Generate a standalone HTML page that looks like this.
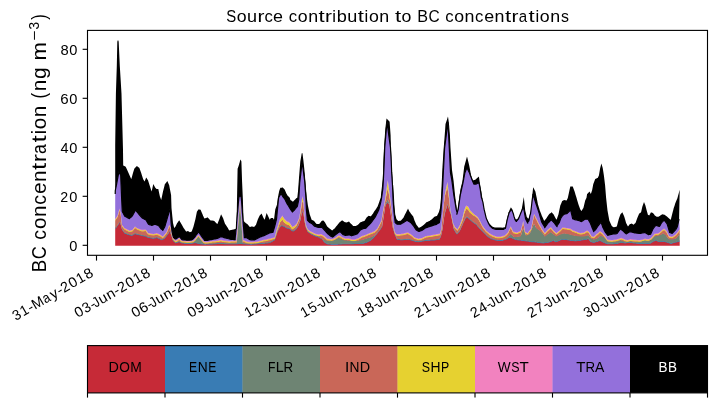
<!DOCTYPE html>
<html><head><meta charset="utf-8"><title>Source contribution to BC concentrations</title>
<style>html,body{margin:0;padding:0;background:#fff;width:717px;height:402px;overflow:hidden}svg{display:block;will-change:transform}</style>
</head><body>
<svg width="717" height="402" viewBox="0 0 717 402" font-family='"Liberation Sans", sans-serif'>
<rect width="717" height="402" fill="#fff"/>
<clipPath id="ax"><rect x="87.5" y="30.4" width="620.0" height="224.9"/></clipPath>
<g clip-path="url(#ax)">
<path d="M115.2,228.6 115.9,227.7 116.8,226.5 117.0,226.3 117.2,226.0 117.3,225.9 117.6,225.5 118.4,224.2 118.7,223.7 119.2,222.9 119.5,222.4 119.8,222.8 120.1,223.1 120.5,223.6 120.7,224.3 121.0,225.5 121.2,226.2 121.5,227.3 121.7,228.1 122.0,229.2 123.0,230.8 123.2,231.1 124.4,233.0 125.2,233.3 125.7,233.5 127.2,234.0 128.2,234.4 129.2,234.7 129.4,234.8 131.2,235.3 131.3,235.3 131.9,235.5 132.5,235.1 133.2,234.7 134.4,234.0 135.0,233.6 135.2,233.7 135.6,233.8 136.9,234.2 137.2,234.3 138.1,234.5 139.2,234.8 139.4,234.8 141.2,235.3 141.9,235.5 143.1,235.7 143.2,235.7 144.6,235.9 145.2,236.0 145.6,236.1 146.2,236.4 147.2,236.9 148.1,237.3 149.2,237.5 150.0,237.7 151.2,237.9 151.6,238.0 151.8,238.0 153.1,238.3 153.2,238.3 153.3,238.3 154.9,238.0 155.2,237.9 155.3,237.9 156.6,237.6 156.8,237.6 157.2,237.8 158.0,238.1 158.3,238.2 159.2,238.6 159.3,238.6 159.9,238.9 160.5,239.2 161.2,239.5 161.8,239.8 163.0,239.2 163.2,239.1 164.3,238.6 164.9,237.9 165.2,237.5 165.5,237.1 166.8,235.5 167.2,235.0 167.4,234.8 168.0,233.9 169.2,232.1 169.9,231.1 170.5,232.9 171.1,234.8 171.2,235.1 171.5,236.0 171.7,236.6 172.4,238.6 173.0,240.4 173.2,240.6 173.6,241.0 174.2,241.6 175.2,242.6 175.5,242.9 176.7,242.5 177.2,242.3 177.3,242.3 179.2,241.7 181.1,242.6 181.2,242.7 181.7,242.9 183.2,243.1 183.6,243.1 184.2,243.2 185.2,243.3 186.1,243.4 186.7,243.5 187.2,243.5 187.9,243.5 189.2,243.4 189.8,243.4 191.2,243.3 191.7,243.3 193.0,243.0 193.2,243.0 193.5,242.9 195.0,242.6 195.2,242.6 195.4,242.7 196.0,242.8 196.9,243.1 197.2,243.1 198.5,243.5 198.7,243.5 199.2,243.6 200.6,243.7 201.2,243.8 202.5,243.9 203.2,244.0 203.7,244.1 204.3,244.1 205.0,244.2 205.2,244.2 206.2,244.1 207.2,244.1 207.4,244.1 209.2,244.0 209.3,244.0 210.6,243.9 211.2,243.9 212.4,243.9 213.2,243.8 213.7,243.8 214.3,243.8 215.2,243.7 216.2,243.7 217.2,243.6 217.4,243.6 219.2,243.5 219.3,243.5 219.9,243.5 221.1,243.5 221.2,243.6 223.0,243.6 223.2,243.6 224.9,243.7 225.2,243.7 227.2,243.8 227.4,243.8 229.2,243.8 229.8,243.8 231.1,243.8 231.2,243.8 233.2,243.8 233.6,243.8 235.1,243.8 235.2,243.8 235.6,243.8 236.1,243.8 236.3,243.8 236.4,243.8 236.5,243.8 236.7,243.8 237.0,243.7 237.2,243.7 237.6,243.7 238.5,243.6 239.2,243.5 239.3,243.5 239.7,243.5 239.8,243.5 240.0,243.5 240.4,243.5 240.5,243.5 240.8,243.6 241.2,243.6 241.4,243.6 242.1,243.6 242.8,243.7 242.9,243.7 243.1,243.7 243.2,243.7 243.5,243.7 243.8,243.7 244.8,243.8 245.2,243.8 246.0,243.9 247.2,244.0 247.3,244.0 249.2,244.1 249.8,244.1 251.0,244.2 251.2,244.2 252.2,244.1 253.2,244.1 254.1,244.0 254.7,244.0 255.2,243.9 256.0,243.9 257.2,243.8 257.9,243.7 259.2,243.6 259.7,243.6 261.2,243.5 261.6,243.5 262.2,243.4 263.2,243.3 263.5,243.3 264.7,243.2 265.2,243.1 266.6,242.9 267.2,242.9 268.4,242.7 269.2,242.7 269.7,242.6 270.9,241.9 271.2,241.8 272.2,241.2 272.8,240.9 273.2,240.6 273.4,240.5 274.0,240.2 274.7,239.8 275.2,238.3 275.3,238.0 276.5,234.4 277.1,232.6 277.2,232.3 277.3,232.0 277.9,230.8 278.2,230.1 278.4,229.7 279.0,228.5 279.2,228.2 279.9,227.3 280.4,226.6 280.5,226.5 281.0,226.1 281.2,225.9 281.7,225.5 282.4,225.8 282.9,225.9 283.2,226.0 284.2,226.4 284.8,226.8 285.2,227.0 286.6,227.9 286.7,228.0 287.2,228.1 287.9,228.3 288.6,228.5 289.2,228.6 289.8,229.1 290.4,229.5 291.2,230.1 291.7,230.5 292.3,230.7 292.9,230.9 293.2,231.0 293.6,231.1 294.8,230.1 295.2,229.8 295.4,229.7 296.0,229.2 296.7,228.2 297.2,227.4 297.3,227.3 297.9,226.4 298.1,226.1 298.5,225.5 299.1,223.7 299.2,223.4 299.3,223.1 300.3,220.2 300.4,219.9 301.0,216.8 301.2,215.8 301.6,213.7 302.0,212.7 302.2,212.2 302.3,212.0 302.5,211.5 302.6,211.2 303.2,212.9 303.4,213.4 303.5,213.7 304.1,217.7 304.7,221.7 304.8,222.4 305.2,224.3 305.3,224.7 305.8,227.1 305.9,227.5 306.0,228.0 306.6,229.2 306.8,229.6 307.2,230.3 307.9,231.7 309.1,232.6 309.2,232.7 309.7,233.1 310.4,233.6 311.2,234.0 311.6,234.2 313.2,235.0 314.1,235.5 315.2,235.9 316.6,236.3 317.2,236.5 317.8,236.7 319.1,237.3 319.2,237.4 320.9,238.2 321.2,238.4 321.6,238.6 322.8,240.0 323.2,240.5 323.4,240.7 324.0,241.5 324.7,242.3 325.2,242.6 325.3,242.7 327.2,243.8 327.8,243.9 329.2,244.0 329.6,244.0 330.3,244.1 331.2,244.2 331.5,244.2 332.1,244.2 332.8,244.2 333.2,244.2 334.6,244.2 335.2,244.2 336.5,244.2 337.1,244.2 337.2,244.2 338.4,244.1 339.0,244.0 339.2,244.0 339.6,244.0 340.0,244.0 341.2,243.9 342.2,243.8 342.7,243.8 343.2,243.8 344.5,243.8 345.2,243.8 345.4,243.8 346.7,243.8 347.2,243.8 349.0,243.8 349.2,243.8 350.2,243.8 351.2,243.8 351.6,243.7 353.2,243.7 353.4,243.7 354.3,243.6 355.2,243.6 355.7,243.6 357.2,243.5 357.7,243.5 357.9,243.5 358.8,243.5 359.2,243.5 360.1,243.5 360.6,243.5 361.2,243.5 361.5,243.5 362.4,243.5 363.2,243.3 363.3,243.2 364.2,243.0 364.6,242.8 365.2,242.7 366.0,242.4 366.8,242.2 367.2,242.0 368.6,241.3 369.2,241.0 369.5,240.8 370.4,240.4 370.9,240.0 371.2,239.7 371.3,239.6 372.2,238.8 372.7,238.4 373.2,237.9 374.0,237.2 374.9,236.1 375.2,235.7 375.8,235.0 375.9,234.9 377.2,233.3 377.6,232.8 377.8,232.5 378.6,231.5 379.2,230.7 379.4,230.4 379.7,230.0 380.7,228.7 381.2,228.0 381.4,227.7 381.5,227.6 382.0,226.9 382.2,225.7 382.8,222.1 383.1,220.2 383.2,219.6 383.4,218.4 383.7,216.6 384.0,214.6 384.9,208.6 385.2,206.5 385.3,205.9 385.4,205.2 386.5,203.6 387.1,202.8 387.2,202.7 387.8,201.8 389.2,204.8 389.4,205.2 389.6,206.5 389.9,208.6 390.0,209.2 390.6,213.2 390.9,215.3 391.1,216.6 391.2,217.2 391.5,219.2 391.7,220.4 391.9,221.7 392.1,223.0 392.5,225.5 392.9,228.1 393.1,228.7 393.2,229.0 393.4,229.6 394.0,231.5 394.4,232.7 394.6,233.4 395.1,234.9 395.2,235.1 396.5,237.9 397.1,239.2 397.2,239.2 398.3,239.4 399.2,239.5 399.6,239.6 400.8,239.8 401.2,239.8 403.2,239.7 403.3,239.7 403.9,239.6 404.6,239.6 405.2,239.5 405.8,239.5 407.0,239.3 407.2,239.3 407.7,239.3 408.0,239.2 408.3,239.2 409.2,239.4 409.5,239.5 410.2,239.7 410.8,239.8 411.2,239.9 411.4,240.0 413.2,240.6 413.3,240.7 414.5,241.1 415.2,241.2 415.8,241.3 416.4,241.4 417.2,241.5 418.2,241.7 418.9,241.6 419.2,241.5 421.2,241.2 421.4,241.2 422.0,241.1 423.2,240.9 423.9,240.7 425.2,240.5 425.7,240.4 426.3,240.4 427.2,240.3 429.2,240.2 429.5,240.2 430.7,240.1 431.2,240.1 431.9,240.0 433.2,239.9 434.4,239.9 435.2,239.8 435.7,239.8 436.9,239.6 437.2,239.6 438.8,239.3 439.2,239.2 439.4,239.2 440.0,238.0 440.9,236.1 441.0,235.7 441.2,234.8 441.3,234.4 441.6,233.1 442.2,230.5 442.5,229.2 442.6,228.5 443.2,224.0 443.5,221.8 443.7,220.3 443.9,218.8 444.5,214.3 444.8,213.3 444.9,213.0 445.2,212.0 445.5,211.0 447.2,205.5 447.4,204.8 447.5,204.5 447.7,205.1 448.0,205.9 448.7,208.0 448.9,208.5 449.2,209.4 449.3,209.7 449.9,211.4 450.5,213.1 450.6,213.4 450.9,214.3 451.2,215.8 452.0,219.8 452.4,221.8 453.2,225.7 453.6,227.7 453.9,229.2 454.9,230.9 455.0,231.1 455.2,231.4 455.7,232.3 456.3,233.3 456.6,233.8 457.2,233.8 457.4,233.8 458.3,232.6 458.7,232.1 459.2,231.4 459.4,231.2 459.9,230.5 460.5,229.2 460.9,228.3 461.2,227.6 462.4,224.9 463.2,223.1 463.6,222.2 464.2,220.9 464.3,220.6 464.9,219.3 465.2,218.9 465.5,218.5 466.1,217.7 466.8,216.8 467.0,217.0 467.2,217.1 468.0,217.8 468.8,218.4 469.2,218.7 469.9,219.4 471.1,220.5 471.2,220.6 472.4,221.8 472.9,222.1 473.0,222.2 473.2,222.3 473.6,222.6 475.2,223.7 475.4,223.8 476.0,224.2 476.1,224.3 477.2,225.6 477.3,225.7 478.0,226.5 478.5,227.1 478.9,227.6 479.2,227.9 479.8,228.6 480.0,228.8 480.8,229.6 481.2,230.0 481.3,230.1 482.3,231.0 482.9,231.6 483.2,231.9 483.6,232.3 484.2,232.9 485.2,233.9 485.4,234.1 486.0,234.8 487.2,236.0 487.3,236.1 487.9,236.5 489.2,237.4 489.8,237.8 491.0,238.6 491.2,238.7 492.3,239.0 493.2,239.3 493.5,239.4 494.8,239.8 495.2,239.9 496.0,240.0 497.2,240.2 498.5,240.4 499.2,240.4 499.7,240.4 501.0,240.4 501.2,240.4 502.2,240.4 503.2,240.1 503.5,240.0 504.7,239.6 505.2,239.5 505.3,239.4 506.0,239.2 507.0,238.6 507.2,238.5 507.8,238.1 508.0,238.0 509.1,237.3 509.2,237.3 509.7,237.3 510.7,237.3 510.9,237.3 511.2,237.5 511.3,237.5 512.2,238.0 512.8,238.3 513.2,238.5 513.4,238.6 514.0,238.8 514.1,238.8 514.4,238.9 515.2,239.2 515.9,239.4 516.2,239.5 517.0,239.7 517.2,239.8 517.8,239.8 519.0,239.9 519.2,240.0 519.7,240.0 520.7,240.1 520.9,240.1 521.2,240.1 521.5,240.2 523.0,240.4 523.2,240.4 523.8,240.5 525.0,240.7 525.1,240.7 525.2,240.7 525.9,240.8 526.7,240.9 527.2,241.0 527.4,241.0 528.0,241.1 528.3,241.1 529.2,241.3 529.5,241.3 529.6,241.4 530.5,241.5 531.1,241.6 531.2,241.6 531.5,241.7 531.7,241.7 532.0,241.7 533.1,241.7 533.2,241.7 534.1,241.7 534.2,241.7 535.2,241.9 535.4,241.9 535.6,241.9 536.0,242.0 536.3,242.0 536.7,242.1 537.2,242.2 537.8,242.3 537.9,242.3 538.6,242.4 539.2,242.5 539.3,242.5 539.5,242.5 539.8,242.5 541.0,242.7 541.2,242.7 541.7,242.8 542.3,242.8 542.9,242.9 543.2,242.9 544.2,242.7 544.9,242.7 545.2,242.6 546.6,242.5 547.2,242.4 547.5,242.3 547.9,242.3 548.0,242.3 549.1,241.9 549.2,241.9 550.8,241.4 551.2,241.2 551.6,241.1 553.2,240.5 553.5,240.4 554.0,240.7 555.2,241.6 555.4,241.7 556.3,241.5 556.6,241.4 556.7,241.4 557.2,241.2 557.8,241.1 558.5,240.7 559.2,240.4 560.0,240.0 560.3,239.8 561.2,239.7 561.6,239.6 562.2,239.5 562.8,239.4 563.2,239.3 564.1,239.2 565.2,239.4 566.6,239.6 567.2,239.7 567.8,239.8 569.2,240.0 570.3,240.2 571.2,240.4 571.5,240.4 572.2,240.5 572.8,240.5 573.2,240.6 574.6,240.7 575.2,240.8 575.3,240.8 576.5,240.7 577.2,240.6 578.4,240.5 579.0,240.4 579.2,240.4 580.2,240.2 581.2,240.0 581.5,240.0 582.7,239.8 583.2,239.7 583.4,239.7 584.0,239.6 585.2,239.4 586.5,239.2 587.1,239.0 587.2,239.0 587.7,238.8 588.3,238.6 589.0,239.5 589.2,239.7 589.6,240.2 590.8,241.7 591.2,241.8 591.5,241.8 592.1,242.0 593.2,242.2 593.3,242.2 593.9,242.3 595.2,242.0 595.8,241.8 596.4,241.6 597.2,241.4 597.7,241.3 598.3,241.1 598.9,240.8 599.2,240.7 600.0,240.4 600.2,240.5 600.8,240.8 601.2,241.0 601.4,241.1 602.5,241.7 602.7,241.8 603.2,242.0 603.7,242.3 603.9,242.4 605.0,242.8 605.1,242.9 605.2,242.9 606.1,243.2 607.2,243.7 607.5,243.8 609.2,243.8 609.3,243.8 611.2,243.8 611.8,243.8 612.4,243.8 613.2,243.7 613.7,243.7 615.2,243.5 616.8,243.4 617.2,243.3 617.4,243.3 618.7,243.0 619.2,242.8 620.5,242.5 621.2,242.3 622.4,242.5 623.0,242.6 623.2,242.6 623.6,242.7 624.3,242.8 624.9,242.9 625.2,242.9 626.1,242.8 627.2,242.6 627.4,242.6 628.0,242.5 629.2,242.4 629.9,242.3 630.5,242.4 631.2,242.5 631.7,242.6 633.2,242.8 633.6,242.9 634.8,243.0 635.2,243.1 635.5,243.1 637.2,243.3 637.3,243.3 639.2,243.4 639.8,243.4 641.1,243.5 641.2,243.5 642.3,243.4 643.2,243.4 644.0,243.3 644.8,243.3 645.0,243.3 645.2,243.3 645.4,243.3 646.7,243.4 647.2,243.4 647.9,243.4 648.3,243.4 648.5,243.4 649.2,243.5 649.8,243.5 651.0,242.7 651.2,242.6 651.6,242.3 652.3,241.9 652.9,241.5 653.2,241.3 653.5,241.1 654.0,241.0 654.8,240.7 655.2,240.6 656.0,240.4 656.6,240.6 657.2,240.8 657.3,240.9 658.5,241.3 659.2,241.5 659.7,241.7 660.4,241.6 660.6,241.6 661.2,241.5 662.2,241.4 663.1,241.3 663.2,241.3 663.5,241.3 664.1,241.4 664.7,241.6 665.2,241.7 665.5,241.7 666.6,242.0 667.2,242.1 668.0,242.4 669.1,242.8 669.2,242.9 669.6,243.0 670.8,243.5 670.9,243.5 671.2,243.4 671.7,243.2 672.2,243.1 672.9,242.9 673.2,242.8 673.6,242.6 674.7,242.3 675.2,242.2 675.4,242.1 675.9,242.0 676.2,241.9 677.2,241.7 677.3,241.7 677.8,241.6 678.4,241.4 678.7,241.3 679.2,241.2 679.7,241.1 679.7,245.8 679.2,245.8 678.7,245.8 678.4,245.8 677.8,245.8 677.3,245.8 677.2,245.8 676.2,245.8 675.9,245.8 675.4,245.8 675.2,245.8 674.7,245.8 673.6,245.8 673.2,245.8 672.9,245.8 672.2,245.8 671.7,245.8 671.2,245.8 670.9,245.8 670.8,245.8 669.6,245.8 669.2,245.8 669.1,245.8 668.0,245.8 667.2,245.8 666.6,245.8 665.5,245.8 665.2,245.8 664.7,245.8 664.1,245.8 663.5,245.8 663.2,245.8 663.1,245.8 662.2,245.8 661.2,245.8 660.6,245.8 660.4,245.8 659.7,245.8 659.2,245.8 658.5,245.8 657.3,245.8 657.2,245.8 656.6,245.8 656.0,245.8 655.2,245.8 654.8,245.8 654.0,245.8 653.5,245.8 653.2,245.8 652.9,245.8 652.3,245.8 651.6,245.8 651.2,245.8 651.0,245.8 649.8,245.8 649.2,245.8 648.5,245.8 648.3,245.8 647.9,245.8 647.2,245.8 646.7,245.8 645.4,245.8 645.2,245.8 645.0,245.8 644.8,245.8 644.0,245.8 643.2,245.8 642.3,245.8 641.2,245.8 641.1,245.8 639.8,245.8 639.2,245.8 637.3,245.8 637.2,245.8 635.5,245.8 635.2,245.8 634.8,245.8 633.6,245.8 633.2,245.8 631.7,245.8 631.2,245.8 630.5,245.8 629.9,245.8 629.2,245.8 628.0,245.8 627.4,245.8 627.2,245.8 626.1,245.8 625.2,245.8 624.9,245.8 624.3,245.8 623.6,245.8 623.2,245.8 623.0,245.8 622.4,245.8 621.2,245.8 620.5,245.8 619.2,245.8 618.7,245.8 617.4,245.8 617.2,245.8 616.8,245.8 615.2,245.8 613.7,245.8 613.2,245.8 612.4,245.8 611.8,245.8 611.2,245.8 609.3,245.8 609.2,245.8 607.5,245.8 607.2,245.8 606.1,245.8 605.2,245.8 605.1,245.8 605.0,245.8 603.9,245.8 603.7,245.8 603.2,245.8 602.7,245.8 602.5,245.8 601.4,245.8 601.2,245.8 600.8,245.8 600.2,245.8 600.0,245.8 599.2,245.8 598.9,245.8 598.3,245.8 597.7,245.8 597.2,245.8 596.4,245.8 595.8,245.8 595.2,245.8 593.9,245.8 593.3,245.8 593.2,245.8 592.1,245.8 591.5,245.8 591.2,245.8 590.8,245.8 589.6,245.8 589.2,245.8 589.0,245.8 588.3,245.8 587.7,245.8 587.2,245.8 587.1,245.8 586.5,245.8 585.2,245.8 584.0,245.8 583.4,245.8 583.2,245.8 582.7,245.8 581.5,245.8 581.2,245.8 580.2,245.8 579.2,245.8 579.0,245.8 578.4,245.8 577.2,245.8 576.5,245.8 575.3,245.8 575.2,245.8 574.6,245.8 573.2,245.8 572.8,245.8 572.2,245.8 571.5,245.8 571.2,245.8 570.3,245.8 569.2,245.8 567.8,245.8 567.2,245.8 566.6,245.8 565.2,245.8 564.1,245.8 563.2,245.8 562.8,245.8 562.2,245.8 561.6,245.8 561.2,245.8 560.3,245.8 560.0,245.8 559.2,245.8 558.5,245.8 557.8,245.8 557.2,245.8 556.7,245.8 556.6,245.8 556.3,245.8 555.4,245.8 555.2,245.8 554.0,245.8 553.5,245.8 553.2,245.8 551.6,245.8 551.2,245.8 550.8,245.8 549.2,245.8 549.1,245.8 548.0,245.8 547.9,245.8 547.5,245.8 547.2,245.8 546.6,245.8 545.2,245.8 544.9,245.8 544.2,245.8 543.2,245.8 542.9,245.8 542.3,245.8 541.7,245.8 541.2,245.8 541.0,245.8 539.8,245.8 539.5,245.8 539.3,245.8 539.2,245.8 538.6,245.8 537.9,245.8 537.8,245.8 537.2,245.8 536.7,245.8 536.3,245.8 536.0,245.8 535.6,245.8 535.4,245.8 535.2,245.8 534.2,245.8 534.1,245.8 533.2,245.8 533.1,245.8 532.0,245.8 531.7,245.8 531.5,245.8 531.2,245.8 531.1,245.8 530.5,245.8 529.6,245.8 529.5,245.8 529.2,245.8 528.3,245.8 528.0,245.8 527.4,245.8 527.2,245.8 526.7,245.8 525.9,245.8 525.2,245.8 525.1,245.8 525.0,245.8 523.8,245.8 523.2,245.8 523.0,245.8 521.5,245.8 521.2,245.8 520.9,245.8 520.7,245.8 519.7,245.8 519.2,245.8 519.0,245.8 517.8,245.8 517.2,245.8 517.0,245.8 516.2,245.8 515.9,245.8 515.2,245.8 514.4,245.8 514.1,245.8 514.0,245.8 513.4,245.8 513.2,245.8 512.8,245.8 512.2,245.8 511.3,245.8 511.2,245.8 510.9,245.8 510.7,245.8 509.7,245.8 509.2,245.8 509.1,245.8 508.0,245.8 507.8,245.8 507.2,245.8 507.0,245.8 506.0,245.8 505.3,245.8 505.2,245.8 504.7,245.8 503.5,245.8 503.2,245.8 502.2,245.8 501.2,245.8 501.0,245.8 499.7,245.8 499.2,245.8 498.5,245.8 497.2,245.8 496.0,245.8 495.2,245.8 494.8,245.8 493.5,245.8 493.2,245.8 492.3,245.8 491.2,245.8 491.0,245.8 489.8,245.8 489.2,245.8 487.9,245.8 487.3,245.8 487.2,245.8 486.0,245.8 485.4,245.8 485.2,245.8 484.2,245.8 483.6,245.8 483.2,245.8 482.9,245.8 482.3,245.8 481.3,245.8 481.2,245.8 480.8,245.8 480.0,245.8 479.8,245.8 479.2,245.8 478.9,245.8 478.5,245.8 478.0,245.8 477.3,245.8 477.2,245.8 476.1,245.8 476.0,245.8 475.4,245.8 475.2,245.8 473.6,245.8 473.2,245.8 473.0,245.8 472.9,245.8 472.4,245.8 471.2,245.8 471.1,245.8 469.9,245.8 469.2,245.8 468.8,245.8 468.0,245.8 467.2,245.8 467.0,245.8 466.8,245.8 466.1,245.8 465.5,245.8 465.2,245.8 464.9,245.8 464.3,245.8 464.2,245.8 463.6,245.8 463.2,245.8 462.4,245.8 461.2,245.8 460.9,245.8 460.5,245.8 459.9,245.8 459.4,245.8 459.2,245.8 458.7,245.8 458.3,245.8 457.4,245.8 457.2,245.8 456.6,245.8 456.3,245.8 455.7,245.8 455.2,245.8 455.0,245.8 454.9,245.8 453.9,245.8 453.6,245.8 453.2,245.8 452.4,245.8 452.0,245.8 451.2,245.8 450.9,245.8 450.6,245.8 450.5,245.8 449.9,245.8 449.3,245.8 449.2,245.8 448.9,245.8 448.7,245.8 448.0,245.8 447.7,245.8 447.5,245.8 447.4,245.8 447.2,245.8 445.5,245.8 445.2,245.8 444.9,245.8 444.8,245.8 444.5,245.8 443.9,245.8 443.7,245.8 443.5,245.8 443.2,245.8 442.6,245.8 442.5,245.8 442.2,245.8 441.6,245.8 441.3,245.8 441.2,245.8 441.0,245.8 440.9,245.8 440.0,245.8 439.4,245.8 439.2,245.8 438.8,245.8 437.2,245.8 436.9,245.8 435.7,245.8 435.2,245.8 434.4,245.8 433.2,245.8 431.9,245.8 431.2,245.8 430.7,245.8 429.5,245.8 429.2,245.8 427.2,245.8 426.3,245.8 425.7,245.8 425.2,245.8 423.9,245.8 423.2,245.8 422.0,245.8 421.4,245.8 421.2,245.8 419.2,245.8 418.9,245.8 418.2,245.8 417.2,245.8 416.4,245.8 415.8,245.8 415.2,245.8 414.5,245.8 413.3,245.8 413.2,245.8 411.4,245.8 411.2,245.8 410.8,245.8 410.2,245.8 409.5,245.8 409.2,245.8 408.3,245.8 408.0,245.8 407.7,245.8 407.2,245.8 407.0,245.8 405.8,245.8 405.2,245.8 404.6,245.8 403.9,245.8 403.3,245.8 403.2,245.8 401.2,245.8 400.8,245.8 399.6,245.8 399.2,245.8 398.3,245.8 397.2,245.8 397.1,245.8 396.5,245.8 395.2,245.8 395.1,245.8 394.6,245.8 394.4,245.8 394.0,245.8 393.4,245.8 393.2,245.8 393.1,245.8 392.9,245.8 392.5,245.8 392.1,245.8 391.9,245.8 391.7,245.8 391.5,245.8 391.2,245.8 391.1,245.8 390.9,245.8 390.6,245.8 390.0,245.8 389.9,245.8 389.6,245.8 389.4,245.8 389.2,245.8 387.8,245.8 387.2,245.8 387.1,245.8 386.5,245.8 385.4,245.8 385.3,245.8 385.2,245.8 384.9,245.8 384.0,245.8 383.7,245.8 383.4,245.8 383.2,245.8 383.1,245.8 382.8,245.8 382.2,245.8 382.0,245.8 381.5,245.8 381.4,245.8 381.2,245.8 380.7,245.8 379.7,245.8 379.4,245.8 379.2,245.8 378.6,245.8 377.8,245.8 377.6,245.8 377.2,245.8 375.9,245.8 375.8,245.8 375.2,245.8 374.9,245.8 374.0,245.8 373.2,245.8 372.7,245.8 372.2,245.8 371.3,245.8 371.2,245.8 370.9,245.8 370.4,245.8 369.5,245.8 369.2,245.8 368.6,245.8 367.2,245.8 366.8,245.8 366.0,245.8 365.2,245.8 364.6,245.8 364.2,245.8 363.3,245.8 363.2,245.8 362.4,245.8 361.5,245.8 361.2,245.8 360.6,245.8 360.1,245.8 359.2,245.8 358.8,245.8 357.9,245.8 357.7,245.8 357.2,245.8 355.7,245.8 355.2,245.8 354.3,245.8 353.4,245.8 353.2,245.8 351.6,245.8 351.2,245.8 350.2,245.8 349.2,245.8 349.0,245.8 347.2,245.8 346.7,245.8 345.4,245.8 345.2,245.8 344.5,245.8 343.2,245.8 342.7,245.8 342.2,245.8 341.2,245.8 340.0,245.8 339.6,245.8 339.2,245.8 339.0,245.8 338.4,245.8 337.2,245.8 337.1,245.8 336.5,245.8 335.2,245.8 334.6,245.8 333.2,245.8 332.8,245.8 332.1,245.8 331.5,245.8 331.2,245.8 330.3,245.8 329.6,245.8 329.2,245.8 327.8,245.8 327.2,245.8 325.3,245.8 325.2,245.8 324.7,245.8 324.0,245.8 323.4,245.8 323.2,245.8 322.8,245.8 321.6,245.8 321.2,245.8 320.9,245.8 319.2,245.8 319.1,245.8 317.8,245.8 317.2,245.8 316.6,245.8 315.2,245.8 314.1,245.8 313.2,245.8 311.6,245.8 311.2,245.8 310.4,245.8 309.7,245.8 309.2,245.8 309.1,245.8 307.9,245.8 307.2,245.8 306.8,245.8 306.6,245.8 306.0,245.8 305.9,245.8 305.8,245.8 305.3,245.8 305.2,245.8 304.8,245.8 304.7,245.8 304.1,245.8 303.5,245.8 303.4,245.8 303.2,245.8 302.6,245.8 302.5,245.8 302.3,245.8 302.2,245.8 302.0,245.8 301.6,245.8 301.2,245.8 301.0,245.8 300.4,245.8 300.3,245.8 299.3,245.8 299.2,245.8 299.1,245.8 298.5,245.8 298.1,245.8 297.9,245.8 297.3,245.8 297.2,245.8 296.7,245.8 296.0,245.8 295.4,245.8 295.2,245.8 294.8,245.8 293.6,245.8 293.2,245.8 292.9,245.8 292.3,245.8 291.7,245.8 291.2,245.8 290.4,245.8 289.8,245.8 289.2,245.8 288.6,245.8 287.9,245.8 287.2,245.8 286.7,245.8 286.6,245.8 285.2,245.8 284.8,245.8 284.2,245.8 283.2,245.8 282.9,245.8 282.4,245.8 281.7,245.8 281.2,245.8 281.0,245.8 280.5,245.8 280.4,245.8 279.9,245.8 279.2,245.8 279.0,245.8 278.4,245.8 278.2,245.8 277.9,245.8 277.3,245.8 277.2,245.8 277.1,245.8 276.5,245.8 275.3,245.8 275.2,245.8 274.7,245.8 274.0,245.8 273.4,245.8 273.2,245.8 272.8,245.8 272.2,245.8 271.2,245.8 270.9,245.8 269.7,245.8 269.2,245.8 268.4,245.8 267.2,245.8 266.6,245.8 265.2,245.8 264.7,245.8 263.5,245.8 263.2,245.8 262.2,245.8 261.6,245.8 261.2,245.8 259.7,245.8 259.2,245.8 257.9,245.8 257.2,245.8 256.0,245.8 255.2,245.8 254.7,245.8 254.1,245.8 253.2,245.8 252.2,245.8 251.2,245.8 251.0,245.8 249.8,245.8 249.2,245.8 247.3,245.8 247.2,245.8 246.0,245.8 245.2,245.8 244.8,245.8 243.8,245.8 243.5,245.8 243.2,245.8 243.1,245.8 242.9,245.8 242.8,245.8 242.1,245.8 241.4,245.8 241.2,245.8 240.8,245.8 240.5,245.8 240.4,245.8 240.0,245.8 239.8,245.8 239.7,245.8 239.3,245.8 239.2,245.8 238.5,245.8 237.6,245.8 237.2,245.8 237.0,245.8 236.7,245.8 236.5,245.8 236.4,245.8 236.3,245.8 236.1,245.8 235.6,245.8 235.2,245.8 235.1,245.8 233.6,245.8 233.2,245.8 231.2,245.8 231.1,245.8 229.8,245.8 229.2,245.8 227.4,245.8 227.2,245.8 225.2,245.8 224.9,245.8 223.2,245.8 223.0,245.8 221.2,245.8 221.1,245.8 219.9,245.8 219.3,245.8 219.2,245.8 217.4,245.8 217.2,245.8 216.2,245.8 215.2,245.8 214.3,245.8 213.7,245.8 213.2,245.8 212.4,245.8 211.2,245.8 210.6,245.8 209.3,245.8 209.2,245.8 207.4,245.8 207.2,245.8 206.2,245.8 205.2,245.8 205.0,245.8 204.3,245.8 203.7,245.8 203.2,245.8 202.5,245.8 201.2,245.8 200.6,245.8 199.2,245.8 198.7,245.8 198.5,245.8 197.2,245.8 196.9,245.8 196.0,245.8 195.4,245.8 195.2,245.8 195.0,245.8 193.5,245.8 193.2,245.8 193.0,245.8 191.7,245.8 191.2,245.8 189.8,245.8 189.2,245.8 187.9,245.8 187.2,245.8 186.7,245.8 186.1,245.8 185.2,245.8 184.2,245.8 183.6,245.8 183.2,245.8 181.7,245.8 181.2,245.8 181.1,245.8 179.2,245.8 177.3,245.8 177.2,245.8 176.7,245.8 175.5,245.8 175.2,245.8 174.2,245.8 173.6,245.8 173.2,245.8 173.0,245.8 172.4,245.8 171.7,245.8 171.5,245.8 171.2,245.8 171.1,245.8 170.5,245.8 169.9,245.8 169.2,245.8 168.0,245.8 167.4,245.8 167.2,245.8 166.8,245.8 165.5,245.8 165.2,245.8 164.9,245.8 164.3,245.8 163.2,245.8 163.0,245.8 161.8,245.8 161.2,245.8 160.5,245.8 159.9,245.8 159.3,245.8 159.2,245.8 158.3,245.8 158.0,245.8 157.2,245.8 156.8,245.8 156.6,245.8 155.3,245.8 155.2,245.8 154.9,245.8 153.3,245.8 153.2,245.8 153.1,245.8 151.8,245.8 151.6,245.8 151.2,245.8 150.0,245.8 149.2,245.8 148.1,245.8 147.2,245.8 146.2,245.8 145.6,245.8 145.2,245.8 144.6,245.8 143.2,245.8 143.1,245.8 141.9,245.8 141.2,245.8 139.4,245.8 139.2,245.8 138.1,245.8 137.2,245.8 136.9,245.8 135.6,245.8 135.2,245.8 135.0,245.8 134.4,245.8 133.2,245.8 132.5,245.8 131.9,245.8 131.3,245.8 131.2,245.8 129.4,245.8 129.2,245.8 128.2,245.8 127.2,245.8 125.7,245.8 125.2,245.8 124.4,245.8 123.2,245.8 123.0,245.8 122.0,245.8 121.7,245.8 121.5,245.8 121.2,245.8 121.0,245.8 120.7,245.8 120.5,245.8 120.1,245.8 119.8,245.8 119.5,245.8 119.2,245.8 118.7,245.8 118.4,245.8 117.6,245.8 117.3,245.8 117.2,245.8 117.0,245.8 116.8,245.8 115.9,245.8 115.2,245.8Z" fill="#c62a37"/>
<path d="M115.2,228.0 115.9,227.1 116.8,225.9 117.0,225.7 117.2,225.4 117.3,225.3 117.6,224.9 118.4,223.6 118.7,223.1 119.2,222.3 119.5,221.8 119.8,222.2 120.1,222.5 120.5,223.0 120.7,223.7 121.0,224.9 121.2,225.6 121.5,226.7 121.7,227.5 122.0,228.6 123.0,230.2 123.2,230.5 124.4,232.4 125.2,232.7 125.7,232.9 127.2,233.4 128.2,233.8 129.2,234.1 129.4,234.2 131.2,234.7 131.3,234.7 131.9,234.9 132.5,234.5 133.2,234.1 134.4,233.4 135.0,233.0 135.2,233.1 135.6,233.2 136.9,233.6 137.2,233.7 138.1,233.9 139.2,234.2 139.4,234.2 141.2,234.7 141.9,234.9 143.1,235.1 143.2,235.1 144.6,235.3 145.2,235.4 145.6,235.5 146.2,235.8 147.2,236.3 148.1,236.7 149.2,236.9 150.0,237.1 151.2,237.3 151.6,237.4 151.8,237.4 153.1,237.7 153.2,237.7 153.3,237.7 154.9,237.4 155.2,237.3 155.3,237.3 156.6,237.0 156.8,237.0 157.2,237.2 158.0,237.5 158.3,237.6 159.2,238.0 159.3,238.0 159.9,238.3 160.5,238.6 161.2,238.9 161.8,239.2 163.0,238.6 163.2,238.5 164.3,238.0 164.9,237.3 165.2,236.9 165.5,236.5 166.8,234.9 167.2,234.4 167.4,234.2 168.0,233.3 169.2,231.5 169.9,230.5 170.5,232.3 171.1,234.2 171.2,234.5 171.5,235.4 171.7,236.0 172.4,238.0 173.0,239.8 173.2,240.0 173.6,240.4 174.2,241.0 175.2,242.0 175.5,242.3 176.7,241.9 177.2,241.7 177.3,241.7 179.2,241.1 181.1,242.0 181.2,242.1 181.7,242.3 183.2,242.5 183.6,242.5 184.2,242.6 185.2,242.7 186.1,242.8 186.7,242.9 187.2,242.9 187.9,242.9 189.2,242.8 189.8,242.8 191.2,242.7 191.7,242.7 193.0,242.4 193.2,242.4 193.5,242.3 195.0,242.0 195.2,242.0 195.4,242.1 196.0,242.2 196.9,242.5 197.2,242.5 198.5,242.9 198.7,242.9 199.2,243.0 200.6,243.1 201.2,243.2 202.5,243.3 203.2,243.4 203.7,243.5 204.3,243.5 205.0,243.6 205.2,243.6 206.2,243.5 207.2,243.5 207.4,243.5 209.2,243.4 209.3,243.4 210.6,243.3 211.2,243.3 212.4,243.3 213.2,243.2 213.7,243.2 214.3,243.2 215.2,243.1 216.2,243.1 217.2,243.0 217.4,243.0 219.2,242.9 219.3,242.9 219.9,242.9 221.1,242.9 221.2,243.0 223.0,243.0 223.2,243.0 224.9,243.1 225.2,243.1 227.2,243.2 227.4,243.2 229.2,243.2 229.8,243.2 231.1,243.2 231.2,243.2 233.2,243.2 233.6,243.2 235.1,243.2 235.2,243.2 235.6,243.2 236.1,243.2 236.3,243.2 236.4,243.2 236.5,243.2 236.7,243.2 237.0,243.1 237.2,243.1 237.6,243.1 238.5,243.0 239.2,242.9 239.3,242.9 239.7,242.9 239.8,242.9 240.0,242.9 240.4,242.9 240.5,242.9 240.8,243.0 241.2,243.0 241.4,243.0 242.1,243.0 242.8,243.1 242.9,243.1 243.1,243.1 243.2,243.1 243.5,243.1 243.8,243.1 244.8,243.2 245.2,243.2 246.0,243.3 247.2,243.4 247.3,243.4 249.2,243.5 249.8,243.5 251.0,243.6 251.2,243.6 252.2,243.5 253.2,243.5 254.1,243.4 254.7,243.4 255.2,243.3 256.0,243.3 257.2,243.2 257.9,243.1 259.2,243.0 259.7,243.0 261.2,242.9 261.6,242.9 262.2,242.8 263.2,242.7 263.5,242.7 264.7,242.6 265.2,242.5 266.6,242.3 267.2,242.3 268.4,242.1 269.2,242.1 269.7,242.0 270.9,241.3 271.2,241.2 272.2,240.6 272.8,240.3 273.2,240.0 273.4,239.9 274.0,239.6 274.7,239.2 275.2,237.7 275.3,237.4 276.5,233.8 277.1,232.0 277.2,231.7 277.3,231.4 277.9,230.2 278.2,229.5 278.4,229.1 279.0,227.9 279.2,227.6 279.9,226.7 280.4,226.0 280.5,225.9 281.0,225.5 281.2,225.3 281.7,224.9 282.4,225.2 282.9,225.3 283.2,225.4 284.2,225.8 284.8,226.2 285.2,226.4 286.6,227.3 286.7,227.4 287.2,227.5 287.9,227.7 288.6,227.9 289.2,228.0 289.8,228.5 290.4,228.9 291.2,229.5 291.7,229.9 292.3,230.1 292.9,230.3 293.2,230.4 293.6,230.5 294.8,229.5 295.2,229.2 295.4,229.1 296.0,228.6 296.7,227.6 297.2,226.8 297.3,226.7 297.9,225.8 298.1,225.5 298.5,224.9 299.1,223.1 299.2,222.8 299.3,222.5 300.3,219.6 300.4,219.3 301.0,216.2 301.2,215.2 301.6,213.1 302.0,212.1 302.2,211.6 302.3,211.4 302.5,210.9 302.6,210.6 303.2,212.3 303.4,212.8 303.5,213.1 304.1,217.1 304.7,221.1 304.8,221.8 305.2,223.7 305.3,224.1 305.8,226.5 305.9,226.9 306.0,227.4 306.6,228.6 306.8,229.0 307.2,229.7 307.9,231.1 309.1,232.0 309.2,232.1 309.7,232.5 310.4,233.0 311.2,233.4 311.6,233.6 313.2,234.4 314.1,234.9 315.2,235.3 316.6,235.7 317.2,235.9 317.8,236.1 319.1,236.8 319.2,236.8 320.9,237.6 321.2,237.8 321.6,238.0 322.8,239.4 323.2,239.9 323.4,240.1 324.0,240.9 324.7,241.7 325.2,242.0 325.3,242.1 327.2,243.2 327.8,243.3 329.2,243.4 329.6,243.4 330.3,243.5 331.2,243.6 331.5,243.6 332.1,243.6 332.8,243.6 333.2,243.6 334.6,243.6 335.2,243.6 336.5,243.6 337.1,243.6 337.2,243.6 338.4,243.5 339.0,243.4 339.2,243.4 339.6,243.4 340.0,243.4 341.2,243.3 342.2,243.2 342.7,243.2 343.2,243.2 344.5,243.2 345.2,243.2 345.4,243.2 346.7,243.2 347.2,243.2 349.0,243.2 349.2,243.2 350.2,243.2 351.2,243.2 351.6,243.1 353.2,243.1 353.4,243.1 354.3,243.0 355.2,243.0 355.7,243.0 357.2,242.9 357.7,242.9 357.9,242.9 358.8,242.9 359.2,242.9 360.1,242.9 360.6,242.9 361.2,242.9 361.5,242.9 362.4,242.9 363.2,242.7 363.3,242.6 364.2,242.4 364.6,242.2 365.2,242.1 366.0,241.8 366.8,241.6 367.2,241.4 368.6,240.7 369.2,240.4 369.5,240.2 370.4,239.8 370.9,239.4 371.2,239.1 371.3,239.0 372.2,238.2 372.7,237.8 373.2,237.3 374.0,236.6 374.9,235.5 375.2,235.1 375.8,234.4 375.9,234.3 377.2,232.7 377.6,232.2 377.8,231.9 378.6,230.9 379.2,230.1 379.4,229.8 379.7,229.4 380.7,228.1 381.2,227.4 381.4,227.1 381.5,227.0 382.0,226.3 382.2,225.1 382.8,221.5 383.1,219.6 383.2,219.0 383.4,217.8 383.7,216.0 384.0,214.0 384.9,208.0 385.2,205.9 385.3,205.3 385.4,204.6 386.5,203.0 387.1,202.2 387.2,202.1 387.8,201.2 389.2,204.2 389.4,204.6 389.6,205.9 389.9,208.0 390.0,208.6 390.6,212.6 390.9,214.7 391.1,216.0 391.2,216.6 391.5,218.6 391.7,219.8 391.9,221.1 392.1,222.4 392.5,224.9 392.9,227.5 393.1,228.1 393.2,228.4 393.4,229.0 394.0,230.9 394.4,232.1 394.6,232.8 395.1,234.3 395.2,234.5 396.5,237.3 397.1,238.6 397.2,238.6 398.3,238.8 399.2,238.9 399.6,239.0 400.8,239.2 401.2,239.2 403.2,239.1 403.3,239.1 403.9,239.0 404.6,239.0 405.2,238.9 405.8,238.9 407.0,238.7 407.2,238.7 407.7,238.7 408.0,238.6 408.3,238.6 409.2,238.8 409.5,238.9 410.2,239.1 410.8,239.2 411.2,239.3 411.4,239.4 413.2,240.0 413.3,240.1 414.5,240.5 415.2,240.6 415.8,240.7 416.4,240.8 417.2,240.9 418.2,241.1 418.9,241.0 419.2,240.9 421.2,240.6 421.4,240.6 422.0,240.5 423.2,240.3 423.9,240.1 425.2,239.9 425.7,239.8 426.3,239.8 427.2,239.7 429.2,239.6 429.5,239.6 430.7,239.5 431.2,239.5 431.9,239.4 433.2,239.3 434.4,239.3 435.2,239.2 435.7,239.2 436.9,239.0 437.2,239.0 438.8,238.7 439.2,238.6 439.4,238.6 440.0,237.4 440.9,235.5 441.0,235.1 441.2,234.2 441.3,233.8 441.6,232.5 442.2,229.9 442.5,228.6 442.6,227.9 443.2,223.4 443.5,221.2 443.7,219.7 443.9,218.2 444.5,213.7 444.8,212.7 444.9,212.4 445.2,211.4 445.5,210.4 447.2,204.9 447.4,204.2 447.5,203.9 447.7,204.5 448.0,205.3 448.7,207.4 448.9,207.9 449.2,208.8 449.3,209.1 449.9,210.8 450.5,212.5 450.6,212.8 450.9,213.7 451.2,215.2 452.0,219.2 452.4,221.2 453.2,225.1 453.6,227.1 453.9,228.6 454.9,230.3 455.0,230.5 455.2,230.8 455.7,231.7 456.3,232.7 456.6,233.2 457.2,233.2 457.4,233.2 458.3,232.0 458.7,231.5 459.2,230.8 459.4,230.6 459.9,229.9 460.5,228.6 460.9,227.7 461.2,227.0 462.4,224.3 463.2,222.5 463.6,221.6 464.2,220.3 464.3,220.0 464.9,218.7 465.2,218.3 465.5,217.9 466.1,217.1 466.8,216.2 467.0,216.4 467.2,216.5 468.0,217.2 468.8,217.8 469.2,218.1 469.9,218.8 471.1,219.9 471.2,220.0 472.4,221.2 472.9,221.5 473.0,221.6 473.2,221.7 473.6,222.0 475.2,223.1 475.4,223.2 476.0,223.6 476.1,223.7 477.2,225.0 477.3,225.1 478.0,225.9 478.5,226.5 478.9,227.0 479.2,227.3 479.8,228.0 480.0,228.2 480.8,229.0 481.2,229.4 481.3,229.5 482.3,230.4 482.9,231.0 483.2,231.3 483.6,231.7 484.2,232.3 485.2,233.3 485.4,233.5 486.0,234.2 487.2,235.4 487.3,235.5 487.9,235.9 489.2,236.8 489.8,237.2 491.0,238.0 491.2,238.1 492.3,238.4 493.2,238.7 493.5,238.8 494.8,239.2 495.2,239.3 496.0,239.4 497.2,239.6 498.5,239.8 499.2,239.8 499.7,239.8 501.0,239.8 501.2,239.8 502.2,239.8 503.2,239.5 503.5,239.4 504.7,239.0 505.2,238.9 505.3,238.8 506.0,238.6 507.0,238.0 507.2,237.9 507.8,237.5 508.0,237.4 509.1,236.7 509.2,236.7 509.7,236.7 510.7,236.7 510.9,236.7 511.2,236.9 511.3,236.9 512.2,237.4 512.8,237.7 513.2,237.9 513.4,238.0 514.0,238.2 514.1,238.2 514.4,238.3 515.2,238.6 515.9,238.8 516.2,238.9 517.0,239.1 517.2,239.2 517.8,239.2 519.0,239.3 519.2,239.4 519.7,239.4 520.7,239.5 520.9,239.5 521.2,239.5 521.5,239.6 523.0,239.8 523.2,239.8 523.8,239.9 525.0,240.1 525.1,240.1 525.2,240.1 525.9,240.2 526.7,240.3 527.2,240.4 527.4,240.4 528.0,240.5 528.3,240.5 529.2,240.7 529.5,240.7 529.6,240.8 530.5,240.9 531.1,241.0 531.2,241.0 531.5,241.1 531.7,241.1 532.0,241.1 533.1,241.1 533.2,241.1 534.1,241.1 534.2,241.1 535.2,241.3 535.4,241.3 535.6,241.3 536.0,241.4 536.3,241.4 536.7,241.5 537.2,241.6 537.8,241.7 537.9,241.7 538.6,241.8 539.2,241.9 539.3,241.9 539.5,241.9 539.8,241.9 541.0,242.1 541.2,242.1 541.7,242.2 542.3,242.2 542.9,242.3 543.2,242.3 544.2,242.1 544.9,242.1 545.2,242.0 546.6,241.9 547.2,241.8 547.5,241.7 547.9,241.7 548.0,241.7 549.1,241.3 549.2,241.3 550.8,240.8 551.2,240.6 551.6,240.5 553.2,239.9 553.5,239.8 554.0,240.1 555.2,241.0 555.4,241.1 556.3,240.9 556.6,240.8 556.7,240.8 557.2,240.6 557.8,240.5 558.5,240.1 559.2,239.8 560.0,239.4 560.3,239.2 561.2,239.1 561.6,239.0 562.2,238.9 562.8,238.8 563.2,238.7 564.1,238.6 565.2,238.8 566.6,239.0 567.2,239.1 567.8,239.2 569.2,239.4 570.3,239.6 571.2,239.8 571.5,239.8 572.2,239.9 572.8,239.9 573.2,240.0 574.6,240.1 575.2,240.2 575.3,240.2 576.5,240.1 577.2,240.0 578.4,239.9 579.0,239.8 579.2,239.8 580.2,239.6 581.2,239.4 581.5,239.4 582.7,239.2 583.2,239.1 583.4,239.1 584.0,239.0 585.2,238.8 586.5,238.6 587.1,238.4 587.2,238.4 587.7,238.2 588.3,238.0 589.0,238.9 589.2,239.1 589.6,239.6 590.8,241.1 591.2,241.2 591.5,241.2 592.1,241.4 593.2,241.6 593.3,241.6 593.9,241.7 595.2,241.4 595.8,241.2 596.4,241.0 597.2,240.8 597.7,240.7 598.3,240.5 598.9,240.2 599.2,240.1 600.0,239.8 600.2,239.9 600.8,240.2 601.2,240.4 601.4,240.5 602.5,241.1 602.7,241.2 603.2,241.4 603.7,241.7 603.9,241.8 605.0,242.2 605.1,242.3 605.2,242.3 606.1,242.6 607.2,243.1 607.5,243.2 609.2,243.2 609.3,243.2 611.2,243.2 611.8,243.2 612.4,243.2 613.2,243.1 613.7,243.1 615.2,242.9 616.8,242.8 617.2,242.7 617.4,242.7 618.7,242.4 619.2,242.2 620.5,241.9 621.2,241.7 622.4,241.9 623.0,242.0 623.2,242.0 623.6,242.1 624.3,242.2 624.9,242.3 625.2,242.3 626.1,242.2 627.2,242.0 627.4,242.0 628.0,241.9 629.2,241.8 629.9,241.7 630.5,241.8 631.2,241.9 631.7,242.0 633.2,242.2 633.6,242.3 634.8,242.4 635.2,242.5 635.5,242.5 637.2,242.7 637.3,242.7 639.2,242.8 639.8,242.8 641.1,242.9 641.2,242.9 642.3,242.8 643.2,242.8 644.0,242.7 644.8,242.7 645.0,242.7 645.2,242.7 645.4,242.7 646.7,242.8 647.2,242.8 647.9,242.8 648.3,242.8 648.5,242.8 649.2,242.9 649.8,242.9 651.0,242.1 651.2,242.0 651.6,241.7 652.3,241.3 652.9,240.9 653.2,240.7 653.5,240.5 654.0,240.4 654.8,240.1 655.2,240.0 656.0,239.8 656.6,240.0 657.2,240.2 657.3,240.3 658.5,240.7 659.2,240.9 659.7,241.1 660.4,241.0 660.6,241.0 661.2,240.9 662.2,240.8 663.1,240.7 663.2,240.7 663.5,240.7 664.1,240.8 664.7,241.0 665.2,241.1 665.5,241.1 666.6,241.4 667.2,241.5 668.0,241.8 669.1,242.2 669.2,242.3 669.6,242.4 670.8,242.9 670.9,242.9 671.2,242.8 671.7,242.6 672.2,242.5 672.9,242.3 673.2,242.2 673.6,242.0 674.7,241.7 675.2,241.6 675.4,241.5 675.9,241.4 676.2,241.3 677.2,241.1 677.3,241.1 677.8,241.0 678.4,240.8 678.7,240.7 679.2,240.6 679.7,240.5 679.7,241.6 679.2,241.7 678.7,241.8 678.4,241.9 677.8,242.1 677.3,242.2 677.2,242.2 676.2,242.4 675.9,242.5 675.4,242.6 675.2,242.7 674.7,242.8 673.6,243.1 673.2,243.3 672.9,243.4 672.2,243.6 671.7,243.7 671.2,243.9 670.9,244.0 670.8,244.0 669.6,243.5 669.2,243.4 669.1,243.3 668.0,242.9 667.2,242.6 666.6,242.5 665.5,242.2 665.2,242.2 664.7,242.1 664.1,241.9 663.5,241.8 663.2,241.8 663.1,241.8 662.2,241.9 661.2,242.0 660.6,242.1 660.4,242.1 659.7,242.2 659.2,242.0 658.5,241.8 657.3,241.4 657.2,241.3 656.6,241.1 656.0,240.9 655.2,241.1 654.8,241.2 654.0,241.5 653.5,241.6 653.2,241.8 652.9,242.0 652.3,242.4 651.6,242.8 651.2,243.1 651.0,243.2 649.8,244.0 649.2,244.0 648.5,243.9 648.3,243.9 647.9,243.9 647.2,243.9 646.7,243.9 645.4,243.8 645.2,243.8 645.0,243.8 644.8,243.8 644.0,243.8 643.2,243.9 642.3,243.9 641.2,244.0 641.1,244.0 639.8,243.9 639.2,243.9 637.3,243.8 637.2,243.8 635.5,243.6 635.2,243.6 634.8,243.5 633.6,243.4 633.2,243.3 631.7,243.1 631.2,243.0 630.5,242.9 629.9,242.8 629.2,242.9 628.0,243.0 627.4,243.1 627.2,243.1 626.1,243.3 625.2,243.4 624.9,243.4 624.3,243.3 623.6,243.2 623.2,243.1 623.0,243.1 622.4,243.0 621.2,242.8 620.5,243.0 619.2,243.3 618.7,243.5 617.4,243.8 617.2,243.8 616.8,243.9 615.2,244.0 613.7,244.2 613.2,244.2 612.4,244.3 611.8,244.3 611.2,244.3 609.3,244.3 609.2,244.3 607.5,244.3 607.2,244.2 606.1,243.7 605.2,243.4 605.1,243.4 605.0,243.3 603.9,242.9 603.7,242.8 603.2,242.5 602.7,242.3 602.5,242.2 601.4,241.6 601.2,241.5 600.8,241.3 600.2,241.0 600.0,240.9 599.2,241.2 598.9,241.3 598.3,241.6 597.7,241.8 597.2,241.9 596.4,242.1 595.8,242.3 595.2,242.5 593.9,242.8 593.3,242.7 593.2,242.7 592.1,242.5 591.5,242.3 591.2,242.3 590.8,242.2 589.6,240.7 589.2,240.2 589.0,240.0 588.3,239.1 587.7,239.3 587.2,239.5 587.1,239.5 586.5,239.7 585.2,239.9 584.0,240.1 583.4,240.2 583.2,240.2 582.7,240.3 581.5,240.5 581.2,240.5 580.2,240.7 579.2,240.9 579.0,240.9 578.4,241.0 577.2,241.1 576.5,241.2 575.3,241.3 575.2,241.3 574.6,241.2 573.2,241.1 572.8,241.0 572.2,241.0 571.5,240.9 571.2,240.9 570.3,240.7 569.2,240.5 567.8,240.3 567.2,240.2 566.6,240.1 565.2,239.9 564.1,239.7 563.2,239.8 562.8,239.9 562.2,240.0 561.6,240.1 561.2,240.2 560.3,240.3 560.0,240.5 559.2,240.9 558.5,241.2 557.8,241.6 557.2,241.7 556.7,241.9 556.6,241.9 556.3,242.0 555.4,242.2 555.2,242.1 554.0,241.2 553.5,240.9 553.2,241.0 551.6,241.6 551.2,241.7 550.8,241.9 549.2,242.4 549.1,242.4 548.0,242.8 547.9,242.8 547.5,242.8 547.2,242.9 546.6,243.0 545.2,243.1 544.9,243.2 544.2,243.2 543.2,243.4 542.9,243.4 542.3,243.3 541.7,243.3 541.2,243.2 541.0,243.2 539.8,243.0 539.5,243.0 539.3,243.0 539.2,243.0 538.6,242.9 537.9,242.8 537.8,242.8 537.2,242.7 536.7,242.6 536.3,242.5 536.0,242.5 535.6,242.4 535.4,242.4 535.2,242.4 534.2,242.2 534.1,242.2 533.2,242.2 533.1,242.2 532.0,242.2 531.7,242.2 531.5,242.2 531.2,242.1 531.1,242.1 530.5,242.0 529.6,241.9 529.5,241.8 529.2,241.8 528.3,241.6 528.0,241.6 527.4,241.5 527.2,241.5 526.7,241.4 525.9,241.3 525.2,241.2 525.1,241.2 525.0,241.2 523.8,241.0 523.2,240.9 523.0,240.9 521.5,240.7 521.2,240.6 520.9,240.6 520.7,240.6 519.7,240.5 519.2,240.5 519.0,240.4 517.8,240.3 517.2,240.3 517.0,240.2 516.2,240.0 515.9,239.9 515.2,239.7 514.4,239.4 514.1,239.3 514.0,239.3 513.4,239.1 513.2,239.0 512.8,238.8 512.2,238.5 511.3,238.0 511.2,238.0 510.9,237.8 510.7,237.8 509.7,237.8 509.2,237.8 509.1,237.8 508.0,238.5 507.8,238.6 507.2,239.0 507.0,239.1 506.0,239.7 505.3,239.9 505.2,240.0 504.7,240.1 503.5,240.5 503.2,240.6 502.2,240.9 501.2,240.9 501.0,240.9 499.7,240.9 499.2,240.9 498.5,240.9 497.2,240.7 496.0,240.5 495.2,240.4 494.8,240.3 493.5,239.9 493.2,239.8 492.3,239.5 491.2,239.2 491.0,239.1 489.8,238.3 489.2,237.9 487.9,237.0 487.3,236.6 487.2,236.5 486.0,235.3 485.4,234.6 485.2,234.4 484.2,233.4 483.6,232.8 483.2,232.4 482.9,232.1 482.3,231.5 481.3,230.6 481.2,230.5 480.8,230.1 480.0,229.3 479.8,229.1 479.2,228.4 478.9,228.1 478.5,227.6 478.0,227.0 477.3,226.2 477.2,226.1 476.1,224.8 476.0,224.7 475.4,224.3 475.2,224.2 473.6,223.1 473.2,222.8 473.0,222.7 472.9,222.6 472.4,222.3 471.2,221.1 471.1,221.0 469.9,219.9 469.2,219.2 468.8,218.9 468.0,218.2 467.2,217.6 467.0,217.5 466.8,217.3 466.1,218.2 465.5,219.0 465.2,219.4 464.9,219.8 464.3,221.1 464.2,221.4 463.6,222.7 463.2,223.6 462.4,225.4 461.2,228.1 460.9,228.8 460.5,229.7 459.9,231.0 459.4,231.7 459.2,231.9 458.7,232.6 458.3,233.1 457.4,234.3 457.2,234.3 456.6,234.3 456.3,233.8 455.7,232.8 455.2,231.9 455.0,231.6 454.9,231.4 453.9,229.7 453.6,228.2 453.2,226.2 452.4,222.2 452.0,220.3 451.2,216.3 450.9,214.8 450.6,213.9 450.5,213.6 449.9,211.9 449.3,210.2 449.2,209.9 448.9,209.0 448.7,208.5 448.0,206.4 447.7,205.6 447.5,205.0 447.4,205.3 447.2,206.0 445.5,211.5 445.2,212.5 444.9,213.5 444.8,213.8 444.5,214.8 443.9,219.3 443.7,220.8 443.5,222.2 443.2,224.5 442.6,229.0 442.5,229.7 442.2,231.0 441.6,233.6 441.3,234.9 441.2,235.3 441.0,236.2 440.9,236.6 440.0,238.5 439.4,239.7 439.2,239.7 438.8,239.8 437.2,240.1 436.9,240.1 435.7,240.3 435.2,240.3 434.4,240.4 433.2,240.4 431.9,240.5 431.2,240.6 430.7,240.6 429.5,240.7 429.2,240.7 427.2,240.8 426.3,240.9 425.7,240.9 425.2,241.0 423.9,241.2 423.2,241.4 422.0,241.6 421.4,241.7 421.2,241.7 419.2,242.0 418.9,242.1 418.2,242.2 417.2,242.0 416.4,241.9 415.8,241.8 415.2,241.7 414.5,241.6 413.3,241.2 413.2,241.1 411.4,240.5 411.2,240.4 410.8,240.3 410.2,240.2 409.5,240.0 409.2,239.9 408.3,239.7 408.0,239.7 407.7,239.8 407.2,239.8 407.0,239.8 405.8,240.0 405.2,240.0 404.6,240.1 403.9,240.1 403.3,240.2 403.2,240.2 401.2,240.3 400.8,240.3 399.6,240.1 399.2,240.0 398.3,239.9 397.2,239.7 397.1,239.7 396.5,238.4 395.2,235.6 395.1,235.4 394.6,233.9 394.4,233.2 394.0,232.0 393.4,230.1 393.2,229.5 393.1,229.2 392.9,228.6 392.5,226.0 392.1,223.5 391.9,222.2 391.7,220.9 391.5,219.7 391.2,217.7 391.1,217.1 390.9,215.8 390.6,213.7 390.0,209.7 389.9,209.1 389.6,207.0 389.4,205.7 389.2,205.3 387.8,202.3 387.2,203.2 387.1,203.3 386.5,204.1 385.4,205.7 385.3,206.4 385.2,207.0 384.9,209.1 384.0,215.1 383.7,217.1 383.4,218.9 383.2,220.1 383.1,220.7 382.8,222.6 382.2,226.2 382.0,227.4 381.5,228.1 381.4,228.2 381.2,228.5 380.7,229.2 379.7,230.5 379.4,230.9 379.2,231.2 378.6,232.0 377.8,233.0 377.6,233.3 377.2,233.8 375.9,235.4 375.8,235.5 375.2,236.2 374.9,236.6 374.0,237.7 373.2,238.4 372.7,238.9 372.2,239.3 371.3,240.1 371.2,240.2 370.9,240.5 370.4,240.9 369.5,241.3 369.2,241.5 368.6,241.8 367.2,242.5 366.8,242.7 366.0,242.9 365.2,243.2 364.6,243.3 364.2,243.5 363.3,243.7 363.2,243.8 362.4,244.0 361.5,244.0 361.2,244.0 360.6,244.0 360.1,244.0 359.2,244.0 358.8,244.0 357.9,244.0 357.7,244.0 357.2,244.0 355.7,244.1 355.2,244.1 354.3,244.1 353.4,244.2 353.2,244.2 351.6,244.2 351.2,244.3 350.2,244.3 349.2,244.3 349.0,244.3 347.2,244.3 346.7,244.3 345.4,244.3 345.2,244.3 344.5,244.3 343.2,244.3 342.7,244.3 342.2,244.3 341.2,244.4 340.0,244.5 339.6,244.5 339.2,244.5 339.0,244.5 338.4,244.6 337.2,244.7 337.1,244.7 336.5,244.7 335.2,244.7 334.6,244.7 333.2,244.7 332.8,244.7 332.1,244.7 331.5,244.7 331.2,244.7 330.3,244.6 329.6,244.5 329.2,244.5 327.8,244.4 327.2,244.3 325.3,243.2 325.2,243.1 324.7,242.8 324.0,242.0 323.4,241.2 323.2,241.0 322.8,240.5 321.6,239.1 321.2,238.9 320.9,238.7 319.2,237.9 319.1,237.8 317.8,237.2 317.2,237.0 316.6,236.8 315.2,236.4 314.1,236.0 313.2,235.5 311.6,234.7 311.2,234.5 310.4,234.1 309.7,233.6 309.2,233.2 309.1,233.1 307.9,232.2 307.2,230.8 306.8,230.1 306.6,229.7 306.0,228.5 305.9,228.0 305.8,227.6 305.3,225.2 305.2,224.8 304.8,222.9 304.7,222.2 304.1,218.2 303.5,214.2 303.4,213.9 303.2,213.4 302.6,211.7 302.5,212.0 302.3,212.5 302.2,212.7 302.0,213.2 301.6,214.2 301.2,216.3 301.0,217.3 300.4,220.4 300.3,220.7 299.3,223.6 299.2,223.9 299.1,224.2 298.5,226.0 298.1,226.6 297.9,226.9 297.3,227.8 297.2,227.9 296.7,228.7 296.0,229.7 295.4,230.2 295.2,230.3 294.8,230.6 293.6,231.6 293.2,231.5 292.9,231.4 292.3,231.2 291.7,231.0 291.2,230.6 290.4,230.0 289.8,229.6 289.2,229.1 288.6,229.0 287.9,228.8 287.2,228.6 286.7,228.5 286.6,228.4 285.2,227.5 284.8,227.3 284.2,226.9 283.2,226.5 282.9,226.4 282.4,226.3 281.7,226.0 281.2,226.4 281.0,226.6 280.5,227.0 280.4,227.1 279.9,227.8 279.2,228.7 279.0,229.0 278.4,230.2 278.2,230.6 277.9,231.3 277.3,232.5 277.2,232.8 277.1,233.1 276.5,234.9 275.3,238.5 275.2,238.8 274.7,240.3 274.0,240.7 273.4,241.0 273.2,241.1 272.8,241.4 272.2,241.7 271.2,242.3 270.9,242.4 269.7,243.1 269.2,243.2 268.4,243.2 267.2,243.4 266.6,243.4 265.2,243.6 264.7,243.7 263.5,243.8 263.2,243.8 262.2,243.9 261.6,244.0 261.2,244.0 259.7,244.1 259.2,244.1 257.9,244.2 257.2,244.3 256.0,244.4 255.2,244.4 254.7,244.5 254.1,244.5 253.2,244.6 252.2,244.6 251.2,244.7 251.0,244.7 249.8,244.6 249.2,244.6 247.3,244.5 247.2,244.5 246.0,244.4 245.2,244.3 244.8,244.3 243.8,244.2 243.5,244.2 243.2,244.2 243.1,244.2 242.9,244.2 242.8,244.2 242.1,244.1 241.4,244.1 241.2,244.1 240.8,244.1 240.5,244.0 240.4,244.0 240.0,244.0 239.8,244.0 239.7,244.0 239.3,244.0 239.2,244.0 238.5,244.1 237.6,244.2 237.2,244.2 237.0,244.2 236.7,244.3 236.5,244.3 236.4,244.3 236.3,244.3 236.1,244.3 235.6,244.3 235.2,244.3 235.1,244.3 233.6,244.3 233.2,244.3 231.2,244.3 231.1,244.3 229.8,244.3 229.2,244.3 227.4,244.3 227.2,244.3 225.2,244.2 224.9,244.2 223.2,244.1 223.0,244.1 221.2,244.1 221.1,244.0 219.9,244.0 219.3,244.0 219.2,244.0 217.4,244.1 217.2,244.1 216.2,244.2 215.2,244.2 214.3,244.3 213.7,244.3 213.2,244.3 212.4,244.4 211.2,244.4 210.6,244.4 209.3,244.5 209.2,244.5 207.4,244.6 207.2,244.6 206.2,244.6 205.2,244.7 205.0,244.7 204.3,244.6 203.7,244.6 203.2,244.5 202.5,244.4 201.2,244.3 200.6,244.2 199.2,244.1 198.7,244.0 198.5,244.0 197.2,243.6 196.9,243.6 196.0,243.3 195.4,243.2 195.2,243.1 195.0,243.1 193.5,243.4 193.2,243.5 193.0,243.5 191.7,243.8 191.2,243.8 189.8,243.9 189.2,243.9 187.9,244.0 187.2,244.0 186.7,244.0 186.1,243.9 185.2,243.8 184.2,243.7 183.6,243.6 183.2,243.6 181.7,243.4 181.2,243.2 181.1,243.1 179.2,242.2 177.3,242.8 177.2,242.8 176.7,243.0 175.5,243.4 175.2,243.1 174.2,242.1 173.6,241.5 173.2,241.1 173.0,240.9 172.4,239.1 171.7,237.1 171.5,236.5 171.2,235.6 171.1,235.3 170.5,233.4 169.9,231.6 169.2,232.6 168.0,234.4 167.4,235.3 167.2,235.5 166.8,236.0 165.5,237.6 165.2,238.0 164.9,238.4 164.3,239.1 163.2,239.6 163.0,239.7 161.8,240.3 161.2,240.0 160.5,239.7 159.9,239.4 159.3,239.1 159.2,239.1 158.3,238.7 158.0,238.6 157.2,238.3 156.8,238.1 156.6,238.1 155.3,238.4 155.2,238.4 154.9,238.5 153.3,238.8 153.2,238.8 153.1,238.8 151.8,238.5 151.6,238.5 151.2,238.4 150.0,238.2 149.2,238.0 148.1,237.8 147.2,237.4 146.2,236.9 145.6,236.6 145.2,236.5 144.6,236.4 143.2,236.2 143.1,236.2 141.9,236.0 141.2,235.8 139.4,235.3 139.2,235.3 138.1,235.0 137.2,234.8 136.9,234.7 135.6,234.3 135.2,234.2 135.0,234.1 134.4,234.5 133.2,235.2 132.5,235.6 131.9,236.0 131.3,235.8 131.2,235.8 129.4,235.3 129.2,235.2 128.2,234.9 127.2,234.5 125.7,234.0 125.2,233.8 124.4,233.5 123.2,231.6 123.0,231.3 122.0,229.7 121.7,228.6 121.5,227.8 121.2,226.7 121.0,226.0 120.7,224.8 120.5,224.1 120.1,223.6 119.8,223.3 119.5,222.9 119.2,223.4 118.7,224.2 118.4,224.7 117.6,226.0 117.3,226.4 117.2,226.5 117.0,226.8 116.8,227.0 115.9,228.2 115.2,229.1Z" fill="#397cb4"/>
<path d="M115.2,227.6 115.9,226.7 116.8,225.5 117.0,225.3 117.2,225.0 117.3,224.9 117.6,224.5 118.4,223.2 118.7,222.7 119.2,221.9 119.5,221.4 119.8,221.8 120.1,222.1 120.5,222.6 120.7,223.3 121.0,224.5 121.2,225.2 121.5,226.3 121.7,227.1 122.0,228.2 123.0,229.8 123.2,230.1 124.4,232.0 125.2,232.3 125.7,232.5 127.2,233.0 128.2,233.4 129.2,233.7 129.4,233.8 131.2,234.3 131.3,234.3 131.9,234.5 132.5,234.1 133.2,233.7 134.4,233.0 135.0,232.6 135.2,232.7 135.6,232.8 136.9,233.2 137.2,233.3 138.1,233.5 139.2,233.8 139.4,233.8 141.2,234.3 141.9,234.5 143.1,234.7 143.2,234.7 144.6,234.9 145.2,235.0 145.6,235.1 146.2,235.4 147.2,235.9 148.1,236.3 149.2,236.5 150.0,236.7 151.2,236.9 151.6,237.0 151.8,237.0 153.1,237.3 153.2,237.3 153.3,237.3 154.9,237.0 155.2,236.9 155.3,236.9 156.6,236.6 156.8,236.6 157.2,236.8 158.0,237.1 158.3,237.2 159.2,237.6 159.3,237.6 159.9,237.9 160.5,238.2 161.2,238.5 161.8,238.8 163.0,238.2 163.2,238.1 164.3,237.6 164.9,236.9 165.2,236.5 165.5,236.1 166.8,234.5 167.2,234.0 167.4,233.8 168.0,232.9 169.2,231.1 169.9,230.1 170.5,231.9 171.1,233.8 171.2,234.1 171.5,235.0 171.7,235.6 172.4,237.6 173.0,239.4 173.2,239.6 173.6,240.0 174.2,240.6 175.2,241.6 175.5,241.9 176.7,241.5 177.2,241.3 177.3,241.3 179.2,240.7 181.1,241.6 181.2,241.7 181.7,241.9 183.2,242.1 183.6,242.1 184.2,242.2 185.2,242.3 186.1,242.4 186.7,242.5 187.2,242.5 187.9,242.5 189.2,242.4 189.8,242.4 191.2,242.3 191.7,242.3 193.0,242.0 193.2,242.0 193.5,241.8 195.0,240.4 195.2,240.2 195.4,239.9 196.0,239.2 196.9,238.1 197.2,237.7 198.5,236.1 198.7,236.4 199.2,237.1 200.6,239.0 201.2,239.8 202.5,241.4 203.2,242.3 203.7,242.9 204.3,243.0 205.0,243.2 205.2,243.2 206.2,243.1 207.2,243.1 207.4,243.1 209.2,243.0 209.3,243.0 210.6,242.9 211.2,242.9 212.4,242.9 213.2,242.8 213.7,242.8 214.3,242.8 215.2,242.7 216.2,242.7 217.2,242.6 217.4,242.6 219.2,242.5 219.3,242.5 219.9,242.5 221.1,242.5 221.2,242.6 223.0,242.6 223.2,242.6 224.9,242.7 225.2,242.7 227.2,242.8 227.4,242.8 229.2,242.8 229.8,242.8 231.1,242.8 231.2,242.8 233.2,242.8 233.6,242.8 235.1,242.8 235.2,242.8 235.6,242.8 236.1,242.8 236.3,242.8 236.4,242.8 236.5,242.8 236.7,242.8 237.0,239.2 237.2,236.7 237.6,231.9 238.5,221.0 239.2,212.5 239.3,211.3 239.7,206.4 239.8,205.2 240.0,202.8 240.4,208.5 240.5,209.9 240.8,214.2 241.2,219.9 241.4,222.7 242.1,232.6 242.8,242.6 242.9,242.6 243.1,242.7 243.2,242.7 243.5,242.8 243.8,242.7 244.8,242.8 245.2,242.8 246.0,242.9 247.2,243.0 247.3,243.0 249.2,243.1 249.8,243.1 251.0,243.2 251.2,243.2 252.2,243.1 253.2,243.1 254.1,243.0 254.7,243.0 255.2,242.9 256.0,242.9 257.2,242.8 257.9,242.7 259.2,242.6 259.7,242.6 261.2,242.5 261.6,242.5 262.2,242.4 263.2,242.3 263.5,242.3 264.7,242.2 265.2,242.1 266.6,241.9 267.2,241.9 268.4,241.7 269.2,241.7 269.7,241.6 270.9,240.9 271.2,240.8 272.2,240.2 272.8,239.9 273.2,239.6 273.4,239.5 274.0,239.2 274.7,238.8 275.2,237.3 275.3,237.0 276.5,233.4 277.1,231.6 277.2,231.3 277.3,231.0 277.9,229.8 278.2,229.1 278.4,228.7 279.0,227.5 279.2,227.2 279.9,226.3 280.4,225.6 280.5,225.5 281.0,225.1 281.2,224.9 281.7,224.5 282.4,224.8 282.9,224.9 283.2,225.0 284.2,225.4 284.8,225.8 285.2,226.0 286.6,226.9 286.7,227.0 287.2,227.1 287.9,227.3 288.6,227.5 289.2,227.6 289.8,228.1 290.4,228.5 291.2,229.1 291.7,229.5 292.3,229.7 292.9,229.9 293.2,230.0 293.6,230.1 294.8,229.1 295.2,228.8 295.4,228.7 296.0,228.2 296.7,227.2 297.2,226.4 297.3,226.3 297.9,225.4 298.1,225.1 298.5,224.5 299.1,222.7 299.2,222.4 299.3,222.1 300.3,219.2 300.4,218.9 301.0,215.8 301.2,214.8 301.6,212.7 302.0,211.7 302.2,211.2 302.3,211.0 302.5,210.5 302.6,210.2 303.2,211.9 303.4,212.4 303.5,212.7 304.1,216.7 304.7,220.7 304.8,221.4 305.2,223.3 305.3,223.7 305.8,226.1 305.9,226.5 306.0,227.0 306.6,228.2 306.8,228.6 307.2,229.3 307.9,230.7 309.1,231.6 309.2,231.7 309.7,232.1 310.4,232.6 311.2,233.0 311.6,233.2 313.2,234.0 314.1,234.5 315.2,234.9 316.6,235.3 317.2,235.5 317.8,235.7 319.1,236.6 319.2,236.6 320.9,237.4 321.2,237.6 321.6,237.8 322.8,239.2 323.2,239.3 323.4,239.3 324.0,239.5 324.7,239.7 325.2,239.8 325.3,239.8 327.2,240.3 327.8,240.4 329.2,240.4 329.6,240.4 330.3,240.4 331.2,240.4 331.5,240.4 332.1,240.4 332.8,240.4 333.2,240.2 334.6,239.5 335.2,239.2 336.5,238.6 337.1,238.3 337.2,238.2 338.4,237.6 339.0,237.3 339.2,237.5 339.6,237.8 340.0,238.1 341.2,238.6 342.2,239.0 342.7,239.2 343.2,239.4 344.5,239.9 345.2,240.0 345.4,240.0 346.7,240.1 347.2,240.2 349.0,240.4 349.2,240.4 350.2,240.5 351.2,240.6 351.6,240.6 353.2,240.8 353.4,240.8 354.3,240.7 355.2,240.6 355.7,240.6 357.2,240.5 357.7,240.4 357.9,240.4 358.8,240.2 359.2,240.1 360.1,240.0 360.6,239.9 361.2,239.7 361.5,239.7 362.4,239.5 363.2,239.2 363.3,239.2 364.2,238.9 364.6,238.8 365.2,238.6 366.0,238.4 366.8,238.1 367.2,238.0 368.6,237.6 369.2,237.4 369.5,237.3 370.4,237.1 370.9,236.9 371.2,236.8 371.3,236.8 372.2,236.3 372.7,236.1 373.2,235.8 374.0,235.4 374.9,235.0 375.2,234.8 375.8,234.2 375.9,234.1 377.2,232.5 377.6,232.0 377.8,231.7 378.6,230.7 379.2,229.9 379.4,229.6 379.7,229.0 380.7,227.7 381.2,227.0 381.4,226.7 381.5,226.6 382.0,225.9 382.2,224.7 382.8,221.1 383.1,219.2 383.2,218.6 383.4,217.4 383.7,215.6 384.0,213.6 384.9,207.5 385.2,205.3 385.3,204.5 385.4,203.8 386.5,201.5 387.1,200.3 387.2,200.1 387.8,198.8 389.2,202.7 389.4,203.3 389.6,204.7 389.9,207.0 390.0,207.7 390.6,212.1 390.9,214.3 391.1,215.6 391.2,216.2 391.5,218.2 391.7,219.4 391.9,220.7 392.1,222.0 392.5,224.5 392.9,227.1 393.1,227.7 393.2,228.0 393.4,228.6 394.0,230.5 394.4,231.7 394.6,232.4 395.1,233.9 395.2,234.1 396.5,236.9 397.1,238.2 397.2,238.2 398.3,238.4 399.2,238.5 399.6,238.6 400.8,238.8 401.2,238.8 403.2,238.7 403.3,238.7 403.9,238.6 404.6,238.6 405.2,238.5 405.8,238.5 407.0,238.3 407.2,238.3 407.7,238.3 408.0,238.2 408.3,238.2 409.2,238.4 409.5,238.5 410.2,238.7 410.8,238.8 411.2,238.9 411.4,239.0 413.2,239.6 413.3,239.7 414.5,240.1 415.2,240.2 415.8,240.3 416.4,240.4 417.2,240.5 418.2,240.7 418.9,240.6 419.2,240.5 421.2,240.2 421.4,240.2 422.0,240.1 423.2,239.9 423.9,239.7 425.2,239.5 425.7,239.4 426.3,239.4 427.2,239.3 429.2,239.2 429.5,239.2 430.7,239.1 431.2,239.1 431.9,239.0 433.2,238.9 434.4,238.9 435.2,238.8 435.7,238.8 436.9,238.6 437.2,238.6 438.8,238.3 439.2,238.2 439.4,238.2 440.0,237.0 440.9,235.1 441.0,234.7 441.2,233.8 441.3,233.4 441.6,232.1 442.2,229.5 442.5,228.2 442.6,227.5 443.2,223.0 443.5,220.8 443.7,219.3 443.9,217.8 444.5,213.3 444.8,212.3 444.9,212.0 445.2,211.0 445.5,210.0 447.2,204.5 447.4,203.8 447.5,203.5 447.7,204.1 448.0,204.9 448.7,207.0 448.9,207.5 449.2,208.4 449.3,208.7 449.9,210.4 450.5,212.1 450.6,212.4 450.9,213.3 451.2,214.8 452.0,218.8 452.4,220.8 453.2,224.7 453.6,226.7 453.9,228.2 454.9,229.9 455.0,230.1 455.2,230.4 455.7,231.3 456.3,232.3 456.6,232.8 457.2,232.8 457.4,232.8 458.3,231.6 458.7,231.1 459.2,230.4 459.4,230.2 459.9,229.5 460.5,228.2 460.9,227.3 461.2,226.6 462.4,223.9 463.2,222.1 463.6,221.2 464.2,219.9 464.3,219.6 464.9,218.3 465.2,217.9 465.5,217.5 466.1,216.7 466.8,215.8 467.0,216.0 467.2,216.1 468.0,216.8 468.8,217.4 469.2,217.7 469.9,218.4 471.1,219.5 471.2,219.6 472.4,220.8 472.9,221.1 473.0,221.2 473.2,221.3 473.6,221.6 475.2,222.7 475.4,222.8 476.0,223.2 476.1,223.3 477.2,224.6 477.3,224.7 478.0,225.5 478.5,226.1 478.9,226.6 479.2,226.9 479.8,227.6 480.0,227.8 480.8,228.6 481.2,229.0 481.3,229.1 482.3,230.0 482.9,230.6 483.2,230.9 483.6,231.3 484.2,231.9 485.2,232.9 485.4,233.1 486.0,233.8 487.2,235.0 487.3,235.1 487.9,235.5 489.2,236.4 489.8,236.8 491.0,237.6 491.2,237.7 492.3,238.0 493.2,238.3 493.5,238.4 494.8,238.8 495.2,238.9 496.0,239.0 497.2,239.2 498.5,239.4 499.2,239.4 499.7,239.4 501.0,239.4 501.2,239.4 502.2,239.4 503.2,239.1 503.5,239.0 504.7,238.6 505.2,238.4 505.3,238.3 506.0,238.0 507.0,237.5 507.2,237.3 507.8,236.7 508.0,236.5 509.1,235.4 509.2,235.3 509.7,234.8 510.7,233.8 510.9,234.0 511.2,234.2 511.3,234.3 512.2,235.1 512.8,235.6 513.2,236.0 513.4,236.2 514.0,236.7 514.1,236.7 514.4,236.7 515.2,236.6 515.9,236.5 516.2,236.5 517.0,236.4 517.2,236.4 517.8,236.3 519.0,236.2 519.2,236.2 519.7,236.1 520.7,236.0 520.9,235.3 521.2,234.4 521.5,233.4 523.0,228.5 523.2,227.8 523.8,229.4 525.0,232.7 525.1,233.0 525.2,233.3 525.9,235.2 526.7,234.9 527.2,234.7 527.4,234.6 528.0,234.4 528.3,234.3 529.2,234.0 529.5,233.8 529.6,233.8 530.5,231.7 531.1,230.3 531.2,230.1 531.5,229.4 531.7,228.9 532.0,228.2 533.1,225.6 533.2,225.4 534.1,223.3 534.2,223.5 535.2,225.7 535.4,226.2 535.6,226.6 536.0,227.5 536.3,227.7 536.7,228.1 537.2,228.5 537.8,229.0 537.9,229.1 538.6,229.5 539.2,229.8 539.3,229.9 539.5,230.0 539.8,230.3 541.0,231.3 541.2,231.5 541.7,232.0 542.3,232.5 542.9,233.4 543.2,233.8 544.2,235.3 544.9,236.3 545.2,236.0 546.6,234.8 547.2,234.3 547.5,234.0 547.9,233.7 548.0,233.7 549.1,232.9 549.2,232.9 550.8,231.8 551.2,232.1 551.6,232.5 553.2,233.8 553.5,234.0 554.0,234.4 555.2,235.2 555.4,235.4 556.3,236.0 556.6,235.9 556.7,235.8 557.2,235.6 557.8,235.3 558.5,235.0 559.2,234.6 560.0,234.2 560.3,234.0 561.2,233.8 561.6,233.7 562.2,233.5 562.8,233.3 563.2,233.2 564.1,233.0 565.2,233.2 566.6,233.4 567.2,233.5 567.8,233.6 569.2,234.0 570.3,234.3 571.2,234.5 571.5,234.6 572.2,234.8 572.8,234.9 573.2,235.0 574.6,235.3 575.2,235.5 575.3,235.5 576.5,235.6 577.2,235.7 578.4,235.8 579.0,235.8 579.2,235.8 580.2,235.9 581.2,236.0 581.5,236.0 582.7,236.1 583.2,236.0 583.4,236.0 584.0,235.9 585.2,235.7 586.5,235.5 587.1,235.3 587.2,235.2 587.7,235.0 588.3,234.8 589.0,235.7 589.2,235.9 589.6,236.4 590.8,237.9 591.2,238.1 591.5,238.2 592.1,238.4 593.2,238.9 593.3,238.9 593.9,239.2 595.2,238.8 595.8,238.6 596.4,238.3 597.2,238.1 597.7,237.9 598.3,237.3 598.9,236.6 599.2,236.3 600.0,235.5 600.2,235.5 600.8,235.7 601.2,235.8 601.4,235.8 602.5,236.1 602.7,236.2 603.2,236.6 603.7,237.0 603.9,237.1 605.0,237.9 605.1,238.0 605.2,238.1 606.1,239.3 607.2,240.6 607.5,241.0 609.2,241.2 609.3,241.2 611.2,241.5 611.8,241.5 612.4,241.6 613.2,241.5 613.7,241.4 615.2,241.3 616.8,241.1 617.2,241.0 617.4,241.0 618.7,240.5 619.2,240.3 620.5,239.8 621.2,240.1 622.4,240.5 623.0,240.8 623.2,240.8 623.6,241.0 624.3,241.1 624.9,241.2 625.2,241.3 626.1,241.4 627.2,241.6 627.4,241.6 628.0,241.4 629.2,241.1 629.9,241.0 630.5,240.8 631.2,240.9 631.7,241.0 633.2,241.3 633.6,241.4 634.8,241.6 635.2,241.6 635.5,241.6 637.2,241.6 637.3,241.6 639.2,241.6 639.8,241.6 641.1,241.2 641.2,241.2 642.3,240.8 643.2,240.6 644.0,240.3 644.8,240.1 645.0,240.0 645.2,240.0 645.4,240.1 646.7,240.4 647.2,240.5 647.9,240.7 648.3,240.8 648.5,240.7 649.2,240.3 649.8,240.0 651.0,239.4 651.2,239.3 651.6,239.1 652.3,238.3 652.9,237.6 653.2,237.2 653.5,236.9 654.0,236.3 654.8,236.1 655.2,236.0 656.0,235.8 656.6,235.6 657.2,235.4 657.3,235.4 658.5,235.1 659.2,234.9 659.7,234.8 660.4,234.6 660.6,234.6 661.2,234.2 662.2,233.6 663.1,233.0 663.2,233.1 663.5,233.3 664.1,233.7 664.7,234.1 665.2,234.4 665.5,234.6 666.6,236.1 667.2,236.8 668.0,237.9 669.1,238.7 669.2,238.8 669.6,239.1 670.8,239.1 670.9,239.1 671.2,239.1 671.7,239.1 672.2,239.1 672.9,239.1 673.2,239.0 673.6,238.8 674.7,238.4 675.2,238.3 675.4,238.2 675.9,238.0 676.2,237.9 677.2,236.7 677.3,236.6 677.8,236.0 678.4,235.3 678.7,235.0 679.2,234.3 679.7,233.7 679.7,241.0 679.2,241.1 678.7,241.2 678.4,241.3 677.8,241.5 677.3,241.6 677.2,241.6 676.2,241.8 675.9,241.9 675.4,242.0 675.2,242.1 674.7,242.2 673.6,242.5 673.2,242.7 672.9,242.8 672.2,243.0 671.7,243.1 671.2,243.3 670.9,243.4 670.8,243.4 669.6,242.9 669.2,242.8 669.1,242.7 668.0,242.3 667.2,242.0 666.6,241.9 665.5,241.6 665.2,241.6 664.7,241.5 664.1,241.3 663.5,241.2 663.2,241.2 663.1,241.2 662.2,241.3 661.2,241.4 660.6,241.5 660.4,241.5 659.7,241.6 659.2,241.4 658.5,241.2 657.3,240.8 657.2,240.7 656.6,240.5 656.0,240.3 655.2,240.5 654.8,240.6 654.0,240.9 653.5,241.0 653.2,241.2 652.9,241.4 652.3,241.8 651.6,242.2 651.2,242.5 651.0,242.6 649.8,243.4 649.2,243.4 648.5,243.3 648.3,243.3 647.9,243.3 647.2,243.3 646.7,243.3 645.4,243.2 645.2,243.2 645.0,243.2 644.8,243.2 644.0,243.2 643.2,243.3 642.3,243.3 641.2,243.4 641.1,243.4 639.8,243.3 639.2,243.3 637.3,243.2 637.2,243.2 635.5,243.0 635.2,243.0 634.8,242.9 633.6,242.8 633.2,242.7 631.7,242.5 631.2,242.4 630.5,242.3 629.9,242.2 629.2,242.3 628.0,242.4 627.4,242.5 627.2,242.5 626.1,242.7 625.2,242.8 624.9,242.8 624.3,242.7 623.6,242.6 623.2,242.5 623.0,242.5 622.4,242.4 621.2,242.2 620.5,242.4 619.2,242.7 618.7,242.9 617.4,243.2 617.2,243.2 616.8,243.3 615.2,243.4 613.7,243.6 613.2,243.6 612.4,243.7 611.8,243.7 611.2,243.7 609.3,243.7 609.2,243.7 607.5,243.7 607.2,243.6 606.1,243.1 605.2,242.8 605.1,242.8 605.0,242.7 603.9,242.3 603.7,242.2 603.2,241.9 602.7,241.7 602.5,241.6 601.4,241.0 601.2,240.9 600.8,240.7 600.2,240.4 600.0,240.3 599.2,240.6 598.9,240.7 598.3,241.0 597.7,241.2 597.2,241.3 596.4,241.5 595.8,241.7 595.2,241.9 593.9,242.2 593.3,242.1 593.2,242.1 592.1,241.9 591.5,241.7 591.2,241.7 590.8,241.6 589.6,240.1 589.2,239.6 589.0,239.4 588.3,238.5 587.7,238.7 587.2,238.9 587.1,238.9 586.5,239.1 585.2,239.3 584.0,239.5 583.4,239.6 583.2,239.6 582.7,239.7 581.5,239.9 581.2,239.9 580.2,240.1 579.2,240.3 579.0,240.3 578.4,240.4 577.2,240.5 576.5,240.6 575.3,240.7 575.2,240.7 574.6,240.6 573.2,240.5 572.8,240.4 572.2,240.4 571.5,240.3 571.2,240.3 570.3,240.1 569.2,239.9 567.8,239.7 567.2,239.6 566.6,239.5 565.2,239.3 564.1,239.1 563.2,239.2 562.8,239.3 562.2,239.4 561.6,239.5 561.2,239.6 560.3,239.7 560.0,239.9 559.2,240.3 558.5,240.6 557.8,241.0 557.2,241.1 556.7,241.3 556.6,241.3 556.3,241.4 555.4,241.6 555.2,241.5 554.0,240.6 553.5,240.3 553.2,240.4 551.6,241.0 551.2,241.1 550.8,241.3 549.2,241.8 549.1,241.8 548.0,242.2 547.9,242.2 547.5,242.2 547.2,242.3 546.6,242.4 545.2,242.5 544.9,242.6 544.2,242.6 543.2,242.8 542.9,242.8 542.3,242.7 541.7,242.7 541.2,242.6 541.0,242.6 539.8,242.4 539.5,242.4 539.3,242.4 539.2,242.4 538.6,242.3 537.9,242.2 537.8,242.2 537.2,242.1 536.7,242.0 536.3,241.9 536.0,241.9 535.6,241.8 535.4,241.8 535.2,241.8 534.2,241.6 534.1,241.6 533.2,241.6 533.1,241.6 532.0,241.6 531.7,241.6 531.5,241.6 531.2,241.5 531.1,241.5 530.5,241.4 529.6,241.3 529.5,241.2 529.2,241.2 528.3,241.0 528.0,241.0 527.4,240.9 527.2,240.9 526.7,240.8 525.9,240.7 525.2,240.6 525.1,240.6 525.0,240.6 523.8,240.4 523.2,240.3 523.0,240.3 521.5,240.1 521.2,240.0 520.9,240.0 520.7,240.0 519.7,239.9 519.2,239.9 519.0,239.8 517.8,239.7 517.2,239.7 517.0,239.6 516.2,239.4 515.9,239.3 515.2,239.1 514.4,238.8 514.1,238.7 514.0,238.7 513.4,238.5 513.2,238.4 512.8,238.2 512.2,237.9 511.3,237.4 511.2,237.4 510.9,237.2 510.7,237.2 509.7,237.2 509.2,237.2 509.1,237.2 508.0,237.9 507.8,238.0 507.2,238.4 507.0,238.5 506.0,239.1 505.3,239.3 505.2,239.4 504.7,239.5 503.5,239.9 503.2,240.0 502.2,240.3 501.2,240.3 501.0,240.3 499.7,240.3 499.2,240.3 498.5,240.3 497.2,240.1 496.0,239.9 495.2,239.8 494.8,239.7 493.5,239.3 493.2,239.2 492.3,238.9 491.2,238.6 491.0,238.5 489.8,237.7 489.2,237.3 487.9,236.4 487.3,236.0 487.2,235.9 486.0,234.7 485.4,234.0 485.2,233.8 484.2,232.8 483.6,232.2 483.2,231.8 482.9,231.5 482.3,230.9 481.3,230.0 481.2,229.9 480.8,229.5 480.0,228.7 479.8,228.5 479.2,227.8 478.9,227.5 478.5,227.0 478.0,226.4 477.3,225.6 477.2,225.5 476.1,224.2 476.0,224.1 475.4,223.7 475.2,223.6 473.6,222.5 473.2,222.2 473.0,222.1 472.9,222.0 472.4,221.7 471.2,220.5 471.1,220.4 469.9,219.3 469.2,218.6 468.8,218.3 468.0,217.7 467.2,217.0 467.0,216.9 466.8,216.7 466.1,217.6 465.5,218.4 465.2,218.8 464.9,219.2 464.3,220.5 464.2,220.8 463.6,222.1 463.2,223.0 462.4,224.8 461.2,227.5 460.9,228.2 460.5,229.1 459.9,230.4 459.4,231.1 459.2,231.3 458.7,232.0 458.3,232.5 457.4,233.7 457.2,233.7 456.6,233.7 456.3,233.2 455.7,232.2 455.2,231.3 455.0,231.0 454.9,230.8 453.9,229.1 453.6,227.6 453.2,225.6 452.4,221.7 452.0,219.7 451.2,215.7 450.9,214.2 450.6,213.3 450.5,213.0 449.9,211.3 449.3,209.6 449.2,209.3 448.9,208.4 448.7,207.9 448.0,205.8 447.7,205.0 447.5,204.4 447.4,204.7 447.2,205.4 445.5,210.9 445.2,211.9 444.9,212.9 444.8,213.2 444.5,214.2 443.9,218.7 443.7,220.2 443.5,221.7 443.2,223.9 442.6,228.4 442.5,229.1 442.2,230.4 441.6,233.0 441.3,234.3 441.2,234.7 441.0,235.6 440.9,236.0 440.0,237.9 439.4,239.1 439.2,239.1 438.8,239.2 437.2,239.5 436.9,239.5 435.7,239.7 435.2,239.7 434.4,239.8 433.2,239.8 431.9,239.9 431.2,240.0 430.7,240.0 429.5,240.1 429.2,240.1 427.2,240.2 426.3,240.3 425.7,240.3 425.2,240.4 423.9,240.6 423.2,240.8 422.0,241.0 421.4,241.1 421.2,241.1 419.2,241.4 418.9,241.5 418.2,241.6 417.2,241.4 416.4,241.3 415.8,241.2 415.2,241.1 414.5,241.0 413.3,240.6 413.2,240.5 411.4,239.9 411.2,239.8 410.8,239.7 410.2,239.6 409.5,239.4 409.2,239.3 408.3,239.1 408.0,239.1 407.7,239.2 407.2,239.2 407.0,239.2 405.8,239.4 405.2,239.4 404.6,239.5 403.9,239.5 403.3,239.6 403.2,239.6 401.2,239.7 400.8,239.7 399.6,239.5 399.2,239.4 398.3,239.3 397.2,239.1 397.1,239.1 396.5,237.8 395.2,235.0 395.1,234.8 394.6,233.3 394.4,232.6 394.0,231.4 393.4,229.5 393.2,228.9 393.1,228.6 392.9,228.0 392.5,225.4 392.1,222.9 391.9,221.6 391.7,220.3 391.5,219.1 391.2,217.1 391.1,216.5 390.9,215.2 390.6,213.1 390.0,209.1 389.9,208.5 389.6,206.4 389.4,205.1 389.2,204.7 387.8,201.7 387.2,202.6 387.1,202.7 386.5,203.5 385.4,205.1 385.3,205.8 385.2,206.4 384.9,208.5 384.0,214.5 383.7,216.5 383.4,218.3 383.2,219.5 383.1,220.1 382.8,222.0 382.2,225.6 382.0,226.8 381.5,227.5 381.4,227.6 381.2,227.9 380.7,228.6 379.7,229.9 379.4,230.3 379.2,230.6 378.6,231.4 377.8,232.4 377.6,232.7 377.2,233.2 375.9,234.8 375.8,234.9 375.2,235.6 374.9,236.0 374.0,237.1 373.2,237.8 372.7,238.3 372.2,238.7 371.3,239.5 371.2,239.6 370.9,239.9 370.4,240.3 369.5,240.8 369.2,240.9 368.6,241.2 367.2,241.9 366.8,242.1 366.0,242.3 365.2,242.6 364.6,242.8 364.2,242.9 363.3,243.1 363.2,243.2 362.4,243.4 361.5,243.4 361.2,243.4 360.6,243.4 360.1,243.4 359.2,243.4 358.8,243.4 357.9,243.4 357.7,243.4 357.2,243.4 355.7,243.5 355.2,243.5 354.3,243.5 353.4,243.6 353.2,243.6 351.6,243.6 351.2,243.7 350.2,243.7 349.2,243.7 349.0,243.7 347.2,243.7 346.7,243.7 345.4,243.7 345.2,243.7 344.5,243.7 343.2,243.7 342.7,243.7 342.2,243.7 341.2,243.8 340.0,243.9 339.6,243.9 339.2,243.9 339.0,243.9 338.4,244.0 337.2,244.1 337.1,244.1 336.5,244.1 335.2,244.1 334.6,244.1 333.2,244.1 332.8,244.1 332.1,244.1 331.5,244.1 331.2,244.1 330.3,244.0 329.6,243.9 329.2,243.9 327.8,243.8 327.2,243.7 325.3,242.6 325.2,242.5 324.7,242.2 324.0,241.4 323.4,240.6 323.2,240.4 322.8,239.9 321.6,238.5 321.2,238.3 320.9,238.1 319.2,237.3 319.1,237.2 317.8,236.6 317.2,236.4 316.6,236.2 315.2,235.8 314.1,235.4 313.2,234.9 311.6,234.1 311.2,233.9 310.4,233.5 309.7,233.0 309.2,232.6 309.1,232.5 307.9,231.6 307.2,230.2 306.8,229.5 306.6,229.1 306.0,227.9 305.9,227.4 305.8,227.0 305.3,224.6 305.2,224.2 304.8,222.3 304.7,221.6 304.1,217.6 303.5,213.6 303.4,213.3 303.2,212.8 302.6,211.1 302.5,211.4 302.3,211.9 302.2,212.1 302.0,212.6 301.6,213.6 301.2,215.7 301.0,216.7 300.4,219.8 300.3,220.1 299.3,223.0 299.2,223.3 299.1,223.6 298.5,225.4 298.1,226.0 297.9,226.3 297.3,227.2 297.2,227.3 296.7,228.1 296.0,229.1 295.4,229.6 295.2,229.7 294.8,230.0 293.6,231.0 293.2,230.9 292.9,230.8 292.3,230.6 291.7,230.4 291.2,230.0 290.4,229.4 289.8,229.0 289.2,228.5 288.6,228.4 287.9,228.2 287.2,228.0 286.7,227.9 286.6,227.8 285.2,226.9 284.8,226.7 284.2,226.3 283.2,225.9 282.9,225.8 282.4,225.7 281.7,225.4 281.2,225.8 281.0,226.0 280.5,226.4 280.4,226.5 279.9,227.2 279.2,228.1 279.0,228.4 278.4,229.6 278.2,230.0 277.9,230.7 277.3,231.9 277.2,232.2 277.1,232.5 276.5,234.3 275.3,237.9 275.2,238.2 274.7,239.7 274.0,240.1 273.4,240.4 273.2,240.5 272.8,240.8 272.2,241.1 271.2,241.7 270.9,241.8 269.7,242.5 269.2,242.6 268.4,242.6 267.2,242.8 266.6,242.8 265.2,243.0 264.7,243.1 263.5,243.2 263.2,243.2 262.2,243.3 261.6,243.4 261.2,243.4 259.7,243.5 259.2,243.5 257.9,243.6 257.2,243.7 256.0,243.8 255.2,243.8 254.7,243.9 254.1,243.9 253.2,244.0 252.2,244.0 251.2,244.1 251.0,244.1 249.8,244.0 249.2,244.0 247.3,243.9 247.2,243.9 246.0,243.8 245.2,243.7 244.8,243.7 243.8,243.6 243.5,243.6 243.2,243.6 243.1,243.6 242.9,243.6 242.8,243.6 242.1,243.5 241.4,243.5 241.2,243.5 240.8,243.5 240.5,243.4 240.4,243.4 240.0,243.4 239.8,243.4 239.7,243.4 239.3,243.4 239.2,243.4 238.5,243.5 237.6,243.6 237.2,243.6 237.0,243.6 236.7,243.7 236.5,243.7 236.4,243.7 236.3,243.7 236.1,243.7 235.6,243.7 235.2,243.7 235.1,243.7 233.6,243.7 233.2,243.7 231.2,243.7 231.1,243.7 229.8,243.7 229.2,243.7 227.4,243.7 227.2,243.7 225.2,243.6 224.9,243.6 223.2,243.5 223.0,243.5 221.2,243.5 221.1,243.4 219.9,243.4 219.3,243.4 219.2,243.4 217.4,243.5 217.2,243.5 216.2,243.6 215.2,243.6 214.3,243.7 213.7,243.7 213.2,243.7 212.4,243.8 211.2,243.8 210.6,243.8 209.3,243.9 209.2,243.9 207.4,244.0 207.2,244.0 206.2,244.0 205.2,244.1 205.0,244.1 204.3,244.0 203.7,244.0 203.2,243.9 202.5,243.8 201.2,243.7 200.6,243.6 199.2,243.5 198.7,243.4 198.5,243.4 197.2,243.0 196.9,243.0 196.0,242.7 195.4,242.6 195.2,242.5 195.0,242.5 193.5,242.8 193.2,242.9 193.0,242.9 191.7,243.2 191.2,243.2 189.8,243.3 189.2,243.3 187.9,243.4 187.2,243.4 186.7,243.4 186.1,243.3 185.2,243.2 184.2,243.1 183.6,243.0 183.2,243.0 181.7,242.8 181.2,242.6 181.1,242.5 179.2,241.6 177.3,242.2 177.2,242.2 176.7,242.4 175.5,242.8 175.2,242.5 174.2,241.5 173.6,240.9 173.2,240.5 173.0,240.3 172.4,238.5 171.7,236.5 171.5,235.9 171.2,235.0 171.1,234.7 170.5,232.8 169.9,231.0 169.2,232.0 168.0,233.8 167.4,234.7 167.2,234.9 166.8,235.4 165.5,237.0 165.2,237.4 164.9,237.8 164.3,238.5 163.2,239.0 163.0,239.1 161.8,239.7 161.2,239.4 160.5,239.1 159.9,238.8 159.3,238.5 159.2,238.5 158.3,238.1 158.0,238.0 157.2,237.7 156.8,237.5 156.6,237.5 155.3,237.8 155.2,237.8 154.9,237.9 153.3,238.2 153.2,238.2 153.1,238.2 151.8,237.9 151.6,237.9 151.2,237.8 150.0,237.6 149.2,237.4 148.1,237.2 147.2,236.8 146.2,236.3 145.6,236.0 145.2,235.9 144.6,235.8 143.2,235.6 143.1,235.6 141.9,235.4 141.2,235.2 139.4,234.8 139.2,234.7 138.1,234.4 137.2,234.2 136.9,234.1 135.6,233.7 135.2,233.6 135.0,233.5 134.4,233.9 133.2,234.6 132.5,235.0 131.9,235.4 131.3,235.2 131.2,235.2 129.4,234.7 129.2,234.6 128.2,234.3 127.2,233.9 125.7,233.4 125.2,233.2 124.4,232.9 123.2,231.0 123.0,230.7 122.0,229.1 121.7,228.0 121.5,227.2 121.2,226.1 121.0,225.4 120.7,224.2 120.5,223.5 120.1,223.0 119.8,222.7 119.5,222.3 119.2,222.8 118.7,223.6 118.4,224.1 117.6,225.4 117.3,225.8 117.2,225.9 117.0,226.2 116.8,226.4 115.9,227.6 115.2,228.5Z" fill="#6e8473"/>
<path d="M115.2,220.4 115.9,219.3 116.8,217.9 117.0,217.6 117.2,217.3 117.3,217.2 117.6,216.7 118.4,213.8 118.7,212.7 119.2,210.9 119.5,209.8 119.8,210.9 120.1,212.0 120.5,213.5 120.7,214.2 121.0,216.9 121.2,218.7 121.5,221.5 121.7,223.3 122.0,226.0 123.0,227.3 123.2,227.6 124.4,229.1 125.2,229.5 125.7,229.8 127.2,230.5 128.2,231.0 129.2,231.5 129.4,231.6 131.2,231.3 131.3,231.2 131.9,231.1 132.5,231.0 133.2,230.0 134.4,228.4 135.0,227.6 135.2,227.8 135.6,228.1 136.9,229.1 137.2,229.2 138.1,229.6 139.2,230.0 139.4,230.1 141.2,230.7 141.9,231.0 143.1,230.9 143.2,230.9 144.6,230.7 145.2,230.6 145.6,230.6 146.2,231.4 147.2,232.8 148.1,234.1 149.2,234.3 150.0,234.5 151.2,234.7 151.6,234.8 151.8,234.8 153.1,235.1 153.2,235.1 153.3,235.1 154.9,234.7 155.2,234.6 155.3,234.6 156.6,234.3 156.8,234.3 157.2,234.5 158.0,234.8 158.3,234.9 159.2,235.3 159.3,235.3 159.9,235.7 160.5,236.0 161.2,236.5 161.8,236.9 163.0,237.6 163.2,237.3 164.3,236.0 164.9,235.2 165.2,234.8 165.5,234.4 166.8,232.8 167.2,231.7 167.4,231.1 168.0,229.4 169.2,226.0 169.9,227.3 170.5,228.5 171.1,231.4 171.2,231.9 171.5,233.4 171.7,234.4 172.4,237.4 173.0,239.2 173.2,239.4 173.6,239.8 174.2,240.4 175.2,241.4 175.5,241.7 176.7,241.3 177.2,241.1 177.3,241.0 179.2,239.3 181.1,241.4 181.2,241.5 181.7,241.7 183.2,241.9 183.6,241.9 184.2,242.0 185.2,242.1 186.1,242.2 186.7,242.3 187.2,242.3 187.9,242.3 189.2,242.2 189.8,242.2 191.2,242.1 191.7,242.1 193.0,241.8 193.2,241.8 193.5,241.6 195.0,240.2 195.2,240.0 195.4,239.7 196.0,239.0 196.9,237.9 197.2,237.5 198.5,235.9 198.7,236.2 199.2,236.9 200.6,238.8 201.2,239.6 202.5,241.1 203.2,241.9 203.7,242.4 204.3,242.8 205.0,243.0 205.2,243.0 206.2,242.9 207.2,242.9 207.4,242.9 209.2,242.7 209.3,242.6 210.6,242.3 211.2,242.2 212.4,242.1 213.2,242.0 213.7,242.0 214.3,242.0 215.2,241.9 216.2,241.8 217.2,241.6 217.4,241.6 219.2,241.2 219.3,241.2 219.9,241.1 221.1,240.9 221.2,240.9 223.0,241.4 223.2,241.4 224.9,241.8 225.2,241.8 227.2,242.0 227.4,242.0 229.2,242.2 229.8,242.2 231.1,242.1 231.2,242.1 233.2,242.0 233.6,242.0 235.1,241.9 235.2,241.9 235.6,241.8 236.1,241.8 236.3,241.8 236.4,241.8 236.5,240.7 236.7,238.4 237.0,235.1 237.2,232.8 237.6,228.3 238.5,218.2 239.2,210.3 239.3,209.2 239.7,204.7 239.8,203.5 240.0,201.3 240.4,206.4 240.5,207.7 240.8,211.5 241.2,216.7 241.4,219.2 242.1,228.2 242.8,237.2 242.9,238.4 243.1,241.0 243.2,241.0 243.5,241.2 243.8,241.3 244.8,241.7 245.2,241.9 246.0,242.2 247.2,242.8 247.3,242.8 249.2,242.9 249.8,242.9 251.0,243.0 251.2,243.0 252.2,242.9 253.2,242.9 254.1,242.8 254.7,242.8 255.2,242.7 256.0,242.7 257.2,242.6 257.9,242.4 259.2,242.1 259.7,241.9 261.2,241.6 261.6,241.5 262.2,241.3 263.2,241.1 263.5,241.0 264.7,240.8 265.2,240.7 266.6,240.4 267.2,240.3 268.4,240.0 269.2,239.8 269.7,239.7 270.9,239.4 271.2,239.3 272.2,239.1 272.8,238.9 273.2,238.8 273.4,238.8 274.0,238.6 274.7,238.6 275.2,236.9 275.3,236.5 276.5,232.4 277.1,230.6 277.2,230.3 277.3,230.0 277.9,228.2 278.2,227.4 278.4,226.8 279.0,225.0 279.2,224.4 279.9,222.2 280.4,221.7 280.5,221.5 281.0,220.9 281.2,220.7 281.7,220.1 282.4,219.3 282.9,220.3 283.2,220.8 284.2,222.2 284.8,222.6 285.2,222.9 286.6,224.0 286.7,224.1 287.2,224.2 287.9,224.3 288.6,224.5 289.2,225.0 289.8,225.5 290.4,226.4 291.2,227.5 291.7,228.2 292.3,229.0 292.9,228.6 293.2,228.4 293.6,228.1 294.8,227.2 295.2,226.8 295.4,226.6 296.0,225.9 296.7,225.1 297.2,223.8 297.3,223.6 297.9,222.1 298.1,221.7 298.5,220.8 299.1,219.4 299.2,219.2 299.3,218.6 300.3,213.1 300.4,212.5 301.0,209.2 301.2,207.9 301.6,205.2 302.0,202.5 302.2,201.2 302.3,200.5 302.5,201.1 302.6,201.4 303.2,203.3 303.4,203.9 303.5,204.2 304.1,211.7 304.7,219.2 304.8,220.4 305.2,222.3 305.3,222.8 305.8,225.2 305.9,225.7 306.0,226.2 306.6,228.0 306.8,228.4 307.2,229.1 307.9,230.5 309.1,231.4 309.2,231.5 309.7,231.9 310.4,232.4 311.2,232.8 311.6,233.0 313.2,233.8 314.1,234.3 315.2,234.7 316.6,235.1 317.2,235.3 317.8,235.5 319.1,235.4 319.2,235.4 320.9,235.1 321.2,235.3 321.6,235.5 322.8,236.1 323.2,236.4 323.4,236.5 324.0,236.8 324.7,237.4 325.2,237.9 325.3,238.0 327.2,239.7 327.8,239.8 329.2,240.0 329.6,240.0 330.3,240.1 331.2,240.2 331.5,240.2 332.1,240.1 332.8,239.9 333.2,239.7 334.6,239.3 335.2,239.0 336.5,238.1 337.1,237.6 337.2,237.5 338.4,236.6 339.0,236.7 339.2,236.7 339.6,236.8 340.0,236.8 341.2,237.6 342.2,238.3 342.7,238.6 343.2,238.8 344.5,239.2 345.2,239.4 345.4,239.5 346.7,239.5 347.2,239.5 349.0,239.5 349.2,239.6 350.2,239.9 351.2,240.3 351.6,240.4 353.2,240.4 353.4,240.4 354.3,240.4 355.2,240.4 355.7,240.2 357.2,239.7 357.7,239.5 357.9,239.4 358.8,239.1 359.2,238.8 360.1,238.2 360.6,237.9 361.2,237.5 361.5,237.3 362.4,237.0 363.2,236.7 363.3,236.7 364.2,236.4 364.6,236.3 365.2,236.1 366.0,235.8 366.8,235.5 367.2,235.3 368.6,234.6 369.2,234.3 369.5,234.2 370.4,233.9 370.9,233.7 371.2,233.6 371.3,233.6 372.2,233.3 372.7,233.0 373.2,232.8 374.0,232.4 374.9,231.9 375.2,231.6 375.8,231.0 375.9,230.9 377.2,229.6 377.6,229.2 377.8,228.8 378.6,227.3 379.2,226.1 379.4,225.7 379.7,225.1 380.7,223.1 381.2,222.1 381.4,221.7 381.5,221.1 382.0,218.1 382.2,216.9 382.8,213.2 383.1,211.4 383.2,210.9 383.4,209.9 383.7,208.4 384.0,206.9 384.9,202.5 385.2,201.0 385.3,200.5 385.4,200.0 386.5,194.3 387.1,191.1 387.2,190.6 387.8,187.5 389.2,195.5 389.4,196.6 389.6,197.7 389.9,199.4 390.0,200.0 390.6,204.0 390.9,206.0 391.1,207.4 391.2,208.0 391.5,210.1 391.7,211.4 391.9,213.3 392.1,215.2 392.5,219.1 392.9,222.9 393.1,224.1 393.2,224.7 393.4,225.9 394.0,229.5 394.4,231.5 394.6,232.2 395.1,233.7 395.2,233.8 396.5,235.3 397.1,235.3 397.2,235.3 398.3,235.3 399.2,235.3 399.6,235.3 400.8,235.1 401.2,235.0 403.2,234.7 403.3,234.7 403.9,234.5 404.6,234.3 405.2,234.2 405.8,234.0 407.0,233.7 407.2,233.6 407.7,233.5 408.0,233.7 408.3,233.8 409.2,234.4 409.5,234.5 410.2,235.0 410.8,235.3 411.2,235.6 411.4,235.8 413.2,237.3 413.3,237.4 414.5,238.4 415.2,238.6 415.8,238.9 416.4,239.1 417.2,239.3 418.2,239.7 418.9,239.6 419.2,239.5 421.2,239.2 421.4,239.2 422.0,239.1 423.2,238.5 423.9,238.1 425.2,237.5 425.7,237.2 426.3,237.1 427.2,237.0 429.2,236.6 429.5,236.6 430.7,236.4 431.2,236.3 431.9,236.2 433.2,236.0 434.4,235.8 435.2,235.6 435.7,235.5 436.9,235.3 437.2,235.2 438.8,234.9 439.2,234.9 439.4,234.8 440.0,234.7 440.9,231.4 441.0,231.1 441.2,230.4 441.3,230.0 441.6,226.7 442.2,220.0 442.5,217.0 442.6,216.0 443.2,210.0 443.5,207.0 443.7,205.3 443.9,203.6 444.5,198.5 444.8,196.0 444.9,195.6 445.2,194.5 445.5,193.4 447.2,187.2 447.4,186.5 447.5,187.2 447.7,188.7 448.0,190.9 448.7,196.1 448.9,197.6 449.2,199.8 449.3,200.5 449.9,206.8 450.5,211.9 450.6,212.2 450.9,213.1 451.2,214.6 452.0,218.6 452.4,220.6 453.2,224.5 453.6,225.3 453.9,225.9 454.9,227.9 455.0,228.0 455.2,228.2 455.7,228.7 456.3,229.3 456.6,229.6 457.2,230.2 457.4,230.4 458.3,229.0 458.7,228.4 459.2,227.7 459.4,227.4 459.9,226.6 460.5,225.1 460.9,224.1 461.2,223.4 462.4,220.4 463.2,217.2 463.6,215.7 464.2,213.3 464.3,212.9 464.9,211.5 465.2,210.8 465.5,210.0 466.1,208.6 466.8,208.8 467.0,208.9 467.2,208.9 468.0,209.2 468.8,210.5 469.2,211.2 469.9,212.3 471.1,213.3 471.2,213.3 472.4,214.3 472.9,214.7 473.0,214.8 473.2,214.9 473.6,215.2 475.2,216.1 475.4,216.3 476.0,216.6 476.1,216.7 477.2,217.7 477.3,217.8 478.0,218.5 478.5,219.4 478.9,220.0 479.2,220.6 479.8,221.6 480.0,222.0 480.8,223.6 481.2,224.4 481.3,224.6 482.3,226.6 482.9,227.4 483.2,227.8 483.6,228.4 484.2,229.2 485.2,230.5 485.4,230.8 486.0,231.6 487.2,232.6 487.3,232.7 487.9,233.1 489.2,234.2 489.8,234.7 491.0,235.3 491.2,235.4 492.3,236.0 493.2,236.4 493.5,236.6 494.8,237.0 495.2,237.2 496.0,237.4 497.2,237.8 498.5,237.7 499.2,237.7 499.7,237.7 501.0,237.6 501.2,237.5 502.2,237.3 503.2,237.0 503.5,236.9 504.7,236.6 505.2,236.1 505.3,236.0 506.0,235.4 507.0,234.4 507.2,234.3 507.8,233.7 508.0,233.5 509.1,231.1 509.2,230.8 509.7,229.7 510.7,227.5 510.9,227.9 511.2,228.6 511.3,228.8 512.2,230.7 512.8,232.0 513.2,232.8 513.4,232.8 514.0,232.9 514.1,233.0 514.4,233.0 515.2,233.2 515.9,233.3 516.2,233.4 517.0,233.5 517.2,233.4 517.8,233.2 519.0,232.7 519.2,232.6 519.7,232.4 520.7,232.0 520.9,231.2 521.2,230.1 521.5,228.9 523.0,223.1 523.2,222.3 523.8,225.6 525.0,232.2 525.1,232.8 525.2,232.9 525.9,233.3 526.7,233.8 527.2,234.2 527.4,234.3 528.0,233.6 528.3,233.2 529.2,232.1 529.5,231.7 529.6,231.6 530.5,230.5 531.1,229.8 531.2,229.3 531.5,227.8 531.7,226.8 532.0,225.3 533.1,219.9 533.2,219.4 534.1,214.9 534.2,215.1 535.2,217.1 535.4,217.5 535.6,217.9 536.0,218.7 536.3,219.3 536.7,220.1 537.2,221.2 537.8,222.4 537.9,222.6 538.6,224.1 539.2,225.3 539.3,225.5 539.5,225.8 539.8,226.3 541.0,228.3 541.2,228.7 541.7,229.5 542.3,230.5 542.9,231.4 543.2,231.8 544.2,233.2 544.9,234.2 545.2,233.8 546.6,232.1 547.2,231.4 547.5,231.0 547.9,230.7 548.0,230.6 549.1,229.7 549.2,229.6 550.8,228.3 551.2,228.8 551.6,229.2 553.2,231.1 553.5,231.5 554.0,232.0 555.2,233.1 555.4,233.3 556.3,234.2 556.6,234.0 556.7,233.9 557.2,233.5 557.8,233.0 558.5,232.5 559.2,231.9 560.0,231.2 560.3,231.0 561.2,230.1 561.6,229.7 562.2,229.1 562.8,228.5 563.2,228.6 564.1,228.7 565.2,228.9 566.6,229.1 567.2,229.2 567.8,229.3 569.2,229.5 570.3,229.7 571.2,230.3 571.5,230.5 572.2,231.0 572.8,231.4 573.2,231.5 574.6,232.0 575.2,232.2 575.3,232.2 576.5,232.6 577.2,232.9 578.4,233.4 579.0,233.6 579.2,233.7 580.2,234.1 581.2,233.9 581.5,233.9 582.7,233.7 583.2,233.6 583.4,233.6 584.0,233.5 585.2,232.8 586.5,232.0 587.1,231.6 587.2,231.7 587.7,232.0 588.3,232.4 589.0,232.8 589.2,233.2 589.6,233.9 590.8,236.0 591.2,236.7 591.5,237.2 592.1,237.3 593.2,237.6 593.3,237.7 593.9,237.8 595.2,236.5 595.8,235.9 596.4,235.3 597.2,234.7 597.7,234.4 598.3,233.9 598.9,233.5 599.2,233.1 600.0,232.2 600.2,232.4 600.8,232.8 601.2,233.1 601.4,233.3 602.5,234.1 602.7,234.3 603.2,235.0 603.7,235.6 603.9,235.8 605.0,237.2 605.1,237.3 605.2,237.5 606.1,238.8 607.2,240.4 607.5,240.8 609.2,241.0 609.3,241.0 611.2,241.2 611.8,241.3 612.4,241.3 613.2,241.1 613.7,241.0 615.2,240.7 616.8,240.4 617.2,240.3 617.4,240.3 618.7,239.9 619.2,239.7 620.5,239.2 621.2,239.0 622.4,239.5 623.0,239.8 623.2,239.8 623.6,240.0 624.3,240.3 624.9,240.5 625.2,240.6 626.1,240.9 627.2,241.2 627.4,241.3 628.0,241.1 629.2,240.7 629.9,240.5 630.5,240.3 631.2,240.4 631.7,240.5 633.2,240.7 633.6,240.7 634.8,240.9 635.2,240.9 635.5,241.0 637.2,241.1 637.3,241.1 639.2,241.3 639.8,241.3 641.1,241.0 641.2,241.0 642.3,240.6 643.2,240.4 644.0,240.1 644.8,239.9 645.0,239.8 645.2,239.8 645.4,239.9 646.7,240.2 647.2,240.3 647.9,240.3 648.3,240.3 648.5,240.3 649.2,240.1 649.8,239.8 651.0,239.1 651.2,238.9 651.6,238.5 652.3,237.8 652.9,237.1 653.2,236.7 653.5,236.3 654.0,235.7 654.8,234.7 655.2,234.7 656.0,234.6 656.6,234.5 657.2,234.4 657.3,234.4 658.5,234.3 659.2,233.7 659.7,233.2 660.4,232.6 660.6,232.4 661.2,231.9 662.2,231.0 663.1,230.4 663.2,230.3 663.5,230.1 664.1,229.7 664.7,230.3 665.2,230.8 665.5,231.1 666.6,232.2 667.2,233.4 668.0,235.0 669.1,237.2 669.2,237.2 669.6,237.3 670.8,237.5 670.9,237.5 671.2,237.6 671.7,237.7 672.2,237.8 672.9,237.3 673.2,237.1 673.6,236.9 674.7,236.1 675.2,235.8 675.4,235.6 675.9,235.3 676.2,234.9 677.2,233.7 677.3,233.6 677.8,232.9 678.4,232.2 678.7,231.7 679.2,230.9 679.7,230.1 679.7,234.2 679.2,234.8 678.7,235.5 678.4,235.8 677.8,236.5 677.3,237.1 677.2,237.2 676.2,238.4 675.9,238.5 675.4,238.7 675.2,238.8 674.7,238.9 673.6,239.3 673.2,239.5 672.9,239.6 672.2,239.6 671.7,239.6 671.2,239.6 670.9,239.6 670.8,239.6 669.6,239.6 669.2,239.3 669.1,239.2 668.0,238.4 667.2,237.3 666.6,236.6 665.5,235.1 665.2,234.9 664.7,234.6 664.1,234.2 663.5,233.8 663.2,233.6 663.1,233.5 662.2,234.1 661.2,234.7 660.6,235.1 660.4,235.1 659.7,235.3 659.2,235.4 658.5,235.6 657.3,235.9 657.2,235.9 656.6,236.1 656.0,236.3 655.2,236.5 654.8,236.6 654.0,236.8 653.5,237.4 653.2,237.7 652.9,238.1 652.3,238.8 651.6,239.6 651.2,239.8 651.0,239.9 649.8,240.5 649.2,240.8 648.5,241.2 648.3,241.3 647.9,241.2 647.2,241.0 646.7,240.9 645.4,240.6 645.2,240.5 645.0,240.5 644.8,240.6 644.0,240.8 643.2,241.1 642.3,241.3 641.2,241.7 641.1,241.7 639.8,242.1 639.2,242.1 637.3,242.1 637.2,242.1 635.5,242.1 635.2,242.1 634.8,242.1 633.6,241.9 633.2,241.8 631.7,241.5 631.2,241.4 630.5,241.3 629.9,241.5 629.2,241.6 628.0,241.9 627.4,242.1 627.2,242.1 626.1,241.9 625.2,241.8 624.9,241.7 624.3,241.6 623.6,241.5 623.2,241.3 623.0,241.3 622.4,241.0 621.2,240.6 620.5,240.3 619.2,240.8 618.7,241.0 617.4,241.5 617.2,241.5 616.8,241.6 615.2,241.8 613.7,241.9 613.2,242.0 612.4,242.1 611.8,242.0 611.2,242.0 609.3,241.7 609.2,241.7 607.5,241.5 607.2,241.1 606.1,239.8 605.2,238.6 605.1,238.5 605.0,238.4 603.9,237.6 603.7,237.5 603.2,237.1 602.7,236.7 602.5,236.6 601.4,236.3 601.2,236.3 600.8,236.2 600.2,236.0 600.0,236.0 599.2,236.8 598.9,237.1 598.3,237.8 597.7,238.4 597.2,238.6 596.4,238.8 595.8,239.1 595.2,239.3 593.9,239.7 593.3,239.4 593.2,239.4 592.1,238.9 591.5,238.7 591.2,238.6 590.8,238.4 589.6,236.9 589.2,236.4 589.0,236.2 588.3,235.3 587.7,235.5 587.2,235.7 587.1,235.8 586.5,236.0 585.2,236.2 584.0,236.4 583.4,236.5 583.2,236.5 582.7,236.6 581.5,236.5 581.2,236.5 580.2,236.4 579.2,236.3 579.0,236.3 578.4,236.3 577.2,236.2 576.5,236.1 575.3,236.0 575.2,236.0 574.6,235.8 573.2,235.5 572.8,235.4 572.2,235.3 571.5,235.1 571.2,235.0 570.3,234.8 569.2,234.5 567.8,234.1 567.2,234.0 566.6,233.9 565.2,233.7 564.1,233.5 563.2,233.7 562.8,233.8 562.2,234.0 561.6,234.2 561.2,234.3 560.3,234.5 560.0,234.7 559.2,235.1 558.5,235.5 557.8,235.8 557.2,236.1 556.7,236.3 556.6,236.4 556.3,236.5 555.4,235.9 555.2,235.7 554.0,234.9 553.5,234.5 553.2,234.3 551.6,233.0 551.2,232.6 550.8,232.3 549.2,233.4 549.1,233.4 548.0,234.2 547.9,234.2 547.5,234.5 547.2,234.8 546.6,235.3 545.2,236.5 544.9,236.8 544.2,235.8 543.2,234.3 542.9,233.9 542.3,233.0 541.7,232.5 541.2,232.0 541.0,231.8 539.8,230.8 539.5,230.5 539.3,230.4 539.2,230.3 538.6,230.0 537.9,229.6 537.8,229.5 537.2,229.0 536.7,228.6 536.3,228.2 536.0,228.0 535.6,227.1 535.4,226.7 535.2,226.2 534.2,224.0 534.1,223.8 533.2,225.9 533.1,226.1 532.0,228.7 531.7,229.4 531.5,229.9 531.2,230.6 531.1,230.8 530.5,232.2 529.6,234.3 529.5,234.3 529.2,234.5 528.3,234.8 528.0,234.9 527.4,235.1 527.2,235.2 526.7,235.4 525.9,235.7 525.2,233.8 525.1,233.5 525.0,233.2 523.8,229.9 523.2,228.3 523.0,229.0 521.5,233.9 521.2,234.9 520.9,235.8 520.7,236.5 519.7,236.6 519.2,236.7 519.0,236.7 517.8,236.8 517.2,236.9 517.0,236.9 516.2,237.0 515.9,237.0 515.2,237.1 514.4,237.2 514.1,237.2 514.0,237.2 513.4,236.7 513.2,236.5 512.8,236.1 512.2,235.6 511.3,234.8 511.2,234.7 510.9,234.5 510.7,234.3 509.7,235.3 509.2,235.8 509.1,235.9 508.0,237.0 507.8,237.2 507.2,237.8 507.0,238.0 506.0,238.5 505.3,238.8 505.2,238.9 504.7,239.1 503.5,239.5 503.2,239.6 502.2,239.9 501.2,239.9 501.0,239.9 499.7,239.9 499.2,239.9 498.5,239.9 497.2,239.7 496.0,239.5 495.2,239.4 494.8,239.3 493.5,238.9 493.2,238.8 492.3,238.5 491.2,238.2 491.0,238.1 489.8,237.3 489.2,236.9 487.9,236.0 487.3,235.6 487.2,235.5 486.0,234.3 485.4,233.6 485.2,233.4 484.2,232.4 483.6,231.8 483.2,231.4 482.9,231.1 482.3,230.5 481.3,229.6 481.2,229.5 480.8,229.1 480.0,228.3 479.8,228.1 479.2,227.4 478.9,227.1 478.5,226.6 478.0,226.0 477.3,225.2 477.2,225.1 476.1,223.8 476.0,223.7 475.4,223.3 475.2,223.2 473.6,222.1 473.2,221.8 473.0,221.7 472.9,221.6 472.4,221.3 471.2,220.1 471.1,220.0 469.9,218.9 469.2,218.2 468.8,217.9 468.0,217.2 467.2,216.6 467.0,216.5 466.8,216.3 466.1,217.2 465.5,218.0 465.2,218.4 464.9,218.8 464.3,220.1 464.2,220.4 463.6,221.7 463.2,222.6 462.4,224.4 461.2,227.1 460.9,227.8 460.5,228.7 459.9,230.0 459.4,230.7 459.2,230.9 458.7,231.6 458.3,232.1 457.4,233.3 457.2,233.3 456.6,233.3 456.3,232.8 455.7,231.8 455.2,230.9 455.0,230.6 454.9,230.4 453.9,228.7 453.6,227.2 453.2,225.2 452.4,221.2 452.0,219.3 451.2,215.3 450.9,213.8 450.6,212.9 450.5,212.6 449.9,210.9 449.3,209.2 449.2,208.9 448.9,208.0 448.7,207.5 448.0,205.4 447.7,204.6 447.5,204.0 447.4,204.3 447.2,205.0 445.5,210.5 445.2,211.5 444.9,212.5 444.8,212.8 444.5,213.8 443.9,218.3 443.7,219.8 443.5,221.2 443.2,223.5 442.6,228.0 442.5,228.7 442.2,230.0 441.6,232.6 441.3,233.9 441.2,234.3 441.0,235.2 440.9,235.6 440.0,237.5 439.4,238.7 439.2,238.7 438.8,238.8 437.2,239.1 436.9,239.1 435.7,239.3 435.2,239.3 434.4,239.4 433.2,239.4 431.9,239.5 431.2,239.6 430.7,239.6 429.5,239.7 429.2,239.7 427.2,239.8 426.3,239.9 425.7,239.9 425.2,240.0 423.9,240.2 423.2,240.4 422.0,240.6 421.4,240.7 421.2,240.7 419.2,241.0 418.9,241.1 418.2,241.2 417.2,241.0 416.4,240.9 415.8,240.8 415.2,240.7 414.5,240.6 413.3,240.2 413.2,240.1 411.4,239.5 411.2,239.4 410.8,239.3 410.2,239.2 409.5,239.0 409.2,238.9 408.3,238.7 408.0,238.7 407.7,238.8 407.2,238.8 407.0,238.8 405.8,239.0 405.2,239.0 404.6,239.1 403.9,239.1 403.3,239.2 403.2,239.2 401.2,239.3 400.8,239.3 399.6,239.1 399.2,239.0 398.3,238.9 397.2,238.7 397.1,238.7 396.5,237.4 395.2,234.6 395.1,234.4 394.6,232.9 394.4,232.2 394.0,231.0 393.4,229.1 393.2,228.5 393.1,228.2 392.9,227.6 392.5,225.0 392.1,222.5 391.9,221.2 391.7,219.9 391.5,218.7 391.2,216.7 391.1,216.1 390.9,214.8 390.6,212.6 390.0,208.2 389.9,207.5 389.6,205.2 389.4,203.8 389.2,203.2 387.8,199.3 387.2,200.6 387.1,200.8 386.5,202.0 385.4,204.3 385.3,205.0 385.2,205.8 384.9,208.0 384.0,214.1 383.7,216.1 383.4,217.9 383.2,219.1 383.1,219.7 382.8,221.6 382.2,225.2 382.0,226.4 381.5,227.1 381.4,227.2 381.2,227.5 380.7,228.2 379.7,229.5 379.4,230.1 379.2,230.4 378.6,231.2 377.8,232.2 377.6,232.5 377.2,233.0 375.9,234.6 375.8,234.7 375.2,235.3 374.9,235.5 374.0,235.9 373.2,236.3 372.7,236.6 372.2,236.8 371.3,237.3 371.2,237.3 370.9,237.4 370.4,237.6 369.5,237.8 369.2,237.9 368.6,238.1 367.2,238.5 366.8,238.6 366.0,238.9 365.2,239.1 364.6,239.3 364.2,239.4 363.3,239.7 363.2,239.7 362.4,240.0 361.5,240.2 361.2,240.2 360.6,240.4 360.1,240.5 359.2,240.6 358.8,240.7 357.9,240.9 357.7,240.9 357.2,241.0 355.7,241.1 355.2,241.1 354.3,241.2 353.4,241.3 353.2,241.3 351.6,241.1 351.2,241.1 350.2,241.0 349.2,240.9 349.0,240.9 347.2,240.7 346.7,240.6 345.4,240.5 345.2,240.5 344.5,240.4 343.2,239.9 342.7,239.7 342.2,239.5 341.2,239.1 340.0,238.6 339.6,238.3 339.2,238.0 339.0,237.8 338.4,238.1 337.2,238.7 337.1,238.8 336.5,239.1 335.2,239.7 334.6,240.0 333.2,240.7 332.8,240.9 332.1,240.9 331.5,240.9 331.2,240.9 330.3,240.9 329.6,240.9 329.2,240.9 327.8,240.9 327.2,240.8 325.3,240.3 325.2,240.3 324.7,240.2 324.0,240.0 323.4,239.8 323.2,239.8 322.8,239.7 321.6,238.3 321.2,238.1 320.9,237.9 319.2,237.1 319.1,237.1 317.8,236.2 317.2,236.0 316.6,235.8 315.2,235.4 314.1,235.0 313.2,234.5 311.6,233.7 311.2,233.5 310.4,233.1 309.7,232.6 309.2,232.2 309.1,232.1 307.9,231.2 307.2,229.8 306.8,229.1 306.6,228.7 306.0,227.5 305.9,227.0 305.8,226.6 305.3,224.2 305.2,223.8 304.8,221.9 304.7,221.2 304.1,217.2 303.5,213.2 303.4,212.9 303.2,212.4 302.6,210.7 302.5,211.0 302.3,211.5 302.2,211.7 302.0,212.2 301.6,213.2 301.2,215.3 301.0,216.3 300.4,219.4 300.3,219.7 299.3,222.6 299.2,222.9 299.1,223.2 298.5,225.0 298.1,225.6 297.9,225.9 297.3,226.8 297.2,226.9 296.7,227.7 296.0,228.7 295.4,229.2 295.2,229.3 294.8,229.6 293.6,230.6 293.2,230.5 292.9,230.4 292.3,230.2 291.7,230.0 291.2,229.6 290.4,229.0 289.8,228.6 289.2,228.1 288.6,228.0 287.9,227.8 287.2,227.6 286.7,227.5 286.6,227.4 285.2,226.5 284.8,226.3 284.2,225.9 283.2,225.5 282.9,225.4 282.4,225.3 281.7,225.0 281.2,225.4 281.0,225.6 280.5,226.0 280.4,226.1 279.9,226.8 279.2,227.7 279.0,228.0 278.4,229.2 278.2,229.6 277.9,230.3 277.3,231.5 277.2,231.8 277.1,232.1 276.5,233.9 275.3,237.5 275.2,237.8 274.7,239.3 274.0,239.7 273.4,240.0 273.2,240.1 272.8,240.4 272.2,240.7 271.2,241.3 270.9,241.4 269.7,242.1 269.2,242.2 268.4,242.2 267.2,242.4 266.6,242.4 265.2,242.6 264.7,242.7 263.5,242.8 263.2,242.8 262.2,242.9 261.6,243.0 261.2,243.0 259.7,243.1 259.2,243.1 257.9,243.2 257.2,243.3 256.0,243.4 255.2,243.4 254.7,243.5 254.1,243.5 253.2,243.6 252.2,243.6 251.2,243.7 251.0,243.7 249.8,243.6 249.2,243.6 247.3,243.5 247.2,243.5 246.0,243.4 245.2,243.3 244.8,243.3 243.8,243.2 243.5,243.3 243.2,243.2 243.1,243.2 242.9,243.1 242.8,243.1 242.1,233.1 241.4,223.2 241.2,220.4 240.8,214.7 240.5,210.4 240.4,209.0 240.0,203.3 239.8,205.7 239.7,206.9 239.3,211.8 239.2,213.0 238.5,221.5 237.6,232.4 237.2,237.2 237.0,239.7 236.7,243.3 236.5,243.3 236.4,243.3 236.3,243.3 236.1,243.3 235.6,243.3 235.2,243.3 235.1,243.3 233.6,243.3 233.2,243.3 231.2,243.3 231.1,243.3 229.8,243.3 229.2,243.3 227.4,243.3 227.2,243.3 225.2,243.2 224.9,243.2 223.2,243.1 223.0,243.1 221.2,243.1 221.1,243.0 219.9,243.0 219.3,243.0 219.2,243.0 217.4,243.1 217.2,243.1 216.2,243.2 215.2,243.2 214.3,243.3 213.7,243.3 213.2,243.3 212.4,243.4 211.2,243.4 210.6,243.4 209.3,243.5 209.2,243.5 207.4,243.6 207.2,243.6 206.2,243.6 205.2,243.7 205.0,243.7 204.3,243.5 203.7,243.4 203.2,242.8 202.5,241.9 201.2,240.3 200.6,239.5 199.2,237.6 198.7,236.9 198.5,236.6 197.2,238.2 196.9,238.6 196.0,239.7 195.4,240.4 195.2,240.7 195.0,240.9 193.5,242.3 193.2,242.5 193.0,242.5 191.7,242.8 191.2,242.8 189.8,242.9 189.2,242.9 187.9,243.0 187.2,243.0 186.7,243.0 186.1,242.9 185.2,242.8 184.2,242.7 183.6,242.6 183.2,242.6 181.7,242.4 181.2,242.2 181.1,242.1 179.2,241.2 177.3,241.8 177.2,241.8 176.7,242.0 175.5,242.4 175.2,242.1 174.2,241.1 173.6,240.5 173.2,240.1 173.0,239.9 172.4,238.1 171.7,236.1 171.5,235.5 171.2,234.6 171.1,234.3 170.5,232.4 169.9,230.6 169.2,231.6 168.0,233.4 167.4,234.3 167.2,234.5 166.8,235.0 165.5,236.6 165.2,237.0 164.9,237.4 164.3,238.1 163.2,238.6 163.0,238.7 161.8,239.3 161.2,239.0 160.5,238.7 159.9,238.4 159.3,238.1 159.2,238.1 158.3,237.7 158.0,237.6 157.2,237.3 156.8,237.1 156.6,237.1 155.3,237.4 155.2,237.4 154.9,237.5 153.3,237.8 153.2,237.8 153.1,237.8 151.8,237.5 151.6,237.5 151.2,237.4 150.0,237.2 149.2,237.0 148.1,236.8 147.2,236.4 146.2,235.9 145.6,235.6 145.2,235.5 144.6,235.4 143.2,235.2 143.1,235.2 141.9,235.0 141.2,234.8 139.4,234.3 139.2,234.3 138.1,234.0 137.2,233.8 136.9,233.7 135.6,233.3 135.2,233.2 135.0,233.1 134.4,233.5 133.2,234.2 132.5,234.6 131.9,235.0 131.3,234.8 131.2,234.8 129.4,234.3 129.2,234.2 128.2,233.9 127.2,233.5 125.7,233.0 125.2,232.8 124.4,232.5 123.2,230.6 123.0,230.3 122.0,228.7 121.7,227.6 121.5,226.8 121.2,225.7 121.0,225.0 120.7,223.8 120.5,223.1 120.1,222.6 119.8,222.3 119.5,221.9 119.2,222.4 118.7,223.2 118.4,223.7 117.6,225.0 117.3,225.4 117.2,225.5 117.0,225.8 116.8,226.0 115.9,227.2 115.2,228.1Z" fill="#c96758"/>
<path d="M115.2,219.4 115.9,218.3 116.8,216.9 117.0,216.6 117.2,216.3 117.3,216.2 117.6,215.7 118.4,212.8 118.7,211.7 119.2,209.9 119.5,208.8 119.8,209.9 120.1,211.0 120.5,212.5 120.7,213.2 121.0,215.9 121.2,217.7 121.5,220.5 121.7,222.3 122.0,225.0 123.0,226.3 123.2,226.6 124.4,228.1 125.2,228.5 125.7,228.8 127.2,229.5 128.2,230.0 129.2,230.5 129.4,230.6 131.2,230.3 131.3,230.2 131.9,230.1 132.5,230.0 133.2,229.0 134.4,227.4 135.0,226.6 135.2,226.8 135.6,227.1 136.9,228.1 137.2,228.2 138.1,228.6 139.2,229.0 139.4,229.1 141.2,229.7 141.9,230.0 143.1,229.9 143.2,229.9 144.6,229.7 145.2,229.6 145.6,229.6 146.2,230.4 147.2,231.8 148.1,233.1 149.2,233.3 150.0,233.5 151.2,233.7 151.6,233.8 151.8,233.8 153.1,234.1 153.2,234.1 153.3,234.1 154.9,233.7 155.2,233.6 155.3,233.6 156.6,233.3 156.8,233.3 157.2,233.5 158.0,233.8 158.3,233.9 159.2,234.3 159.3,234.3 159.9,234.7 160.5,235.0 161.2,235.5 161.8,235.9 163.0,236.6 163.2,236.3 164.3,235.0 164.9,234.2 165.2,233.8 165.5,233.4 166.8,231.8 167.2,230.7 167.4,230.1 168.0,228.4 169.2,225.0 169.9,226.3 170.5,227.5 171.1,230.4 171.2,230.9 171.5,232.4 171.7,233.4 172.4,236.4 173.0,238.2 173.2,238.4 173.6,238.8 174.2,239.4 175.2,240.4 175.5,240.7 176.7,240.3 177.2,240.1 177.3,240.0 179.2,238.3 181.1,240.4 181.2,240.5 181.7,240.7 183.2,240.9 183.6,240.9 184.2,241.0 185.2,241.1 186.1,241.2 186.7,241.3 187.2,241.3 187.9,241.3 189.2,241.2 189.8,241.2 191.2,241.1 191.7,241.1 193.0,240.8 193.2,240.8 193.5,240.6 195.0,239.2 195.2,239.0 195.4,238.7 196.0,238.0 196.9,236.9 197.2,236.5 198.5,234.9 198.7,235.2 199.2,235.9 200.6,237.8 201.2,238.6 202.5,240.1 203.2,240.9 203.7,241.4 204.3,241.8 205.0,242.0 205.2,242.0 206.2,241.9 207.2,241.9 207.4,241.9 209.2,241.7 209.3,241.6 210.6,241.3 211.2,241.2 212.4,241.1 213.2,241.0 213.7,241.0 214.3,241.0 215.2,240.9 216.2,240.8 217.2,240.6 217.4,240.6 219.2,240.2 219.3,240.2 219.9,240.1 221.1,239.9 221.2,239.9 223.0,240.4 223.2,240.4 224.9,240.8 225.2,240.8 227.2,241.0 227.4,241.0 229.2,241.2 229.8,241.2 231.1,241.1 231.2,241.1 233.2,241.0 233.6,241.0 235.1,240.9 235.2,240.9 235.6,240.8 236.1,240.8 236.3,240.8 236.4,240.8 236.5,239.7 236.7,237.4 237.0,234.1 237.2,231.8 237.6,227.3 238.5,217.2 239.2,209.3 239.3,208.2 239.7,203.7 239.8,202.5 240.0,200.3 240.4,205.4 240.5,206.7 240.8,210.5 241.2,215.7 241.4,218.2 242.1,227.2 242.8,236.2 242.9,237.4 243.1,240.0 243.2,240.0 243.5,240.2 243.8,240.3 244.8,240.7 245.2,240.9 246.0,241.2 247.2,241.8 247.3,241.8 249.2,241.9 249.8,241.9 251.0,242.0 251.2,242.0 252.2,241.9 253.2,241.9 254.1,241.8 254.7,241.8 255.2,241.7 256.0,241.7 257.2,241.6 257.9,241.4 259.2,241.1 259.7,240.9 261.2,240.6 261.6,240.5 262.2,240.3 263.2,240.1 263.5,240.0 264.7,239.8 265.2,239.7 266.6,239.4 267.2,239.3 268.4,239.0 269.2,238.8 269.7,238.7 270.9,238.4 271.2,238.3 272.2,238.1 272.8,237.9 273.2,237.8 273.4,237.8 274.0,237.6 274.7,237.4 275.2,235.5 275.3,235.1 276.5,230.6 277.1,228.6 277.2,228.3 277.3,228.0 277.9,226.0 278.2,225.1 278.4,224.4 279.0,222.4 279.2,221.7 279.9,219.4 280.4,218.7 280.5,218.5 281.0,217.8 281.2,217.5 281.7,216.7 282.4,215.7 282.9,216.6 283.2,217.1 284.2,218.8 284.8,219.4 285.2,219.8 286.6,221.2 286.7,221.3 287.2,221.5 287.9,221.7 288.6,221.9 289.2,222.5 289.8,223.1 290.4,224.0 291.2,225.2 291.7,226.0 292.3,226.9 292.9,226.6 293.2,226.4 293.6,226.2 294.8,225.6 295.2,225.2 295.4,225.0 296.0,224.5 296.7,223.8 297.2,222.7 297.3,222.5 297.9,221.1 298.1,220.7 298.5,219.8 299.1,218.4 299.2,218.2 299.3,217.6 300.3,211.5 300.4,210.8 301.0,206.8 301.2,205.2 301.6,202.0 302.0,198.9 302.2,197.3 302.3,196.5 302.5,197.4 302.6,197.8 303.2,200.4 303.4,201.2 303.5,201.6 304.1,209.8 304.7,218.0 304.8,219.4 305.2,221.3 305.3,221.8 305.8,224.2 305.9,224.7 306.0,225.2 306.6,227.0 306.8,227.4 307.2,228.1 307.9,229.5 309.1,230.4 309.2,230.5 309.7,230.9 310.4,231.4 311.2,231.8 311.6,232.0 313.2,232.8 314.1,233.3 315.2,233.7 316.6,234.1 317.2,234.3 317.8,234.5 319.1,234.4 319.2,234.4 320.9,234.1 321.2,234.3 321.6,234.5 322.8,235.1 323.2,235.4 323.4,235.5 324.0,235.8 324.7,236.4 325.2,236.9 325.3,237.0 327.2,238.7 327.8,238.8 329.2,239.0 329.6,239.0 330.3,239.1 331.2,239.2 331.5,239.2 332.1,239.1 332.8,238.9 333.2,238.7 334.6,238.3 335.2,238.0 336.5,237.1 337.1,236.6 337.2,236.5 338.4,235.6 339.0,235.7 339.2,235.7 339.6,235.8 340.0,235.8 341.2,236.6 342.2,237.3 342.7,237.6 343.2,237.8 344.5,238.2 345.2,238.4 345.4,238.5 346.7,238.5 347.2,238.5 349.0,238.5 349.2,238.6 350.2,238.9 351.2,239.3 351.6,239.4 353.2,239.4 353.4,239.4 354.3,239.4 355.2,239.4 355.7,239.2 357.2,238.7 357.7,238.5 357.9,238.4 358.8,238.1 359.2,237.8 360.1,237.2 360.6,236.9 361.2,236.5 361.5,236.3 362.4,236.0 363.2,235.7 363.3,235.7 364.2,235.4 364.6,235.3 365.2,235.1 366.0,234.8 366.8,234.5 367.2,234.3 368.6,233.6 369.2,233.3 369.5,233.2 370.4,232.9 370.9,232.7 371.2,232.6 371.3,232.6 372.2,232.3 372.7,232.0 373.2,231.8 374.0,231.4 374.9,230.9 375.2,230.6 375.8,230.0 375.9,229.9 377.2,228.6 377.6,228.2 377.8,227.8 378.6,226.3 379.2,225.1 379.4,224.7 379.7,224.1 380.7,222.1 381.2,221.1 381.4,220.7 381.5,220.1 382.0,217.1 382.2,215.9 382.8,212.2 383.1,210.4 383.2,209.9 383.4,208.9 383.7,207.4 384.0,205.9 384.9,200.4 385.2,198.4 385.3,197.8 385.4,197.1 386.5,189.5 387.1,185.3 387.2,184.7 387.8,180.5 389.2,190.9 389.4,192.3 389.6,193.8 389.9,196.0 390.0,196.8 390.6,201.8 390.9,204.3 391.1,206.0 391.2,206.9 391.5,209.1 391.7,210.4 391.9,212.3 392.1,214.2 392.5,218.1 392.9,221.9 393.1,223.1 393.2,223.7 393.4,224.9 394.0,228.5 394.4,230.5 394.6,231.2 395.1,232.7 395.2,232.8 396.5,234.3 397.1,234.3 397.2,234.3 398.3,234.3 399.2,234.3 399.6,234.3 400.8,234.1 401.2,234.0 403.2,233.7 403.3,233.7 403.9,233.5 404.6,233.3 405.2,233.2 405.8,233.0 407.0,232.7 407.2,232.6 407.7,232.5 408.0,232.7 408.3,232.8 409.2,233.4 409.5,233.5 410.2,234.0 410.8,234.3 411.2,234.6 411.4,234.8 413.2,236.3 413.3,236.4 414.5,237.4 415.2,237.6 415.8,237.9 416.4,238.1 417.2,238.3 418.2,238.7 418.9,238.6 419.2,238.5 421.2,238.2 421.4,238.2 422.0,238.1 423.2,237.5 423.9,237.1 425.2,236.5 425.7,236.2 426.3,236.1 427.2,236.0 429.2,235.6 429.5,235.6 430.7,235.4 431.2,235.3 431.9,235.2 433.2,235.0 434.4,234.8 435.2,234.6 435.7,234.5 436.9,234.3 437.2,234.2 438.8,233.9 439.2,233.9 439.4,233.8 440.0,233.7 440.9,230.4 441.0,230.1 441.2,229.4 441.3,229.0 441.6,225.7 442.2,219.0 442.5,216.0 442.6,215.0 443.2,209.0 443.5,206.0 443.7,204.3 443.9,202.6 444.5,197.5 444.8,194.6 444.9,194.2 445.2,192.7 445.5,191.3 447.2,183.1 447.4,182.1 447.5,182.7 447.7,184.4 448.0,187.0 448.7,193.0 448.9,194.7 449.2,197.2 449.3,198.1 449.9,205.1 450.5,210.9 450.6,211.2 450.9,212.1 451.2,213.6 452.0,217.6 452.4,219.6 453.2,223.5 453.6,224.3 453.9,224.9 454.9,226.9 455.0,227.0 455.2,227.2 455.7,227.7 456.3,228.3 456.6,228.6 457.2,229.2 457.4,229.4 458.3,227.9 458.7,227.2 459.2,226.3 459.4,225.9 459.9,225.1 460.5,223.4 460.9,222.4 461.2,221.6 462.4,218.3 463.2,215.0 463.6,213.3 464.2,210.8 464.3,210.4 464.9,208.8 465.2,208.0 465.5,207.3 466.1,205.7 466.8,205.9 467.0,206.0 467.2,206.1 468.0,206.5 468.8,208.0 469.2,208.8 469.9,210.1 471.1,211.3 471.2,211.4 472.4,212.6 472.9,213.1 473.0,213.2 473.2,213.4 473.6,213.7 475.2,215.1 475.4,215.2 476.0,215.6 476.1,215.7 477.2,216.7 477.3,216.8 478.0,217.5 478.5,218.4 478.9,219.0 479.2,219.6 479.8,220.6 480.0,221.0 480.8,222.6 481.2,223.4 481.3,223.6 482.3,225.6 482.9,226.4 483.2,226.8 483.6,227.4 484.2,228.2 485.2,229.5 485.4,229.8 486.0,230.6 487.2,231.6 487.3,231.7 487.9,232.1 489.2,233.2 489.8,233.7 491.0,234.3 491.2,234.4 492.3,235.0 493.2,235.4 493.5,235.6 494.8,236.0 495.2,236.2 496.0,236.4 497.2,236.8 498.5,236.7 499.2,236.7 499.7,236.7 501.0,236.6 501.2,236.5 502.2,236.3 503.2,236.0 503.5,235.9 504.7,235.6 505.2,235.1 505.3,235.0 506.0,234.4 507.0,233.4 507.2,233.3 507.8,232.7 508.0,232.5 509.1,230.1 509.2,229.8 509.7,228.7 510.7,226.5 510.9,226.9 511.2,227.6 511.3,227.8 512.2,229.7 512.8,231.0 513.2,231.8 513.4,231.8 514.0,231.9 514.1,232.0 514.4,232.0 515.2,232.2 515.9,232.3 516.2,232.4 517.0,232.5 517.2,232.4 517.8,232.2 519.0,231.7 519.2,231.6 519.7,231.4 520.7,231.0 520.9,230.2 521.2,229.1 521.5,227.9 523.0,222.1 523.2,221.3 523.8,224.6 525.0,231.2 525.1,231.8 525.2,231.9 525.9,232.3 526.7,232.8 527.2,233.2 527.4,233.3 528.0,232.6 528.3,232.2 529.2,231.1 529.5,230.7 529.6,230.6 530.5,229.5 531.1,228.8 531.2,228.3 531.5,226.8 531.7,225.8 532.0,224.3 533.1,218.9 533.2,218.4 534.1,213.9 534.2,214.1 535.2,216.1 535.4,216.5 535.6,216.9 536.0,217.7 536.3,218.3 536.7,219.1 537.2,220.2 537.8,221.4 537.9,221.6 538.6,223.1 539.2,224.3 539.3,224.5 539.5,224.8 539.8,225.3 541.0,227.3 541.2,227.7 541.7,228.5 542.3,229.5 542.9,230.4 543.2,230.8 544.2,232.2 544.9,233.2 545.2,232.8 546.6,231.1 547.2,230.4 547.5,230.0 547.9,229.7 548.0,229.6 549.1,228.7 549.2,228.6 550.8,227.3 551.2,227.8 551.6,228.2 553.2,230.1 553.5,230.5 554.0,231.0 555.2,232.1 555.4,232.3 556.3,233.2 556.6,233.0 556.7,232.9 557.2,232.5 557.8,232.0 558.5,231.5 559.2,230.9 560.0,230.2 560.3,230.0 561.2,229.1 561.6,228.7 562.2,228.1 562.8,227.5 563.2,227.6 564.1,227.7 565.2,227.9 566.6,228.1 567.2,228.2 567.8,228.3 569.2,228.5 570.3,228.7 571.2,229.3 571.5,229.5 572.2,230.0 572.8,230.4 573.2,230.5 574.6,231.0 575.2,231.2 575.3,231.2 576.5,231.6 577.2,231.9 578.4,232.4 579.0,232.6 579.2,232.7 580.2,233.1 581.2,232.9 581.5,232.9 582.7,232.7 583.2,232.6 583.4,232.6 584.0,232.5 585.2,231.8 586.5,231.0 587.1,230.6 587.2,230.7 587.7,231.0 588.3,231.4 589.0,231.8 589.2,232.2 589.6,232.9 590.8,235.0 591.2,235.7 591.5,236.2 592.1,236.3 593.2,236.6 593.3,236.7 593.9,236.8 595.2,235.5 595.8,234.9 596.4,234.3 597.2,233.7 597.7,233.4 598.3,232.9 598.9,232.5 599.2,232.1 600.0,231.2 600.2,231.4 600.8,231.8 601.2,232.1 601.4,232.3 602.5,233.1 602.7,233.3 603.2,234.0 603.7,234.6 603.9,234.8 605.0,236.2 605.1,236.3 605.2,236.5 606.1,237.8 607.2,239.4 607.5,239.8 609.2,240.0 609.3,240.0 611.2,240.2 611.8,240.3 612.4,240.3 613.2,240.1 613.7,240.0 615.2,239.7 616.8,239.4 617.2,239.3 617.4,239.3 618.7,238.9 619.2,238.7 620.5,238.2 621.2,238.0 622.4,238.5 623.0,238.8 623.2,238.8 623.6,239.0 624.3,239.3 624.9,239.5 625.2,239.6 626.1,239.9 627.2,240.2 627.4,240.3 628.0,240.1 629.2,239.7 629.9,239.5 630.5,239.3 631.2,239.4 631.7,239.5 633.2,239.7 633.6,239.7 634.8,239.9 635.2,239.9 635.5,240.0 637.2,240.1 637.3,240.1 639.2,240.3 639.8,240.3 641.1,240.0 641.2,240.0 642.3,239.6 643.2,239.4 644.0,239.1 644.8,238.9 645.0,238.8 645.2,238.8 645.4,238.9 646.7,239.2 647.2,239.3 647.9,239.3 648.3,239.3 648.5,239.3 649.2,239.1 649.8,238.8 651.0,238.1 651.2,237.9 651.6,237.5 652.3,236.8 652.9,236.1 653.2,235.7 653.5,235.3 654.0,234.7 654.8,233.7 655.2,233.7 656.0,233.6 656.6,233.5 657.2,233.4 657.3,233.4 658.5,233.3 659.2,232.7 659.7,232.2 660.4,231.6 660.6,231.4 661.2,230.9 662.2,230.0 663.1,229.4 663.2,229.3 663.5,229.1 664.1,228.7 664.7,229.3 665.2,229.8 665.5,230.1 666.6,231.2 667.2,232.4 668.0,234.0 669.1,236.2 669.2,236.2 669.6,236.3 670.8,236.5 670.9,236.5 671.2,236.6 671.7,236.7 672.2,236.8 672.9,236.3 673.2,236.1 673.6,235.9 674.7,235.1 675.2,234.8 675.4,234.6 675.9,234.3 676.2,233.9 677.2,232.7 677.3,232.6 677.8,231.9 678.4,231.2 678.7,230.7 679.2,229.9 679.7,229.1 679.7,230.6 679.2,231.4 678.7,232.2 678.4,232.7 677.8,233.4 677.3,234.1 677.2,234.2 676.2,235.4 675.9,235.8 675.4,236.1 675.2,236.3 674.7,236.6 673.6,237.4 673.2,237.6 672.9,237.8 672.2,238.3 671.7,238.2 671.2,238.1 670.9,238.0 670.8,238.0 669.6,237.8 669.2,237.7 669.1,237.7 668.0,235.5 667.2,233.9 666.6,232.7 665.5,231.6 665.2,231.3 664.7,230.8 664.1,230.2 663.5,230.6 663.2,230.8 663.1,230.9 662.2,231.5 661.2,232.4 660.6,232.9 660.4,233.1 659.7,233.7 659.2,234.2 658.5,234.8 657.3,234.9 657.2,234.9 656.6,235.0 656.0,235.1 655.2,235.2 654.8,235.2 654.0,236.2 653.5,236.8 653.2,237.2 652.9,237.6 652.3,238.3 651.6,239.0 651.2,239.4 651.0,239.6 649.8,240.3 649.2,240.6 648.5,240.8 648.3,240.8 647.9,240.8 647.2,240.8 646.7,240.7 645.4,240.4 645.2,240.3 645.0,240.3 644.8,240.4 644.0,240.6 643.2,240.9 642.3,241.1 641.2,241.5 641.1,241.5 639.8,241.8 639.2,241.8 637.3,241.6 637.2,241.6 635.5,241.5 635.2,241.4 634.8,241.4 633.6,241.2 633.2,241.2 631.7,241.0 631.2,240.9 630.5,240.8 629.9,241.0 629.2,241.2 628.0,241.6 627.4,241.8 627.2,241.7 626.1,241.4 625.2,241.1 624.9,241.0 624.3,240.8 623.6,240.5 623.2,240.3 623.0,240.3 622.4,240.0 621.2,239.5 620.5,239.7 619.2,240.2 618.7,240.4 617.4,240.8 617.2,240.8 616.8,240.9 615.2,241.2 613.7,241.5 613.2,241.6 612.4,241.8 611.8,241.8 611.2,241.7 609.3,241.5 609.2,241.5 607.5,241.3 607.2,240.9 606.1,239.3 605.2,238.0 605.1,237.8 605.0,237.7 603.9,236.3 603.7,236.1 603.2,235.5 602.7,234.8 602.5,234.6 601.4,233.8 601.2,233.6 600.8,233.3 600.2,232.9 600.0,232.7 599.2,233.6 598.9,234.0 598.3,234.4 597.7,234.9 597.2,235.2 596.4,235.8 595.8,236.4 595.2,237.0 593.9,238.3 593.3,238.2 593.2,238.1 592.1,237.8 591.5,237.7 591.2,237.2 590.8,236.5 589.6,234.4 589.2,233.7 589.0,233.3 588.3,232.9 587.7,232.5 587.2,232.2 587.1,232.1 586.5,232.5 585.2,233.3 584.0,234.0 583.4,234.1 583.2,234.1 582.7,234.2 581.5,234.4 581.2,234.4 580.2,234.6 579.2,234.2 579.0,234.1 578.4,233.9 577.2,233.4 576.5,233.1 575.3,232.7 575.2,232.7 574.6,232.5 573.2,232.0 572.8,231.9 572.2,231.5 571.5,231.0 571.2,230.8 570.3,230.2 569.2,230.0 567.8,229.8 567.2,229.7 566.6,229.6 565.2,229.4 564.1,229.2 563.2,229.1 562.8,229.0 562.2,229.6 561.6,230.2 561.2,230.6 560.3,231.5 560.0,231.7 559.2,232.4 558.5,233.0 557.8,233.5 557.2,234.0 556.7,234.4 556.6,234.5 556.3,234.7 555.4,233.8 555.2,233.6 554.0,232.5 553.5,232.0 553.2,231.6 551.6,229.7 551.2,229.3 550.8,228.8 549.2,230.1 549.1,230.2 548.0,231.1 547.9,231.2 547.5,231.5 547.2,231.9 546.6,232.6 545.2,234.3 544.9,234.7 544.2,233.7 543.2,232.3 542.9,231.9 542.3,231.0 541.7,230.0 541.2,229.2 541.0,228.8 539.8,226.8 539.5,226.3 539.3,226.0 539.2,225.8 538.6,224.6 537.9,223.1 537.8,222.9 537.2,221.7 536.7,220.6 536.3,219.8 536.0,219.2 535.6,218.4 535.4,218.0 535.2,217.6 534.2,215.6 534.1,215.4 533.2,219.9 533.1,220.4 532.0,225.8 531.7,227.3 531.5,228.3 531.2,229.8 531.1,230.3 530.5,231.0 529.6,232.1 529.5,232.2 529.2,232.6 528.3,233.7 528.0,234.1 527.4,234.8 527.2,234.7 526.7,234.3 525.9,233.8 525.2,233.4 525.1,233.3 525.0,232.7 523.8,226.1 523.2,222.8 523.0,223.6 521.5,229.4 521.2,230.6 520.9,231.7 520.7,232.5 519.7,232.9 519.2,233.1 519.0,233.2 517.8,233.7 517.2,233.9 517.0,234.0 516.2,233.9 515.9,233.8 515.2,233.7 514.4,233.5 514.1,233.5 514.0,233.4 513.4,233.3 513.2,233.3 512.8,232.5 512.2,231.2 511.3,229.3 511.2,229.1 510.9,228.4 510.7,228.0 509.7,230.2 509.2,231.3 509.1,231.6 508.0,234.0 507.8,234.2 507.2,234.8 507.0,234.9 506.0,235.9 505.3,236.5 505.2,236.6 504.7,237.1 503.5,237.4 503.2,237.5 502.2,237.8 501.2,238.0 501.0,238.1 499.7,238.2 499.2,238.2 498.5,238.2 497.2,238.3 496.0,237.9 495.2,237.7 494.8,237.5 493.5,237.1 493.2,236.9 492.3,236.5 491.2,235.9 491.0,235.8 489.8,235.2 489.2,234.7 487.9,233.6 487.3,233.2 487.2,233.1 486.0,232.1 485.4,231.3 485.2,231.0 484.2,229.7 483.6,228.9 483.2,228.3 482.9,227.9 482.3,227.1 481.3,225.1 481.2,224.9 480.8,224.1 480.0,222.5 479.8,222.1 479.2,221.1 478.9,220.5 478.5,219.9 478.0,219.0 477.3,218.3 477.2,218.2 476.1,217.2 476.0,217.1 475.4,216.8 475.2,216.6 473.6,215.7 473.2,215.4 473.0,215.3 472.9,215.2 472.4,214.8 471.2,213.8 471.1,213.8 469.9,212.8 469.2,211.7 468.8,211.0 468.0,209.7 467.2,209.4 467.0,209.4 466.8,209.3 466.1,209.1 465.5,210.5 465.2,211.3 464.9,212.0 464.3,213.4 464.2,213.8 463.6,216.2 463.2,217.7 462.4,220.9 461.2,223.9 460.9,224.6 460.5,225.6 459.9,227.1 459.4,227.9 459.2,228.2 458.7,228.9 458.3,229.5 457.4,230.9 457.2,230.7 456.6,230.1 456.3,229.8 455.7,229.2 455.2,228.7 455.0,228.5 454.9,228.4 453.9,226.4 453.6,225.8 453.2,225.0 452.4,221.1 452.0,219.1 451.2,215.1 450.9,213.6 450.6,212.7 450.5,212.4 449.9,207.3 449.3,201.0 449.2,200.3 448.9,198.1 448.7,196.6 448.0,191.4 447.7,189.2 447.5,187.7 447.4,187.0 447.2,187.7 445.5,193.9 445.2,195.0 444.9,196.1 444.8,196.5 444.5,199.0 443.9,204.1 443.7,205.8 443.5,207.5 443.2,210.5 442.6,216.5 442.5,217.5 442.2,220.5 441.6,227.2 441.3,230.5 441.2,230.9 441.0,231.6 440.9,231.9 440.0,235.2 439.4,235.3 439.2,235.4 438.8,235.4 437.2,235.7 436.9,235.8 435.7,236.0 435.2,236.1 434.4,236.3 433.2,236.5 431.9,236.7 431.2,236.8 430.7,236.9 429.5,237.1 429.2,237.1 427.2,237.5 426.3,237.6 425.7,237.7 425.2,238.0 423.9,238.6 423.2,239.0 422.0,239.6 421.4,239.7 421.2,239.7 419.2,240.0 418.9,240.1 418.2,240.2 417.2,239.8 416.4,239.6 415.8,239.4 415.2,239.1 414.5,238.9 413.3,237.9 413.2,237.8 411.4,236.3 411.2,236.1 410.8,235.8 410.2,235.5 409.5,235.0 409.2,234.9 408.3,234.3 408.0,234.2 407.7,234.0 407.2,234.1 407.0,234.2 405.8,234.5 405.2,234.7 404.6,234.8 403.9,235.0 403.3,235.2 403.2,235.2 401.2,235.5 400.8,235.6 399.6,235.8 399.2,235.8 398.3,235.8 397.2,235.8 397.1,235.8 396.5,235.8 395.2,234.3 395.1,234.2 394.6,232.7 394.4,232.0 394.0,230.0 393.4,226.4 393.2,225.2 393.1,224.6 392.9,223.4 392.5,219.6 392.1,215.7 391.9,213.8 391.7,211.9 391.5,210.6 391.2,208.5 391.1,207.9 390.9,206.5 390.6,204.5 390.0,200.5 389.9,199.9 389.6,198.2 389.4,197.1 389.2,196.0 387.8,188.0 387.2,191.1 387.1,191.6 386.5,194.8 385.4,200.5 385.3,201.0 385.2,201.5 384.9,203.0 384.0,207.4 383.7,208.9 383.4,210.4 383.2,211.4 383.1,211.9 382.8,213.7 382.2,217.4 382.0,218.6 381.5,221.6 381.4,222.2 381.2,222.6 380.7,223.6 379.7,225.6 379.4,226.2 379.2,226.6 378.6,227.8 377.8,229.3 377.6,229.7 377.2,230.1 375.9,231.4 375.8,231.5 375.2,232.1 374.9,232.4 374.0,232.9 373.2,233.3 372.7,233.5 372.2,233.8 371.3,234.1 371.2,234.1 370.9,234.2 370.4,234.4 369.5,234.7 369.2,234.8 368.6,235.1 367.2,235.8 366.8,236.0 366.0,236.3 365.2,236.6 364.6,236.8 364.2,236.9 363.3,237.2 363.2,237.2 362.4,237.5 361.5,237.8 361.2,238.0 360.6,238.4 360.1,238.7 359.2,239.3 358.8,239.6 357.9,239.9 357.7,240.0 357.2,240.2 355.7,240.7 355.2,240.9 354.3,240.9 353.4,240.9 353.2,240.9 351.6,240.9 351.2,240.8 350.2,240.4 349.2,240.1 349.0,240.0 347.2,240.0 346.7,240.0 345.4,240.0 345.2,239.9 344.5,239.7 343.2,239.3 342.7,239.1 342.2,238.8 341.2,238.1 340.0,237.3 339.6,237.2 339.2,237.2 339.0,237.2 338.4,237.1 337.2,238.0 337.1,238.1 336.5,238.6 335.2,239.5 334.6,239.8 333.2,240.2 332.8,240.4 332.1,240.6 331.5,240.7 331.2,240.7 330.3,240.6 329.6,240.5 329.2,240.5 327.8,240.3 327.2,240.2 325.3,238.5 325.2,238.4 324.7,237.9 324.0,237.3 323.4,237.0 323.2,236.9 322.8,236.6 321.6,236.0 321.2,235.8 320.9,235.6 319.2,235.9 319.1,235.9 317.8,236.0 317.2,235.8 316.6,235.6 315.2,235.2 314.1,234.8 313.2,234.3 311.6,233.5 311.2,233.3 310.4,232.9 309.7,232.4 309.2,232.0 309.1,231.9 307.9,231.0 307.2,229.6 306.8,228.9 306.6,228.5 306.0,226.7 305.9,226.2 305.8,225.7 305.3,223.3 305.2,222.8 304.8,220.9 304.7,219.7 304.1,212.2 303.5,204.7 303.4,204.4 303.2,203.8 302.6,201.9 302.5,201.6 302.3,201.0 302.2,201.7 302.0,203.0 301.6,205.7 301.2,208.4 301.0,209.7 300.4,213.0 300.3,213.6 299.3,219.1 299.2,219.7 299.1,219.9 298.5,221.3 298.1,222.2 297.9,222.6 297.3,224.1 297.2,224.3 296.7,225.6 296.0,226.4 295.4,227.1 295.2,227.3 294.8,227.7 293.6,228.6 293.2,228.9 292.9,229.1 292.3,229.5 291.7,228.7 291.2,228.0 290.4,226.9 289.8,226.0 289.2,225.5 288.6,225.0 287.9,224.8 287.2,224.7 286.7,224.6 286.6,224.5 285.2,223.4 284.8,223.1 284.2,222.7 283.2,221.3 282.9,220.8 282.4,219.8 281.7,220.6 281.2,221.2 281.0,221.4 280.5,222.0 280.4,222.2 279.9,222.7 279.2,224.9 279.0,225.5 278.4,227.3 278.2,227.9 277.9,228.7 277.3,230.5 277.2,230.8 277.1,231.1 276.5,232.9 275.3,237.0 275.2,237.4 274.7,239.1 274.0,239.1 273.4,239.3 273.2,239.3 272.8,239.4 272.2,239.6 271.2,239.8 270.9,239.9 269.7,240.2 269.2,240.3 268.4,240.5 267.2,240.8 266.6,240.9 265.2,241.2 264.7,241.3 263.5,241.5 263.2,241.6 262.2,241.8 261.6,242.0 261.2,242.1 259.7,242.4 259.2,242.6 257.9,242.9 257.2,243.1 256.0,243.2 255.2,243.2 254.7,243.3 254.1,243.3 253.2,243.4 252.2,243.4 251.2,243.5 251.0,243.5 249.8,243.4 249.2,243.4 247.3,243.3 247.2,243.3 246.0,242.7 245.2,242.4 244.8,242.2 243.8,241.8 243.5,241.7 243.2,241.5 243.1,241.5 242.9,238.9 242.8,237.7 242.1,228.7 241.4,219.7 241.2,217.2 240.8,212.0 240.5,208.2 240.4,206.9 240.0,201.8 239.8,204.0 239.7,205.2 239.3,209.7 239.2,210.8 238.5,218.7 237.6,228.8 237.2,233.3 237.0,235.6 236.7,238.9 236.5,241.2 236.4,242.3 236.3,242.3 236.1,242.3 235.6,242.3 235.2,242.4 235.1,242.4 233.6,242.5 233.2,242.5 231.2,242.6 231.1,242.6 229.8,242.7 229.2,242.7 227.4,242.5 227.2,242.5 225.2,242.3 224.9,242.3 223.2,241.9 223.0,241.9 221.2,241.4 221.1,241.4 219.9,241.6 219.3,241.7 219.2,241.7 217.4,242.1 217.2,242.1 216.2,242.3 215.2,242.4 214.3,242.5 213.7,242.5 213.2,242.5 212.4,242.6 211.2,242.7 210.6,242.8 209.3,243.1 209.2,243.2 207.4,243.4 207.2,243.4 206.2,243.4 205.2,243.5 205.0,243.5 204.3,243.3 203.7,242.9 203.2,242.4 202.5,241.6 201.2,240.1 200.6,239.3 199.2,237.4 198.7,236.7 198.5,236.4 197.2,238.0 196.9,238.4 196.0,239.5 195.4,240.2 195.2,240.5 195.0,240.7 193.5,242.1 193.2,242.3 193.0,242.3 191.7,242.6 191.2,242.6 189.8,242.7 189.2,242.7 187.9,242.8 187.2,242.8 186.7,242.8 186.1,242.7 185.2,242.6 184.2,242.5 183.6,242.4 183.2,242.4 181.7,242.2 181.2,242.0 181.1,241.9 179.2,239.8 177.3,241.5 177.2,241.6 176.7,241.8 175.5,242.2 175.2,241.9 174.2,240.9 173.6,240.3 173.2,239.9 173.0,239.7 172.4,237.9 171.7,234.9 171.5,233.9 171.2,232.4 171.1,231.9 170.5,229.0 169.9,227.8 169.2,226.5 168.0,229.9 167.4,231.6 167.2,232.2 166.8,233.3 165.5,234.9 165.2,235.3 164.9,235.7 164.3,236.5 163.2,237.8 163.0,238.1 161.8,237.4 161.2,237.0 160.5,236.5 159.9,236.2 159.3,235.8 159.2,235.8 158.3,235.4 158.0,235.3 157.2,235.0 156.8,234.8 156.6,234.8 155.3,235.1 155.2,235.1 154.9,235.2 153.3,235.6 153.2,235.6 153.1,235.6 151.8,235.3 151.6,235.3 151.2,235.2 150.0,235.0 149.2,234.8 148.1,234.6 147.2,233.3 146.2,231.9 145.6,231.1 145.2,231.1 144.6,231.2 143.2,231.4 143.1,231.4 141.9,231.5 141.2,231.2 139.4,230.6 139.2,230.5 138.1,230.1 137.2,229.7 136.9,229.6 135.6,228.6 135.2,228.3 135.0,228.1 134.4,228.9 133.2,230.5 132.5,231.5 131.9,231.6 131.3,231.7 131.2,231.8 129.4,232.1 129.2,232.0 128.2,231.5 127.2,231.0 125.7,230.2 125.2,230.0 124.4,229.6 123.2,228.1 123.0,227.8 122.0,226.5 121.7,223.8 121.5,222.0 121.2,219.2 121.0,217.4 120.7,214.7 120.5,214.0 120.1,212.5 119.8,211.4 119.5,210.3 119.2,211.4 118.7,213.2 118.4,214.3 117.6,217.2 117.3,217.7 117.2,217.8 117.0,218.1 116.8,218.4 115.9,219.8 115.2,220.9Z" fill="#e6d130"/>
<path d="M115.2,218.7 115.9,217.6 116.8,216.2 117.0,215.9 117.2,215.6 117.3,215.5 117.6,215.0 118.4,212.1 118.7,211.0 119.2,209.2 119.5,208.1 119.8,209.2 120.1,210.3 120.5,211.8 120.7,212.5 121.0,215.2 121.2,217.0 121.5,219.8 121.7,221.6 122.0,224.3 123.0,225.6 123.2,225.9 124.4,227.4 125.2,227.8 125.7,228.1 127.2,228.8 128.2,229.3 129.2,229.8 129.4,229.9 131.2,229.6 131.3,229.5 131.9,229.4 132.5,229.3 133.2,228.3 134.4,226.7 135.0,225.9 135.2,226.1 135.6,226.4 136.9,227.4 137.2,227.5 138.1,227.9 139.2,228.3 139.4,228.4 141.2,229.0 141.9,229.3 143.1,229.2 143.2,229.2 144.6,229.0 145.2,228.9 145.6,228.9 146.2,229.7 147.2,231.1 148.1,232.4 149.2,232.6 150.0,232.8 151.2,233.0 151.6,233.1 151.8,233.1 153.1,233.4 153.2,233.4 153.3,233.4 154.9,233.0 155.2,232.9 155.3,232.9 156.6,232.6 156.8,232.6 157.2,232.8 158.0,233.1 158.3,233.2 159.2,233.6 159.3,233.6 159.9,234.0 160.5,234.3 161.2,234.8 161.8,235.2 163.0,235.9 163.2,235.6 164.3,234.3 164.9,233.5 165.2,233.1 165.5,232.7 166.8,231.1 167.2,230.0 167.4,229.4 168.0,227.7 169.2,224.3 169.9,225.6 170.5,226.8 171.1,229.7 171.2,230.2 171.5,231.7 171.7,232.7 172.4,235.7 173.0,237.5 173.2,237.7 173.6,238.1 174.2,238.7 175.2,239.7 175.5,240.0 176.7,239.6 177.2,239.4 177.3,239.3 179.2,237.6 181.1,239.7 181.2,239.8 181.7,240.0 183.2,240.2 183.6,240.2 184.2,240.3 185.2,240.4 186.1,240.5 186.7,240.6 187.2,240.6 187.9,240.6 189.2,240.5 189.8,240.5 191.2,240.4 191.7,240.4 193.0,240.1 193.2,240.1 193.5,239.9 195.0,238.5 195.2,238.3 195.4,238.0 196.0,237.3 196.9,236.2 197.2,235.8 198.5,234.2 198.7,234.5 199.2,235.2 200.6,237.1 201.2,237.9 202.5,239.4 203.2,240.2 203.7,240.7 204.3,241.1 205.0,241.3 205.2,241.3 206.2,241.2 207.2,241.2 207.4,241.2 209.2,241.0 209.3,240.9 210.6,240.6 211.2,240.5 212.4,240.4 213.2,240.3 213.7,240.3 214.3,240.3 215.2,240.2 216.2,240.1 217.2,239.9 217.4,239.9 219.2,239.5 219.3,239.5 219.9,239.4 221.1,239.2 221.2,239.2 223.0,239.7 223.2,239.7 224.9,240.1 225.2,240.1 227.2,240.3 227.4,240.3 229.2,240.5 229.8,240.5 231.1,240.4 231.2,240.4 233.2,240.3 233.6,240.3 235.1,240.2 235.2,240.2 235.6,240.1 236.1,240.1 236.3,240.1 236.4,240.1 236.5,239.0 236.7,236.7 237.0,233.4 237.2,231.1 237.6,226.6 238.5,216.5 239.2,208.6 239.3,207.5 239.7,203.0 239.8,201.8 240.0,199.6 240.4,204.7 240.5,206.0 240.8,209.8 241.2,215.0 241.4,217.5 242.1,226.5 242.8,235.5 242.9,236.7 243.1,239.3 243.2,239.3 243.5,239.5 243.8,239.6 244.8,240.0 245.2,240.2 246.0,240.5 247.2,241.1 247.3,241.1 249.2,241.2 249.8,241.2 251.0,241.3 251.2,241.3 252.2,241.2 253.2,241.2 254.1,241.1 254.7,241.1 255.2,241.0 256.0,241.0 257.2,240.9 257.9,240.7 259.2,240.4 259.7,240.2 261.2,239.9 261.6,239.8 262.2,239.6 263.2,239.4 263.5,239.3 264.7,239.1 265.2,239.0 266.6,238.7 267.2,238.6 268.4,238.3 269.2,238.1 269.7,238.0 270.9,237.7 271.2,237.6 272.2,237.4 272.8,237.2 273.2,237.1 273.4,237.1 274.0,236.9 274.7,236.7 275.2,234.8 275.3,234.4 276.5,229.9 277.1,227.9 277.2,227.6 277.3,227.3 277.9,225.3 278.2,224.4 278.4,223.7 279.0,221.7 279.2,221.0 279.9,218.7 280.4,218.0 280.5,217.8 281.0,217.1 281.2,216.8 281.7,216.0 282.4,215.0 282.9,215.9 283.2,216.4 284.2,218.1 284.8,218.7 285.2,219.1 286.6,220.5 286.7,220.6 287.2,220.8 287.9,221.0 288.6,221.2 289.2,221.8 289.8,222.4 290.4,223.3 291.2,224.5 291.7,225.3 292.3,226.2 292.9,225.9 293.2,225.7 293.6,225.5 294.8,224.9 295.2,224.5 295.4,224.3 296.0,223.8 296.7,223.1 297.2,222.0 297.3,221.8 297.9,220.4 298.1,220.0 298.5,219.1 299.1,217.7 299.2,217.5 299.3,216.9 300.3,210.8 300.4,210.1 301.0,206.1 301.2,204.5 301.6,201.3 302.0,198.2 302.2,196.6 302.3,195.8 302.5,196.7 302.6,197.1 303.2,199.7 303.4,200.5 303.5,200.9 304.1,209.1 304.7,217.3 304.8,218.7 305.2,220.6 305.3,221.1 305.8,223.5 305.9,224.0 306.0,224.5 306.6,226.3 306.8,226.7 307.2,227.4 307.9,228.8 309.1,229.7 309.2,229.8 309.7,230.2 310.4,230.7 311.2,231.1 311.6,231.3 313.2,232.1 314.1,232.6 315.2,233.0 316.6,233.4 317.2,233.6 317.8,233.8 319.1,233.7 319.2,233.7 320.9,233.4 321.2,233.6 321.6,233.8 322.8,234.4 323.2,234.7 323.4,234.8 324.0,235.1 324.7,235.7 325.2,236.2 325.3,236.3 327.2,238.0 327.8,238.1 329.2,238.3 329.6,238.3 330.3,238.4 331.2,238.5 331.5,238.5 332.1,238.4 332.8,238.2 333.2,238.0 334.6,237.6 335.2,237.3 336.5,236.4 337.1,235.9 337.2,235.8 338.4,234.9 339.0,235.0 339.2,235.0 339.6,235.1 340.0,235.1 341.2,235.9 342.2,236.6 342.7,236.9 343.2,237.1 344.5,237.5 345.2,237.7 345.4,237.8 346.7,237.8 347.2,237.8 349.0,237.8 349.2,237.9 350.2,238.2 351.2,238.6 351.6,238.7 353.2,238.7 353.4,238.7 354.3,238.7 355.2,238.7 355.7,238.5 357.2,238.0 357.7,237.8 357.9,237.7 358.8,237.4 359.2,237.1 360.1,236.5 360.6,236.2 361.2,235.8 361.5,235.6 362.4,235.3 363.2,235.0 363.3,235.0 364.2,234.7 364.6,234.6 365.2,234.4 366.0,234.1 366.8,233.8 367.2,233.6 368.6,232.9 369.2,232.6 369.5,232.5 370.4,232.2 370.9,232.0 371.2,231.9 371.3,231.9 372.2,231.6 372.7,231.3 373.2,231.1 374.0,230.7 374.9,230.2 375.2,229.9 375.8,229.3 375.9,229.2 377.2,227.9 377.6,227.5 377.8,227.1 378.6,225.6 379.2,224.4 379.4,224.0 379.7,223.4 380.7,221.4 381.2,220.4 381.4,220.0 381.5,219.4 382.0,216.4 382.2,215.2 382.8,211.5 383.1,209.7 383.2,209.2 383.4,208.2 383.7,206.7 384.0,205.2 384.9,199.7 385.2,197.7 385.3,197.1 385.4,196.4 386.5,188.8 387.1,184.6 387.2,184.0 387.8,179.8 389.2,190.2 389.4,191.6 389.6,193.1 389.9,195.3 390.0,196.1 390.6,201.1 390.9,203.6 391.1,205.3 391.2,206.2 391.5,208.4 391.7,209.7 391.9,211.6 392.1,213.5 392.5,217.4 392.9,221.2 393.1,222.4 393.2,223.0 393.4,224.2 394.0,227.8 394.4,229.8 394.6,230.5 395.1,232.0 395.2,232.1 396.5,233.6 397.1,233.6 397.2,233.6 398.3,233.6 399.2,233.6 399.6,233.6 400.8,233.4 401.2,233.3 403.2,233.0 403.3,233.0 403.9,232.8 404.6,232.6 405.2,232.5 405.8,232.3 407.0,232.0 407.2,231.9 407.7,231.8 408.0,232.0 408.3,232.1 409.2,232.7 409.5,232.8 410.2,233.3 410.8,233.6 411.2,233.9 411.4,234.1 413.2,235.6 413.3,235.7 414.5,236.7 415.2,236.9 415.8,237.2 416.4,237.4 417.2,237.6 418.2,238.0 418.9,237.9 419.2,237.8 421.2,237.5 421.4,237.5 422.0,237.4 423.2,236.8 423.9,236.4 425.2,235.8 425.7,235.5 426.3,235.4 427.2,235.3 429.2,234.9 429.5,234.9 430.7,234.7 431.2,234.6 431.9,234.5 433.2,234.3 434.4,234.1 435.2,233.9 435.7,233.8 436.9,233.6 437.2,233.5 438.8,233.2 439.2,233.2 439.4,233.1 440.0,233.0 440.9,229.7 441.0,229.4 441.2,228.7 441.3,228.3 441.6,225.0 442.2,218.3 442.5,215.3 442.6,214.3 443.2,208.3 443.5,205.3 443.7,203.6 443.9,201.9 444.5,196.8 444.8,193.9 444.9,193.5 445.2,192.0 445.5,190.6 447.2,182.4 447.4,181.4 447.5,182.0 447.7,183.7 448.0,186.3 448.7,192.3 448.9,194.0 449.2,196.5 449.3,197.4 449.9,204.4 450.5,210.2 450.6,210.5 450.9,211.4 451.2,212.9 452.0,216.9 452.4,218.9 453.2,222.8 453.6,223.6 453.9,224.2 454.9,226.2 455.0,226.3 455.2,226.5 455.7,227.0 456.3,227.6 456.6,227.9 457.2,228.5 457.4,228.7 458.3,227.2 458.7,226.5 459.2,225.6 459.4,225.2 459.9,224.4 460.5,222.7 460.9,221.7 461.2,220.9 462.4,217.6 463.2,214.3 463.6,212.6 464.2,210.1 464.3,209.7 464.9,208.1 465.2,207.3 465.5,206.6 466.1,205.0 466.8,205.2 467.0,205.3 467.2,205.4 468.0,205.8 468.8,207.3 469.2,208.1 469.9,209.4 471.1,210.6 471.2,210.7 472.4,211.9 472.9,212.4 473.0,212.5 473.2,212.7 473.6,213.0 475.2,214.4 475.4,214.5 476.0,214.9 476.1,215.0 477.2,216.0 477.3,216.1 478.0,216.8 478.5,217.7 478.9,218.3 479.2,218.9 479.8,219.9 480.0,220.3 480.8,221.9 481.2,222.7 481.3,222.9 482.3,224.9 482.9,225.7 483.2,226.1 483.6,226.7 484.2,227.5 485.2,228.8 485.4,229.1 486.0,229.9 487.2,230.9 487.3,231.0 487.9,231.4 489.2,232.5 489.8,233.0 491.0,233.6 491.2,233.7 492.3,234.3 493.2,234.7 493.5,234.9 494.8,235.3 495.2,235.5 496.0,235.7 497.2,236.1 498.5,236.0 499.2,236.0 499.7,236.0 501.0,235.9 501.2,235.8 502.2,235.6 503.2,235.3 503.5,235.2 504.7,234.9 505.2,234.4 505.3,234.3 506.0,233.7 507.0,232.7 507.2,232.6 507.8,232.0 508.0,231.8 509.1,229.4 509.2,229.1 509.7,228.0 510.7,225.8 510.9,226.2 511.2,226.9 511.3,227.1 512.2,229.0 512.8,230.3 513.2,231.1 513.4,231.1 514.0,231.2 514.1,231.3 514.4,231.3 515.2,231.5 515.9,231.6 516.2,231.7 517.0,231.8 517.2,231.7 517.8,231.5 519.0,231.0 519.2,230.9 519.7,230.7 520.7,230.3 520.9,229.5 521.2,228.4 521.5,227.2 523.0,221.4 523.2,220.6 523.8,223.9 525.0,230.5 525.1,231.1 525.2,231.2 525.9,231.6 526.7,232.1 527.2,232.5 527.4,232.6 528.0,231.9 528.3,231.5 529.2,230.4 529.5,230.0 529.6,229.9 530.5,228.8 531.1,228.1 531.2,227.6 531.5,226.1 531.7,225.1 532.0,223.6 533.1,218.2 533.2,217.7 534.1,213.2 534.2,213.4 535.2,215.4 535.4,215.8 535.6,216.2 536.0,217.0 536.3,217.6 536.7,218.4 537.2,219.5 537.8,220.7 537.9,220.9 538.6,222.4 539.2,223.6 539.3,223.8 539.5,224.1 539.8,224.6 541.0,226.6 541.2,227.0 541.7,227.8 542.3,228.8 542.9,229.7 543.2,230.1 544.2,231.5 544.9,232.5 545.2,232.1 546.6,230.4 547.2,229.7 547.5,229.3 547.9,229.0 548.0,228.9 549.1,228.0 549.2,227.9 550.8,226.6 551.2,227.1 551.6,227.5 553.2,229.4 553.5,229.8 554.0,230.3 555.2,231.4 555.4,231.6 556.3,232.5 556.6,232.3 556.7,232.2 557.2,231.8 557.8,231.3 558.5,230.8 559.2,230.2 560.0,229.5 560.3,229.3 561.2,228.4 561.6,228.0 562.2,227.4 562.8,226.8 563.2,226.9 564.1,227.0 565.2,227.2 566.6,227.4 567.2,227.5 567.8,227.6 569.2,227.8 570.3,228.0 571.2,228.6 571.5,228.8 572.2,229.3 572.8,229.7 573.2,229.8 574.6,230.3 575.2,230.5 575.3,230.5 576.5,230.9 577.2,231.2 578.4,231.7 579.0,231.9 579.2,232.0 580.2,232.4 581.2,232.2 581.5,232.2 582.7,232.0 583.2,231.9 583.4,231.9 584.0,231.8 585.2,231.1 586.5,230.3 587.1,229.9 587.2,230.0 587.7,230.3 588.3,230.7 589.0,231.1 589.2,231.5 589.6,232.2 590.8,234.3 591.2,235.0 591.5,235.5 592.1,235.7 593.2,235.9 593.3,236.0 593.9,236.1 595.2,234.8 595.8,234.2 596.4,233.6 597.2,233.0 597.7,232.7 598.3,232.2 598.9,231.8 599.2,231.4 600.0,230.5 600.2,230.7 600.8,231.1 601.2,231.4 601.4,231.6 602.5,232.4 602.7,232.6 603.2,233.3 603.7,233.9 603.9,234.1 605.0,235.5 605.1,235.6 605.2,235.8 606.1,237.1 607.2,238.7 607.5,239.1 609.2,239.3 609.3,239.3 611.2,239.5 611.8,239.6 612.4,239.6 613.2,239.4 613.7,239.3 615.2,239.0 616.8,238.7 617.2,238.6 617.4,238.6 618.7,238.2 619.2,238.0 620.5,237.5 621.2,237.3 622.4,237.8 623.0,238.1 623.2,238.1 623.6,238.3 624.3,238.6 624.9,238.8 625.2,238.9 626.1,239.2 627.2,239.5 627.4,239.6 628.0,239.4 629.2,239.0 629.9,238.8 630.5,238.6 631.2,238.7 631.7,238.8 633.2,239.0 633.6,239.0 634.8,239.2 635.2,239.2 635.5,239.3 637.2,239.4 637.3,239.4 639.2,239.6 639.8,239.6 641.1,239.3 641.2,239.3 642.3,238.9 643.2,238.7 644.0,238.4 644.8,238.2 645.0,238.1 645.2,238.1 645.4,238.2 646.7,238.5 647.2,238.6 647.9,238.6 648.3,238.6 648.5,238.6 649.2,238.4 649.8,238.1 651.0,237.4 651.2,237.2 651.6,236.8 652.3,236.1 652.9,235.4 653.2,235.0 653.5,234.6 654.0,234.0 654.8,233.0 655.2,233.0 656.0,232.9 656.6,232.8 657.2,232.7 657.3,232.7 658.5,232.6 659.2,232.0 659.7,231.5 660.4,230.9 660.6,230.7 661.2,230.2 662.2,229.3 663.1,228.7 663.2,228.6 663.5,228.4 664.1,228.0 664.7,228.6 665.2,229.1 665.5,229.4 666.6,230.5 667.2,231.7 668.0,233.3 669.1,235.5 669.2,235.5 669.6,235.6 670.8,235.8 670.9,235.8 671.2,235.9 671.7,236.0 672.2,236.1 672.9,235.6 673.2,235.4 673.6,235.2 674.7,234.4 675.2,234.1 675.4,233.9 675.9,233.6 676.2,233.2 677.2,232.0 677.3,231.9 677.8,231.2 678.4,230.5 678.7,230.0 679.2,229.2 679.7,228.4 679.7,229.6 679.2,230.4 678.7,231.2 678.4,231.7 677.8,232.4 677.3,233.1 677.2,233.2 676.2,234.4 675.9,234.8 675.4,235.1 675.2,235.3 674.7,235.6 673.6,236.4 673.2,236.6 672.9,236.8 672.2,237.3 671.7,237.2 671.2,237.1 670.9,237.0 670.8,237.0 669.6,236.8 669.2,236.7 669.1,236.7 668.0,234.5 667.2,232.9 666.6,231.7 665.5,230.6 665.2,230.3 664.7,229.8 664.1,229.2 663.5,229.6 663.2,229.8 663.1,229.9 662.2,230.5 661.2,231.4 660.6,231.9 660.4,232.1 659.7,232.7 659.2,233.2 658.5,233.8 657.3,233.9 657.2,233.9 656.6,234.0 656.0,234.1 655.2,234.2 654.8,234.2 654.0,235.2 653.5,235.8 653.2,236.2 652.9,236.6 652.3,237.3 651.6,238.0 651.2,238.4 651.0,238.6 649.8,239.3 649.2,239.6 648.5,239.8 648.3,239.8 647.9,239.8 647.2,239.8 646.7,239.7 645.4,239.4 645.2,239.3 645.0,239.3 644.8,239.4 644.0,239.6 643.2,239.9 642.3,240.1 641.2,240.5 641.1,240.5 639.8,240.8 639.2,240.8 637.3,240.6 637.2,240.6 635.5,240.5 635.2,240.4 634.8,240.4 633.6,240.2 633.2,240.2 631.7,240.0 631.2,239.9 630.5,239.8 629.9,240.0 629.2,240.2 628.0,240.6 627.4,240.8 627.2,240.7 626.1,240.4 625.2,240.1 624.9,240.0 624.3,239.8 623.6,239.5 623.2,239.3 623.0,239.3 622.4,239.0 621.2,238.5 620.5,238.7 619.2,239.2 618.7,239.4 617.4,239.8 617.2,239.8 616.8,239.9 615.2,240.2 613.7,240.5 613.2,240.6 612.4,240.8 611.8,240.8 611.2,240.7 609.3,240.5 609.2,240.5 607.5,240.3 607.2,239.9 606.1,238.3 605.2,237.0 605.1,236.8 605.0,236.7 603.9,235.3 603.7,235.1 603.2,234.5 602.7,233.8 602.5,233.6 601.4,232.8 601.2,232.6 600.8,232.3 600.2,231.9 600.0,231.7 599.2,232.6 598.9,233.0 598.3,233.4 597.7,233.9 597.2,234.2 596.4,234.8 595.8,235.4 595.2,236.0 593.9,237.3 593.3,237.2 593.2,237.1 592.1,236.8 591.5,236.7 591.2,236.2 590.8,235.5 589.6,233.4 589.2,232.7 589.0,232.3 588.3,231.9 587.7,231.5 587.2,231.2 587.1,231.1 586.5,231.5 585.2,232.3 584.0,233.0 583.4,233.1 583.2,233.1 582.7,233.2 581.5,233.4 581.2,233.4 580.2,233.6 579.2,233.2 579.0,233.1 578.4,232.9 577.2,232.4 576.5,232.1 575.3,231.7 575.2,231.7 574.6,231.5 573.2,231.0 572.8,230.9 572.2,230.5 571.5,230.0 571.2,229.8 570.3,229.2 569.2,229.0 567.8,228.8 567.2,228.7 566.6,228.6 565.2,228.4 564.1,228.2 563.2,228.1 562.8,228.0 562.2,228.6 561.6,229.2 561.2,229.6 560.3,230.5 560.0,230.7 559.2,231.4 558.5,232.0 557.8,232.5 557.2,233.0 556.7,233.4 556.6,233.5 556.3,233.7 555.4,232.8 555.2,232.6 554.0,231.5 553.5,231.0 553.2,230.6 551.6,228.7 551.2,228.3 550.8,227.8 549.2,229.1 549.1,229.2 548.0,230.1 547.9,230.2 547.5,230.5 547.2,230.9 546.6,231.6 545.2,233.3 544.9,233.7 544.2,232.7 543.2,231.3 542.9,230.9 542.3,230.0 541.7,229.0 541.2,228.2 541.0,227.8 539.8,225.8 539.5,225.3 539.3,225.0 539.2,224.8 538.6,223.6 537.9,222.1 537.8,221.9 537.2,220.7 536.7,219.6 536.3,218.8 536.0,218.2 535.6,217.4 535.4,217.0 535.2,216.6 534.2,214.6 534.1,214.4 533.2,218.9 533.1,219.4 532.0,224.8 531.7,226.3 531.5,227.3 531.2,228.8 531.1,229.3 530.5,230.0 529.6,231.1 529.5,231.2 529.2,231.6 528.3,232.7 528.0,233.1 527.4,233.8 527.2,233.7 526.7,233.3 525.9,232.8 525.2,232.4 525.1,232.3 525.0,231.7 523.8,225.1 523.2,221.8 523.0,222.6 521.5,228.4 521.2,229.6 520.9,230.7 520.7,231.5 519.7,231.9 519.2,232.1 519.0,232.2 517.8,232.7 517.2,232.9 517.0,233.0 516.2,232.9 515.9,232.8 515.2,232.7 514.4,232.5 514.1,232.5 514.0,232.4 513.4,232.3 513.2,232.3 512.8,231.5 512.2,230.2 511.3,228.3 511.2,228.1 510.9,227.4 510.7,227.0 509.7,229.2 509.2,230.3 509.1,230.6 508.0,233.0 507.8,233.2 507.2,233.8 507.0,233.9 506.0,234.9 505.3,235.5 505.2,235.6 504.7,236.1 503.5,236.4 503.2,236.5 502.2,236.8 501.2,237.0 501.0,237.1 499.7,237.2 499.2,237.2 498.5,237.2 497.2,237.3 496.0,236.9 495.2,236.7 494.8,236.5 493.5,236.1 493.2,235.9 492.3,235.5 491.2,234.9 491.0,234.8 489.8,234.2 489.2,233.7 487.9,232.6 487.3,232.2 487.2,232.1 486.0,231.1 485.4,230.3 485.2,230.0 484.2,228.7 483.6,227.9 483.2,227.3 482.9,226.9 482.3,226.1 481.3,224.1 481.2,223.9 480.8,223.1 480.0,221.5 479.8,221.1 479.2,220.1 478.9,219.5 478.5,218.9 478.0,218.0 477.3,217.3 477.2,217.2 476.1,216.2 476.0,216.1 475.4,215.7 475.2,215.6 473.6,214.2 473.2,213.9 473.0,213.7 472.9,213.6 472.4,213.1 471.2,211.9 471.1,211.8 469.9,210.6 469.2,209.3 468.8,208.5 468.0,207.0 467.2,206.6 467.0,206.5 466.8,206.4 466.1,206.2 465.5,207.8 465.2,208.5 464.9,209.3 464.3,210.9 464.2,211.3 463.6,213.8 463.2,215.5 462.4,218.8 461.2,222.1 460.9,222.9 460.5,223.9 459.9,225.6 459.4,226.4 459.2,226.8 458.7,227.7 458.3,228.4 457.4,229.9 457.2,229.7 456.6,229.1 456.3,228.8 455.7,228.2 455.2,227.7 455.0,227.5 454.9,227.4 453.9,225.4 453.6,224.8 453.2,224.0 452.4,220.1 452.0,218.1 451.2,214.1 450.9,212.6 450.6,211.7 450.5,211.4 449.9,205.6 449.3,198.6 449.2,197.7 448.9,195.2 448.7,193.5 448.0,187.5 447.7,184.9 447.5,183.2 447.4,182.6 447.2,183.6 445.5,191.8 445.2,193.2 444.9,194.7 444.8,195.1 444.5,198.0 443.9,203.1 443.7,204.8 443.5,206.5 443.2,209.5 442.6,215.5 442.5,216.5 442.2,219.5 441.6,226.2 441.3,229.5 441.2,229.9 441.0,230.6 440.9,230.9 440.0,234.2 439.4,234.3 439.2,234.4 438.8,234.4 437.2,234.7 436.9,234.8 435.7,235.0 435.2,235.1 434.4,235.3 433.2,235.5 431.9,235.7 431.2,235.8 430.7,235.9 429.5,236.1 429.2,236.1 427.2,236.5 426.3,236.6 425.7,236.7 425.2,237.0 423.9,237.6 423.2,238.0 422.0,238.6 421.4,238.7 421.2,238.7 419.2,239.0 418.9,239.1 418.2,239.2 417.2,238.8 416.4,238.6 415.8,238.4 415.2,238.1 414.5,237.9 413.3,236.9 413.2,236.8 411.4,235.3 411.2,235.1 410.8,234.8 410.2,234.5 409.5,234.0 409.2,233.9 408.3,233.3 408.0,233.2 407.7,233.0 407.2,233.1 407.0,233.2 405.8,233.5 405.2,233.7 404.6,233.8 403.9,234.0 403.3,234.2 403.2,234.2 401.2,234.5 400.8,234.6 399.6,234.8 399.2,234.8 398.3,234.8 397.2,234.8 397.1,234.8 396.5,234.8 395.2,233.3 395.1,233.2 394.6,231.7 394.4,231.0 394.0,229.0 393.4,225.4 393.2,224.2 393.1,223.6 392.9,222.4 392.5,218.6 392.1,214.7 391.9,212.8 391.7,210.9 391.5,209.6 391.2,207.4 391.1,206.5 390.9,204.8 390.6,202.3 390.0,197.3 389.9,196.5 389.6,194.3 389.4,192.8 389.2,191.4 387.8,181.0 387.2,185.2 387.1,185.8 386.5,190.0 385.4,197.6 385.3,198.3 385.2,198.9 384.9,200.9 384.0,206.4 383.7,207.9 383.4,209.4 383.2,210.4 383.1,210.9 382.8,212.7 382.2,216.4 382.0,217.6 381.5,220.6 381.4,221.2 381.2,221.6 380.7,222.6 379.7,224.6 379.4,225.2 379.2,225.6 378.6,226.8 377.8,228.3 377.6,228.7 377.2,229.1 375.9,230.4 375.8,230.5 375.2,231.1 374.9,231.4 374.0,231.9 373.2,232.3 372.7,232.5 372.2,232.8 371.3,233.1 371.2,233.1 370.9,233.2 370.4,233.4 369.5,233.7 369.2,233.8 368.6,234.1 367.2,234.8 366.8,235.0 366.0,235.3 365.2,235.6 364.6,235.8 364.2,235.9 363.3,236.2 363.2,236.2 362.4,236.5 361.5,236.8 361.2,237.0 360.6,237.4 360.1,237.7 359.2,238.3 358.8,238.6 357.9,238.9 357.7,239.0 357.2,239.2 355.7,239.7 355.2,239.9 354.3,239.9 353.4,239.9 353.2,239.9 351.6,239.9 351.2,239.8 350.2,239.4 349.2,239.1 349.0,239.0 347.2,239.0 346.7,239.0 345.4,239.0 345.2,238.9 344.5,238.7 343.2,238.3 342.7,238.1 342.2,237.8 341.2,237.1 340.0,236.3 339.6,236.2 339.2,236.2 339.0,236.2 338.4,236.1 337.2,237.0 337.1,237.1 336.5,237.6 335.2,238.5 334.6,238.8 333.2,239.2 332.8,239.4 332.1,239.6 331.5,239.7 331.2,239.7 330.3,239.6 329.6,239.5 329.2,239.5 327.8,239.3 327.2,239.2 325.3,237.5 325.2,237.4 324.7,236.9 324.0,236.3 323.4,236.0 323.2,235.9 322.8,235.6 321.6,235.0 321.2,234.8 320.9,234.6 319.2,234.9 319.1,234.9 317.8,235.0 317.2,234.8 316.6,234.6 315.2,234.2 314.1,233.8 313.2,233.3 311.6,232.5 311.2,232.3 310.4,231.9 309.7,231.4 309.2,231.0 309.1,230.9 307.9,230.0 307.2,228.6 306.8,227.9 306.6,227.5 306.0,225.7 305.9,225.2 305.8,224.7 305.3,222.3 305.2,221.8 304.8,219.9 304.7,218.5 304.1,210.3 303.5,202.1 303.4,201.7 303.2,200.9 302.6,198.3 302.5,197.9 302.3,197.0 302.2,197.8 302.0,199.4 301.6,202.5 301.2,205.7 301.0,207.3 300.4,211.3 300.3,212.0 299.3,218.1 299.2,218.7 299.1,218.9 298.5,220.3 298.1,221.2 297.9,221.6 297.3,223.0 297.2,223.2 296.7,224.3 296.0,225.0 295.4,225.5 295.2,225.7 294.8,226.1 293.6,226.7 293.2,226.9 292.9,227.1 292.3,227.4 291.7,226.5 291.2,225.7 290.4,224.5 289.8,223.6 289.2,223.0 288.6,222.4 287.9,222.2 287.2,222.0 286.7,221.8 286.6,221.7 285.2,220.3 284.8,219.9 284.2,219.3 283.2,217.6 282.9,217.1 282.4,216.2 281.7,217.2 281.2,218.0 281.0,218.3 280.5,219.0 280.4,219.2 279.9,219.9 279.2,222.2 279.0,222.9 278.4,224.9 278.2,225.6 277.9,226.5 277.3,228.5 277.2,228.8 277.1,229.1 276.5,231.1 275.3,235.6 275.2,236.0 274.7,237.9 274.0,238.1 273.4,238.3 273.2,238.3 272.8,238.4 272.2,238.6 271.2,238.8 270.9,238.9 269.7,239.2 269.2,239.3 268.4,239.5 267.2,239.8 266.6,239.9 265.2,240.2 264.7,240.3 263.5,240.5 263.2,240.6 262.2,240.8 261.6,241.0 261.2,241.1 259.7,241.4 259.2,241.6 257.9,241.9 257.2,242.1 256.0,242.2 255.2,242.2 254.7,242.3 254.1,242.3 253.2,242.4 252.2,242.4 251.2,242.5 251.0,242.5 249.8,242.4 249.2,242.4 247.3,242.3 247.2,242.3 246.0,241.7 245.2,241.4 244.8,241.2 243.8,240.8 243.5,240.7 243.2,240.5 243.1,240.5 242.9,237.9 242.8,236.7 242.1,227.7 241.4,218.7 241.2,216.2 240.8,211.0 240.5,207.2 240.4,205.9 240.0,200.8 239.8,203.0 239.7,204.2 239.3,208.7 239.2,209.8 238.5,217.7 237.6,227.8 237.2,232.3 237.0,234.6 236.7,237.9 236.5,240.2 236.4,241.3 236.3,241.3 236.1,241.3 235.6,241.3 235.2,241.4 235.1,241.4 233.6,241.5 233.2,241.5 231.2,241.6 231.1,241.6 229.8,241.7 229.2,241.7 227.4,241.5 227.2,241.5 225.2,241.3 224.9,241.3 223.2,240.9 223.0,240.9 221.2,240.4 221.1,240.4 219.9,240.6 219.3,240.7 219.2,240.7 217.4,241.1 217.2,241.1 216.2,241.3 215.2,241.4 214.3,241.5 213.7,241.5 213.2,241.5 212.4,241.6 211.2,241.7 210.6,241.8 209.3,242.1 209.2,242.2 207.4,242.4 207.2,242.4 206.2,242.4 205.2,242.5 205.0,242.5 204.3,242.3 203.7,241.9 203.2,241.4 202.5,240.6 201.2,239.1 200.6,238.3 199.2,236.4 198.7,235.7 198.5,235.4 197.2,237.0 196.9,237.4 196.0,238.5 195.4,239.2 195.2,239.5 195.0,239.7 193.5,241.1 193.2,241.3 193.0,241.3 191.7,241.6 191.2,241.6 189.8,241.7 189.2,241.7 187.9,241.8 187.2,241.8 186.7,241.8 186.1,241.7 185.2,241.6 184.2,241.5 183.6,241.4 183.2,241.4 181.7,241.2 181.2,241.0 181.1,240.9 179.2,238.8 177.3,240.5 177.2,240.6 176.7,240.8 175.5,241.2 175.2,240.9 174.2,239.9 173.6,239.3 173.2,238.9 173.0,238.7 172.4,236.9 171.7,233.9 171.5,232.9 171.2,231.4 171.1,230.9 170.5,228.0 169.9,226.8 169.2,225.5 168.0,228.9 167.4,230.6 167.2,231.2 166.8,232.3 165.5,233.9 165.2,234.3 164.9,234.7 164.3,235.5 163.2,236.8 163.0,237.1 161.8,236.4 161.2,236.0 160.5,235.5 159.9,235.2 159.3,234.8 159.2,234.8 158.3,234.4 158.0,234.3 157.2,234.0 156.8,233.8 156.6,233.8 155.3,234.1 155.2,234.1 154.9,234.2 153.3,234.6 153.2,234.6 153.1,234.6 151.8,234.3 151.6,234.3 151.2,234.2 150.0,234.0 149.2,233.8 148.1,233.6 147.2,232.3 146.2,230.9 145.6,230.1 145.2,230.1 144.6,230.2 143.2,230.4 143.1,230.4 141.9,230.5 141.2,230.2 139.4,229.6 139.2,229.5 138.1,229.1 137.2,228.7 136.9,228.6 135.6,227.6 135.2,227.3 135.0,227.1 134.4,227.9 133.2,229.5 132.5,230.5 131.9,230.6 131.3,230.7 131.2,230.8 129.4,231.1 129.2,231.0 128.2,230.5 127.2,230.0 125.7,229.2 125.2,229.0 124.4,228.6 123.2,227.1 123.0,226.8 122.0,225.5 121.7,222.8 121.5,221.0 121.2,218.2 121.0,216.4 120.7,213.7 120.5,213.0 120.1,211.5 119.8,210.4 119.5,209.3 119.2,210.4 118.7,212.2 118.4,213.3 117.6,216.2 117.3,216.7 117.2,216.8 117.0,217.1 116.8,217.4 115.9,218.8 115.2,219.9Z" fill="#f282bf"/>
<path d="M115.2,193.4 115.3,190.0 116.2,185.6 116.4,184.7 116.6,183.6 116.7,183.1 117.0,181.5 117.8,177.2 118.1,175.6 118.9,171.1 120.0,173.4 120.3,174.0 120.7,174.8 121.1,184.8 121.3,189.8 121.6,197.3 121.8,201.2 122.1,207.2 122.3,211.0 122.5,211.5 123.5,213.3 123.7,213.7 124.8,215.7 125.5,216.1 126.0,216.3 127.5,217.1 128.5,217.6 129.5,218.1 129.3,218.0 130.8,216.8 130.9,216.7 131.5,216.2 132.0,215.8 132.7,214.6 133.9,212.5 134.5,211.4 134.7,211.0 135.5,209.5 137.4,211.8 137.7,212.2 138.6,213.3 139.6,214.5 139.8,214.8 141.6,216.8 142.3,217.5 143.4,218.1 143.5,218.1 144.9,218.9 145.5,219.2 146.0,219.4 146.7,220.7 147.7,222.4 148.5,223.8 149.4,224.1 150.2,224.3 151.4,224.7 151.8,224.9 151.8,224.9 152.9,224.4 153.0,224.4 153.1,224.4 154.9,223.7 155.4,223.9 155.5,223.9 156.8,224.4 157.0,224.5 157.4,224.6 158.4,225.0 158.8,225.5 159.7,226.6 159.8,226.7 160.4,227.5 160.9,228.2 161.6,228.7 162.2,229.1 162.8,229.6 162.7,229.9 163.8,227.9 164.4,226.9 164.7,226.3 164.9,225.9 166.2,221.4 166.6,220.0 166.8,219.3 167.4,217.2 168.6,213.3 170.3,207.8 171.1,222.4 171.7,227.9 171.8,228.9 172.1,231.3 172.3,232.2 173.0,235.3 173.5,236.9 173.6,237.0 174.0,237.4 174.6,237.9 175.3,238.5 175.3,238.5 176.4,238.1 176.8,237.7 176.9,237.7 179.3,235.9 181.6,238.7 181.7,238.8 182.0,239.1 183.3,239.3 183.7,239.3 184.3,239.4 185.3,239.5 186.2,239.6 186.7,239.7 187.2,239.7 187.9,239.7 189.2,239.6 189.8,239.6 191.2,239.5 191.5,239.5 192.6,238.7 192.8,238.6 193.1,238.3 194.5,236.9 194.7,236.7 194.9,236.4 195.5,235.5 196.4,234.2 196.7,233.8 198.5,231.3 199.2,232.2 199.7,232.9 201.1,234.9 201.7,235.8 203.0,237.6 203.7,238.5 204.2,239.2 204.6,239.8 205.0,239.8 205.2,239.8 206.2,239.8 207.2,239.8 207.3,239.8 209.1,239.5 209.2,239.4 210.5,239.2 211.1,239.1 212.3,238.9 213.1,238.7 213.6,238.6 214.2,238.5 215.1,238.4 216.1,238.2 217.1,238.0 217.2,238.0 218.9,237.1 219.0,237.1 219.6,236.8 221.0,236.1 221.4,236.2 223.2,236.7 223.4,236.8 225.1,237.3 225.4,237.4 227.4,237.9 227.6,238.0 229.4,238.5 229.9,238.6 231.2,238.8 231.3,238.8 233.3,239.0 233.7,239.1 235.2,239.2 235.2,239.2 235.0,239.3 235.5,234.3 235.7,232.0 235.8,230.9 235.9,229.8 236.1,228.4 236.4,228.2 236.6,222.3 237.0,217.5 237.9,207.4 238.6,199.6 238.7,198.4 239.2,195.7 239.8,195.7 240.0,195.7 240.9,195.7 241.1,196.7 241.4,198.4 241.8,203.7 242.0,206.3 242.7,215.5 243.4,224.7 243.5,226.0 243.7,228.6 243.8,229.9 244.1,233.8 244.4,237.1 244.7,237.1 245.1,237.1 246.1,237.0 247.5,237.8 247.6,237.8 249.5,238.9 250.0,239.2 251.0,239.3 251.2,239.3 252.2,239.3 253.2,239.4 254.1,239.5 254.6,239.5 254.9,239.3 255.7,238.8 256.9,238.2 257.6,237.8 258.9,237.1 259.5,236.8 261.0,236.2 261.4,236.1 262.0,235.8 263.0,235.5 263.3,235.4 264.5,234.9 264.9,234.7 266.3,234.0 266.9,233.7 268.1,233.1 268.9,232.7 269.5,232.4 270.8,232.2 271.1,232.1 272.1,231.9 272.7,231.8 273.1,231.7 272.9,231.8 273.4,230.2 274.1,227.9 274.6,226.3 274.7,225.9 275.9,221.0 276.5,218.6 276.6,217.6 276.7,216.6 277.3,210.5 277.6,207.4 277.8,205.4 278.4,199.3 278.6,197.1 279.4,195.8 279.9,194.9 280.0,194.8 281.0,193.0 281.7,194.2 282.2,195.0 282.9,196.2 283.4,196.9 283.6,197.2 284.7,198.4 285.3,199.6 285.7,200.4 287.1,203.2 287.2,203.4 287.7,204.2 288.4,205.3 289.1,206.4 289.7,207.4 290.3,208.4 290.9,209.3 291.7,210.4 292.2,211.2 292.4,211.5 292.5,211.4 292.8,211.1 293.2,210.7 294.4,209.5 294.7,209.0 294.9,208.8 295.5,208.1 296.2,207.2 296.7,206.7 296.8,206.5 297.3,205.9 297.5,205.1 297.9,203.2 298.5,200.3 298.6,199.9 298.7,199.4 299.7,182.2 299.8,181.4 300.4,176.3 300.6,174.6 301.0,171.2 301.4,167.8 302.2,161.3 302.9,166.9 303.1,168.5 303.2,169.3 303.8,174.0 304.0,175.5 304.1,176.3 304.7,181.0 305.3,189.2 305.4,190.5 305.8,195.9 305.9,197.3 306.4,209.5 306.5,210.5 306.6,211.5 307.2,217.8 307.4,219.6 307.6,219.9 308.3,220.7 309.5,221.9 309.5,221.9 310.0,222.1 310.7,222.5 311.5,222.9 312.0,223.1 313.6,224.8 314.4,225.6 315.4,225.9 316.8,226.4 317.4,226.6 317.9,226.8 319.1,226.8 319.2,226.8 320.9,226.8 321.2,226.8 321.9,226.8 323.2,228.2 323.6,228.7 323.8,228.9 324.4,229.5 325.2,230.3 325.7,230.9 325.8,231.0 327.6,233.2 328.2,233.6 329.6,234.7 330.0,235.1 330.6,235.6 331.5,236.0 331.8,236.1 332.4,236.4 332.7,236.6 332.8,236.5 334.2,235.3 334.8,234.8 336.1,233.7 336.7,233.3 336.8,233.2 338.0,232.3 338.7,231.8 339.0,231.7 339.4,231.5 340.1,231.2 341.6,232.7 342.6,233.7 343.0,234.1 343.4,234.2 344.7,234.6 345.4,234.9 345.5,234.9 346.6,234.7 347.1,234.7 349.1,234.4 349.4,234.5 350.4,234.8 351.4,235.2 351.6,235.3 353.0,234.8 353.2,234.7 354.1,234.4 355.0,234.1 355.5,233.9 357.0,233.4 357.5,233.2 357.5,233.2 358.3,232.1 358.7,231.6 359.6,230.4 360.2,229.6 360.9,229.3 361.2,229.1 362.1,228.6 362.9,228.2 363.1,228.1 364.1,228.0 364.5,227.9 365.1,227.8 365.7,227.7 366.4,227.1 366.8,226.6 368.2,225.2 368.8,224.6 369.1,224.3 370.0,223.4 370.5,222.9 370.8,222.6 370.8,222.5 371.7,221.3 372.2,220.7 372.7,220.0 373.5,218.9 374.4,217.7 374.7,217.2 375.3,216.4 375.4,216.2 376.7,213.6 377.1,212.8 377.3,212.4 378.1,210.8 378.7,209.6 378.8,209.3 379.1,208.2 380.1,204.3 380.6,202.4 380.8,201.3 380.9,200.8 381.4,198.2 381.6,197.2 382.2,192.9 382.5,190.7 382.6,190.0 382.8,188.5 383.1,183.6 383.4,178.6 384.3,159.9 384.6,150.6 384.7,147.5 384.8,146.3 385.9,133.6 387.0,121.3 387.8,127.4 388.4,131.8 389.8,142.1 390.0,143.5 390.2,145.0 390.5,147.2 390.6,149.1 391.2,159.9 391.5,167.4 391.7,172.4 391.8,173.9 392.1,178.6 392.3,181.7 392.5,184.8 392.7,189.7 393.1,199.5 393.5,204.8 393.7,207.5 393.8,208.8 394.0,211.4 394.6,216.9 395.0,220.5 395.2,222.1 395.5,222.3 395.6,222.4 396.9,223.4 397.3,223.7 397.2,223.7 398.3,223.7 399.2,223.7 399.6,223.7 400.6,223.7 400.9,223.5 402.9,222.3 403.0,222.3 403.6,221.9 404.3,221.5 404.9,221.1 405.5,220.7 407.0,219.8 407.5,220.1 408.0,220.4 408.3,220.6 408.6,220.8 409.5,221.3 409.8,221.5 410.6,221.9 411.3,222.7 411.7,223.2 411.9,223.4 413.7,225.6 413.8,225.7 415.0,227.6 415.7,228.7 416.2,229.5 416.7,229.7 417.5,230.2 418.5,230.8 419.0,231.0 419.0,231.0 421.0,230.3 421.2,230.2 421.7,230.0 422.9,229.2 423.6,228.7 424.9,227.8 425.4,227.5 426.1,227.2 427.0,226.9 429.0,226.2 429.3,226.1 430.5,225.7 431.0,225.6 431.7,225.4 433.0,224.9 434.2,224.5 435.0,224.3 435.5,224.1 436.6,223.8 436.9,223.6 438.5,222.6 438.9,222.4 439.1,222.3 439.4,222.0 440.3,216.2 440.4,215.5 440.6,214.1 440.7,213.4 441.0,209.8 441.6,202.4 441.9,198.7 442.0,197.5 442.6,185.9 442.9,180.1 443.1,176.2 443.3,172.4 443.9,160.9 444.2,155.1 444.3,153.2 444.6,147.4 444.9,145.1 446.6,131.8 446.8,130.3 446.9,129.5 447.9,122.0 448.6,133.8 449.3,147.5 449.5,151.6 449.8,157.8 449.9,159.9 450.5,172.3 451.1,175.6 451.2,176.1 451.5,177.8 451.8,179.4 452.6,185.4 453.0,188.4 453.8,194.4 454.2,196.8 454.5,198.6 455.5,204.5 455.6,205.1 455.8,206.3 456.3,209.3 456.9,211.3 457.2,212.3 457.2,212.5 456.8,213.7 457.7,210.6 458.1,209.3 458.6,205.9 458.8,204.6 459.3,201.2 459.9,197.1 460.3,194.4 460.6,193.0 461.8,187.6 462.6,184.0 463.0,182.2 463.6,179.1 463.7,178.5 464.3,175.4 464.6,173.9 464.9,172.2 465.5,170.7 466.2,169.0 467.0,167.2 467.7,168.8 468.5,170.5 469.4,172.2 469.8,173.3 470.5,175.2 471.7,178.4 471.7,178.6 472.9,181.3 473.4,182.4 473.5,182.6 473.7,183.1 474.0,183.6 475.2,183.6 475.4,183.6 475.9,183.6 475.8,183.6 476.9,183.1 477.0,183.0 477.7,182.7 478.9,182.1 479.5,185.0 479.8,186.5 480.4,189.7 480.6,191.2 481.4,197.1 481.8,198.1 481.9,198.3 482.9,201.6 483.5,205.2 483.8,207.0 484.2,209.2 484.8,211.7 485.8,215.9 486.0,216.7 486.6,218.5 487.8,221.2 487.9,221.3 488.4,222.8 489.7,225.0 490.3,225.9 491.4,226.8 491.6,227.0 492.6,227.9 493.4,228.1 493.7,228.2 495.0,228.6 495.4,228.7 496.1,228.9 497.2,228.9 498.5,229.0 499.2,229.0 499.7,229.0 501.0,229.0 501.2,229.0 502.2,228.9 503.2,228.9 503.3,228.9 504.4,228.3 504.9,228.0 505.0,228.0 505.5,227.7 506.4,223.1 506.6,222.1 507.2,219.2 507.4,218.4 508.5,214.4 508.6,214.1 509.1,212.1 510.2,210.6 510.4,210.3 510.7,209.8 511.4,208.8 512.7,211.6 513.4,213.5 513.8,215.1 514.0,215.9 514.6,217.8 514.7,218.2 515.0,219.2 515.7,220.2 516.4,221.0 516.2,220.9 516.6,220.5 516.8,220.3 517.4,219.6 518.5,218.4 518.6,218.0 519.1,216.7 520.1,214.3 520.3,213.8 520.6,213.0 520.9,212.3 522.4,208.7 523.4,206.3 524.4,211.7 525.6,218.3 525.6,218.4 525.7,218.6 526.4,220.0 527.2,221.6 527.7,222.6 527.5,222.2 527.5,222.1 527.8,221.7 528.7,220.5 528.9,220.3 529.0,219.8 529.9,215.0 530.5,213.3 530.6,212.6 530.9,210.4 531.1,208.8 531.4,206.3 532.9,193.8 533.8,196.5 534.7,199.2 534.8,199.5 535.8,202.5 536.0,203.1 536.2,203.7 536.6,204.9 536.9,205.8 537.3,207.0 537.8,208.5 538.4,210.3 538.5,210.6 539.2,212.7 539.8,214.9 539.9,215.2 540.1,216.0 540.4,217.0 541.6,221.3 541.7,221.5 542.2,222.4 542.8,223.4 543.4,224.4 543.7,224.9 544.7,226.5 544.9,226.9 544.7,227.2 546.1,225.2 546.7,224.3 547.0,223.9 547.4,223.3 547.5,223.1 548.7,221.9 548.8,221.8 550.4,220.0 551.2,219.1 552.0,220.0 553.6,221.7 553.9,222.1 554.5,222.6 555.7,224.3 555.9,224.6 556.8,225.8 557.1,226.2 556.7,225.7 556.7,225.6 557.3,224.8 558.0,223.8 558.7,222.8 559.5,221.7 559.7,220.9 560.6,218.4 561.1,217.1 561.7,216.3 562.3,215.5 562.7,215.0 563.8,213.8 565.1,213.5 566.5,213.2 566.9,213.1 567.4,212.7 568.8,211.3 570.6,209.4 571.8,214.3 572.1,215.6 572.7,218.3 573.0,218.4 573.4,218.5 574.8,219.1 575.4,219.3 575.5,219.3 576.6,219.5 577.3,219.7 578.6,219.9 579.2,220.2 579.4,220.3 580.4,220.7 581.4,221.1 581.4,221.1 582.4,220.5 582.9,220.2 583.1,220.0 583.7,219.6 585.0,218.7 586.5,218.7 587.1,218.7 587.2,218.7 588.0,218.7 588.8,220.0 589.5,221.1 589.7,221.4 590.1,222.1 591.4,225.3 591.8,226.4 592.1,227.2 592.7,228.6 593.8,231.2 593.6,230.8 593.5,230.8 594.8,229.8 595.4,229.5 595.9,228.7 596.7,227.4 597.2,226.7 597.8,225.7 598.4,225.0 598.7,224.6 599.5,223.6 599.7,223.4 601.0,221.8 601.8,223.8 602.0,224.3 603.0,227.2 603.2,227.5 603.7,228.5 604.2,229.5 604.4,229.9 605.5,232.0 605.6,232.1 605.7,232.2 606.6,233.3 607.7,234.7 607.7,234.8 609.0,234.5 609.1,234.4 611.0,233.9 611.6,233.8 612.3,233.6 613.1,233.5 613.6,233.4 615.1,233.3 616.7,233.1 617.1,233.0 617.1,233.0 618.2,231.4 618.7,230.7 620.4,228.3 621.6,229.3 622.8,230.2 623.4,230.6 623.6,230.9 624.0,231.3 624.7,232.0 625.3,232.6 625.6,232.9 626.2,233.4 626.9,233.0 627.1,232.8 627.7,232.4 628.9,231.7 629.8,231.1 630.7,231.3 631.4,231.5 631.9,231.6 633.4,232.0 633.8,232.1 634.9,232.4 635.3,232.5 635.6,232.5 637.3,232.7 637.4,232.7 639.3,232.9 639.8,233.0 641.0,232.8 641.1,232.7 642.2,232.5 643.1,232.3 643.9,232.2 644.9,232.0 645.3,232.2 645.5,232.3 645.7,232.4 647.0,233.2 647.5,233.5 648.2,233.9 648.6,234.2 648.6,234.2 649.1,234.0 649.7,233.9 650.6,233.7 650.7,233.5 651.1,232.6 651.8,231.0 652.4,229.7 652.7,229.0 653.0,228.3 653.5,227.6 654.3,226.6 654.7,226.1 655.8,224.8 656.8,225.1 657.4,225.3 657.5,225.4 658.7,225.7 659.4,226.0 659.4,226.0 659.9,225.2 660.1,224.9 660.7,223.8 661.7,222.0 662.7,221.1 662.8,221.0 663.1,220.7 664.1,219.6 665.2,220.9 665.7,221.5 666.0,221.9 667.1,223.3 667.8,225.5 668.6,228.3 669.6,231.9 669.4,231.8 669.8,232.0 671.0,232.5 671.1,232.5 671.4,232.6 671.9,232.8 672.1,232.9 672.5,232.5 672.8,232.2 673.2,231.8 674.3,230.7 674.8,230.2 675.0,230.0 675.4,229.5 675.7,229.1 676.7,227.4 676.8,227.2 677.2,226.5 677.8,224.0 678.1,222.8 678.6,220.7 679.1,218.6 679.7,228.9 679.2,229.7 678.7,230.5 678.4,231.0 677.8,231.7 677.3,232.4 677.2,232.5 676.2,233.7 675.9,234.1 675.4,234.4 675.2,234.6 674.7,234.9 673.6,235.7 673.2,235.9 672.9,236.1 672.2,236.6 671.7,236.5 671.2,236.4 670.9,236.3 670.8,236.3 669.6,236.1 669.2,236.0 669.1,236.0 668.0,233.8 667.2,232.2 666.6,231.0 665.5,229.9 665.2,229.6 664.7,229.1 664.1,228.5 663.5,228.9 663.2,229.1 663.1,229.2 662.2,229.8 661.2,230.7 660.6,231.2 660.4,231.4 659.7,232.0 659.2,232.5 658.5,233.1 657.3,233.2 657.2,233.2 656.6,233.3 656.0,233.4 655.2,233.5 654.8,233.5 654.0,234.5 653.5,235.1 653.2,235.5 652.9,235.9 652.3,236.6 651.6,237.3 651.2,237.7 651.0,237.9 649.8,238.6 649.2,238.9 648.5,239.1 648.3,239.1 647.9,239.1 647.2,239.1 646.7,239.0 645.4,238.7 645.2,238.6 645.0,238.6 644.8,238.7 644.0,238.9 643.2,239.2 642.3,239.4 641.2,239.8 641.1,239.8 639.8,240.1 639.2,240.1 637.3,239.9 637.2,239.9 635.5,239.8 635.2,239.7 634.8,239.7 633.6,239.5 633.2,239.5 631.7,239.3 631.2,239.2 630.5,239.1 629.9,239.3 629.2,239.5 628.0,239.9 627.4,240.1 627.2,240.0 626.1,239.7 625.2,239.4 624.9,239.3 624.3,239.1 623.6,238.8 623.2,238.6 623.0,238.6 622.4,238.3 621.2,237.8 620.5,238.0 619.2,238.5 618.7,238.7 617.4,239.1 617.2,239.1 616.8,239.2 615.2,239.5 613.7,239.8 613.2,239.9 612.4,240.1 611.8,240.1 611.2,240.0 609.3,239.8 609.2,239.8 607.5,239.6 607.2,239.2 606.1,237.6 605.2,236.3 605.1,236.1 605.0,236.0 603.9,234.6 603.7,234.4 603.2,233.8 602.7,233.1 602.5,232.9 601.4,232.1 601.2,231.9 600.8,231.6 600.2,231.2 600.0,231.0 599.2,231.9 598.9,232.3 598.3,232.7 597.7,233.2 597.2,233.5 596.4,234.1 595.8,234.7 595.2,235.3 593.9,236.6 593.3,236.5 593.2,236.4 592.1,236.2 591.5,236.0 591.2,235.5 590.8,234.8 589.6,232.7 589.2,232.0 589.0,231.6 588.3,231.2 587.7,230.8 587.2,230.5 587.1,230.4 586.5,230.8 585.2,231.6 584.0,232.3 583.4,232.4 583.2,232.4 582.7,232.5 581.5,232.7 581.2,232.7 580.2,232.9 579.2,232.5 579.0,232.4 578.4,232.2 577.2,231.7 576.5,231.4 575.3,231.0 575.2,231.0 574.6,230.8 573.2,230.3 572.8,230.2 572.2,229.8 571.5,229.3 571.2,229.1 570.3,228.5 569.2,228.3 567.8,228.1 567.2,228.0 566.6,227.9 565.2,227.7 564.1,227.5 563.2,227.4 562.8,227.3 562.2,227.9 561.6,228.5 561.2,228.9 560.3,229.8 560.0,230.0 559.2,230.7 558.5,231.3 557.8,231.8 557.2,232.3 556.7,232.7 556.6,232.8 556.3,233.0 555.4,232.1 555.2,231.9 554.0,230.8 553.5,230.3 553.2,229.9 551.6,228.0 551.2,227.6 550.8,227.1 549.2,228.4 549.1,228.5 548.0,229.4 547.9,229.5 547.5,229.8 547.2,230.2 546.6,230.9 545.2,232.6 544.9,233.0 544.2,232.0 543.2,230.6 542.9,230.2 542.3,229.3 541.7,228.3 541.2,227.5 541.0,227.1 539.8,225.1 539.5,224.6 539.3,224.3 539.2,224.1 538.6,222.9 537.9,221.4 537.8,221.2 537.2,220.0 536.7,218.9 536.3,218.1 536.0,217.5 535.6,216.7 535.4,216.3 535.2,215.9 534.2,213.9 534.1,213.7 533.2,218.2 533.1,218.7 532.0,224.1 531.7,225.6 531.5,226.6 531.2,228.1 531.1,228.6 530.5,229.3 529.6,230.4 529.5,230.5 529.2,230.9 528.3,232.0 528.0,232.4 527.4,233.1 527.2,233.0 526.7,232.6 525.9,232.1 525.2,231.7 525.1,231.6 525.0,231.0 523.8,224.4 523.2,221.1 523.0,221.9 521.5,227.7 521.2,228.9 520.9,230.0 520.7,230.8 519.7,231.2 519.2,231.4 519.0,231.5 517.8,232.0 517.2,232.2 517.0,232.3 516.2,232.2 515.9,232.1 515.2,232.0 514.4,231.8 514.1,231.8 514.0,231.7 513.4,231.6 513.2,231.6 512.8,230.8 512.2,229.5 511.3,227.6 511.2,227.4 510.9,226.7 510.7,226.3 509.7,228.5 509.2,229.6 509.1,229.9 508.0,232.3 507.8,232.5 507.2,233.1 507.0,233.2 506.0,234.2 505.3,234.8 505.2,234.9 504.7,235.4 503.5,235.7 503.2,235.8 502.2,236.1 501.2,236.3 501.0,236.4 499.7,236.5 499.2,236.5 498.5,236.5 497.2,236.6 496.0,236.2 495.2,236.0 494.8,235.8 493.5,235.4 493.2,235.2 492.3,234.8 491.2,234.2 491.0,234.1 489.8,233.5 489.2,233.0 487.9,231.9 487.3,231.5 487.2,231.4 486.0,230.4 485.4,229.6 485.2,229.3 484.2,228.0 483.6,227.2 483.2,226.6 482.9,226.2 482.3,225.4 481.3,223.4 481.2,223.2 480.8,222.4 480.0,220.8 479.8,220.4 479.2,219.4 478.9,218.8 478.5,218.2 478.0,217.3 477.3,216.6 477.2,216.5 476.1,215.5 476.0,215.4 475.4,215.0 475.2,214.9 473.6,213.5 473.2,213.2 473.0,213.0 472.9,212.9 472.4,212.4 471.2,211.2 471.1,211.1 469.9,209.9 469.2,208.6 468.8,207.8 468.0,206.3 467.2,205.9 467.0,205.8 466.8,205.7 466.1,205.5 465.5,207.1 465.2,207.8 464.9,208.6 464.3,210.2 464.2,210.6 463.6,213.1 463.2,214.8 462.4,218.1 461.2,221.4 460.9,222.2 460.5,223.2 459.9,224.9 459.4,225.7 459.2,226.1 458.7,227.0 458.3,227.7 457.4,229.2 457.2,229.0 456.6,228.4 456.3,228.1 455.7,227.5 455.2,227.0 455.0,226.8 454.9,226.7 453.9,224.7 453.6,224.1 453.2,223.3 452.4,219.4 452.0,217.4 451.2,213.4 450.9,211.9 450.6,211.0 450.5,210.7 449.9,204.9 449.3,197.9 449.2,197.0 448.9,194.5 448.7,192.8 448.0,186.8 447.7,184.2 447.5,182.5 447.4,181.9 447.2,182.9 445.5,191.1 445.2,192.5 444.9,194.0 444.8,194.4 444.5,197.3 443.9,202.4 443.7,204.1 443.5,205.8 443.2,208.8 442.6,214.8 442.5,215.8 442.2,218.8 441.6,225.5 441.3,228.8 441.2,229.2 441.0,229.9 440.9,230.2 440.0,233.5 439.4,233.6 439.2,233.7 438.8,233.7 437.2,234.0 436.9,234.1 435.7,234.3 435.2,234.4 434.4,234.6 433.2,234.8 431.9,235.0 431.2,235.1 430.7,235.2 429.5,235.4 429.2,235.4 427.2,235.8 426.3,235.9 425.7,236.0 425.2,236.3 423.9,236.9 423.2,237.3 422.0,237.9 421.4,238.0 421.2,238.0 419.2,238.3 418.9,238.4 418.2,238.5 417.2,238.1 416.4,237.9 415.8,237.7 415.2,237.4 414.5,237.2 413.3,236.2 413.2,236.1 411.4,234.6 411.2,234.4 410.8,234.1 410.2,233.8 409.5,233.3 409.2,233.2 408.3,232.6 408.0,232.5 407.7,232.3 407.2,232.4 407.0,232.5 405.8,232.8 405.2,233.0 404.6,233.1 403.9,233.3 403.3,233.5 403.2,233.5 401.2,233.8 400.8,233.9 399.6,234.1 399.2,234.1 398.3,234.1 397.2,234.1 397.1,234.1 396.5,234.1 395.2,232.6 395.1,232.5 394.6,231.0 394.4,230.3 394.0,228.3 393.4,224.7 393.2,223.5 393.1,222.9 392.9,221.7 392.5,217.9 392.1,214.0 391.9,212.1 391.7,210.2 391.5,208.9 391.2,206.7 391.1,205.8 390.9,204.1 390.6,201.6 390.0,196.6 389.9,195.8 389.6,193.6 389.4,192.1 389.2,190.7 387.8,180.3 387.2,184.5 387.1,185.1 386.5,189.3 385.4,196.9 385.3,197.6 385.2,198.2 384.9,200.2 384.0,205.7 383.7,207.2 383.4,208.7 383.2,209.7 383.1,210.2 382.8,212.0 382.2,215.7 382.0,216.9 381.5,219.9 381.4,220.5 381.2,220.9 380.7,221.9 379.7,223.9 379.4,224.5 379.2,224.9 378.6,226.1 377.8,227.6 377.6,228.0 377.2,228.4 375.9,229.7 375.8,229.8 375.2,230.4 374.9,230.7 374.0,231.2 373.2,231.6 372.7,231.8 372.2,232.1 371.3,232.4 371.2,232.4 370.9,232.5 370.4,232.7 369.5,233.0 369.2,233.1 368.6,233.4 367.2,234.1 366.8,234.3 366.0,234.6 365.2,234.9 364.6,235.1 364.2,235.2 363.3,235.5 363.2,235.5 362.4,235.8 361.5,236.1 361.2,236.3 360.6,236.7 360.1,237.0 359.2,237.6 358.8,237.9 357.9,238.2 357.7,238.3 357.2,238.5 355.7,239.0 355.2,239.2 354.3,239.2 353.4,239.2 353.2,239.2 351.6,239.2 351.2,239.1 350.2,238.7 349.2,238.4 349.0,238.3 347.2,238.3 346.7,238.3 345.4,238.3 345.2,238.2 344.5,238.0 343.2,237.6 342.7,237.4 342.2,237.1 341.2,236.4 340.0,235.6 339.6,235.6 339.2,235.5 339.0,235.5 338.4,235.4 337.2,236.3 337.1,236.4 336.5,236.9 335.2,237.8 334.6,238.1 333.2,238.5 332.8,238.7 332.1,238.9 331.5,239.0 331.2,239.0 330.3,238.9 329.6,238.8 329.2,238.8 327.8,238.6 327.2,238.5 325.3,236.8 325.2,236.7 324.7,236.2 324.0,235.6 323.4,235.3 323.2,235.2 322.8,234.9 321.6,234.3 321.2,234.1 320.9,233.9 319.2,234.2 319.1,234.2 317.8,234.3 317.2,234.1 316.6,233.9 315.2,233.5 314.1,233.1 313.2,232.6 311.6,231.8 311.2,231.6 310.4,231.2 309.7,230.7 309.2,230.3 309.1,230.2 307.9,229.3 307.2,227.9 306.8,227.2 306.6,226.8 306.0,225.0 305.9,224.5 305.8,224.0 305.3,221.6 305.2,221.1 304.8,219.2 304.7,217.8 304.1,209.6 303.5,201.4 303.4,201.0 303.2,200.2 302.6,197.6 302.5,197.2 302.3,196.3 302.2,197.1 302.0,198.7 301.6,201.8 301.2,205.0 301.0,206.6 300.4,210.6 300.3,211.3 299.3,217.4 299.2,218.0 299.1,218.2 298.5,219.6 298.1,220.5 297.9,220.9 297.3,222.3 297.2,222.5 296.7,223.6 296.0,224.3 295.4,224.8 295.2,225.0 294.8,225.4 293.6,226.0 293.2,226.2 292.9,226.4 292.3,226.7 291.7,225.8 291.2,225.0 290.4,223.8 289.8,222.9 289.2,222.3 288.6,221.7 287.9,221.5 287.2,221.3 286.7,221.1 286.6,221.0 285.2,219.6 284.8,219.2 284.2,218.6 283.2,216.9 282.9,216.4 282.4,215.5 281.7,216.5 281.2,217.3 281.0,217.6 280.5,218.3 280.4,218.5 279.9,219.2 279.2,221.5 279.0,222.2 278.4,224.2 278.2,224.9 277.9,225.8 277.3,227.8 277.2,228.1 277.1,228.4 276.5,230.4 275.3,234.9 275.2,235.3 274.7,237.2 274.0,237.4 273.4,237.6 273.2,237.6 272.8,237.7 272.2,237.9 271.2,238.1 270.9,238.2 269.7,238.5 269.2,238.6 268.4,238.8 267.2,239.1 266.6,239.2 265.2,239.5 264.7,239.6 263.5,239.8 263.2,239.9 262.2,240.1 261.6,240.3 261.2,240.4 259.7,240.8 259.2,240.9 257.9,241.2 257.2,241.4 256.0,241.5 255.2,241.5 254.7,241.6 254.1,241.6 253.2,241.7 252.2,241.7 251.2,241.8 251.0,241.8 249.8,241.7 249.2,241.7 247.3,241.6 247.2,241.6 246.0,241.0 245.2,240.7 244.8,240.5 243.8,240.1 243.5,240.0 243.2,239.8 243.1,239.8 242.9,237.2 242.8,236.0 242.1,227.0 241.4,218.0 241.2,215.5 240.8,210.3 240.5,206.5 240.4,205.2 240.0,200.1 239.8,202.3 239.7,203.5 239.3,208.0 239.2,209.1 238.5,217.0 237.6,227.1 237.2,231.6 237.0,233.9 236.7,237.2 236.5,239.5 236.4,240.6 236.3,240.6 236.1,240.6 235.6,240.6 235.2,240.7 235.1,240.7 233.6,240.8 233.2,240.8 231.2,240.9 231.1,240.9 229.8,241.0 229.2,241.0 227.4,240.8 227.2,240.8 225.2,240.6 224.9,240.6 223.2,240.2 223.0,240.2 221.2,239.7 221.1,239.7 219.9,239.9 219.3,240.0 219.2,240.0 217.4,240.4 217.2,240.4 216.2,240.6 215.2,240.7 214.3,240.8 213.7,240.8 213.2,240.8 212.4,240.9 211.2,241.0 210.6,241.1 209.3,241.4 209.2,241.5 207.4,241.7 207.2,241.7 206.2,241.7 205.2,241.8 205.0,241.8 204.3,241.6 203.7,241.2 203.2,240.7 202.5,239.9 201.2,238.4 200.6,237.6 199.2,235.7 198.7,235.0 198.5,234.7 197.2,236.3 196.9,236.7 196.0,237.8 195.4,238.5 195.2,238.8 195.0,239.0 193.5,240.4 193.2,240.6 193.0,240.6 191.7,240.9 191.2,240.9 189.8,241.0 189.2,241.0 187.9,241.1 187.2,241.1 186.7,241.1 186.1,241.0 185.2,240.9 184.2,240.8 183.6,240.7 183.2,240.7 181.7,240.5 181.2,240.3 181.1,240.2 179.2,238.1 177.3,239.8 177.2,239.9 176.7,240.1 175.5,240.5 175.2,240.2 174.2,239.2 173.6,238.6 173.2,238.2 173.0,238.0 172.4,236.2 171.7,233.2 171.5,232.2 171.2,230.7 171.1,230.2 170.5,227.3 169.9,226.1 169.2,224.8 168.0,228.2 167.4,229.9 167.2,230.5 166.8,231.6 165.5,233.2 165.2,233.6 164.9,234.0 164.3,234.8 163.2,236.1 163.0,236.4 161.8,235.7 161.2,235.3 160.5,234.8 159.9,234.5 159.3,234.1 159.2,234.1 158.3,233.7 158.0,233.6 157.2,233.3 156.8,233.1 156.6,233.1 155.3,233.4 155.2,233.4 154.9,233.5 153.3,233.9 153.2,233.9 153.1,233.9 151.8,233.6 151.6,233.6 151.2,233.5 150.0,233.3 149.2,233.1 148.1,232.9 147.2,231.6 146.2,230.2 145.6,229.4 145.2,229.4 144.6,229.5 143.2,229.7 143.1,229.7 141.9,229.8 141.2,229.5 139.4,228.9 139.2,228.8 138.1,228.4 137.2,228.0 136.9,227.9 135.6,226.9 135.2,226.6 135.0,226.4 134.4,227.2 133.2,228.8 132.5,229.8 131.9,229.9 131.3,230.0 131.2,230.1 129.4,230.4 129.2,230.3 128.2,229.8 127.2,229.3 125.7,228.6 125.2,228.3 124.4,227.9 123.2,226.4 123.0,226.1 122.0,224.8 121.7,222.1 121.5,220.3 121.2,217.5 121.0,215.7 120.7,213.0 120.5,212.3 120.1,210.8 119.8,209.7 119.5,208.6 119.2,209.7 118.7,211.5 118.4,212.6 117.6,215.5 117.3,216.0 117.2,216.1 117.0,216.4 116.8,216.7 115.9,218.1 115.2,219.2Z" fill="#9370db"/>
<path d="M115.2,145.0 115.9,93.7 116.8,65.9 117.0,56.3 117.2,46.8 117.3,42.0 117.6,40.5 118.4,40.5 118.7,42.0 119.2,52.9 119.5,59.4 119.8,65.9 120.1,70.8 120.5,77.3 120.7,80.6 121.0,85.5 121.2,88.8 121.5,93.7 121.7,101.2 122.0,112.4 123.0,149.7 123.2,165.5 124.4,166.0 125.2,166.4 125.7,166.7 127.2,170.1 128.2,172.3 129.2,174.5 129.4,174.9 131.2,178.9 131.3,179.1 131.9,177.0 132.5,174.8 133.2,172.3 134.4,168.5 135.0,167.9 135.2,167.7 135.6,167.3 136.9,166.0 137.2,166.2 138.1,166.9 139.2,167.7 139.4,167.9 141.2,172.9 141.9,175.2 143.1,179.1 143.2,179.3 144.6,181.6 145.2,180.1 145.6,179.1 146.2,177.6 147.2,179.1 148.1,180.4 149.2,184.0 150.0,186.6 151.2,190.3 151.6,191.6 151.8,190.7 153.1,185.0 153.2,184.5 153.3,184.1 154.9,187.1 155.2,187.6 155.3,187.8 156.6,189.1 156.8,189.1 157.2,189.1 158.0,189.1 158.3,189.1 159.2,193.3 159.3,193.7 159.9,196.5 160.5,198.1 161.2,200.0 161.8,197.2 163.0,191.6 163.2,190.8 164.3,186.5 164.9,184.1 165.2,183.7 165.5,183.4 166.8,181.7 167.2,181.2 167.4,181.0 168.0,182.4 169.2,185.3 169.9,189.0 170.5,192.1 171.1,195.3 171.2,198.5 171.5,208.0 171.7,210.0 172.4,216.9 173.0,222.9 173.2,223.7 173.6,225.4 174.2,227.9 175.2,226.9 175.5,226.6 176.7,224.1 177.2,223.1 177.3,222.9 179.2,220.2 181.1,223.5 181.2,223.7 181.7,224.6 183.2,227.2 183.6,227.9 184.2,228.8 185.2,230.3 186.1,231.6 186.7,231.4 187.2,231.2 187.9,231.0 189.2,231.8 189.8,232.2 191.2,231.8 191.7,231.6 193.0,228.0 193.2,227.4 193.5,226.6 195.0,220.8 195.2,220.0 195.4,219.2 196.0,216.2 196.9,211.7 197.2,211.3 198.5,209.5 198.7,209.2 199.2,209.4 200.6,209.8 201.2,211.2 202.5,214.2 203.2,215.9 203.7,217.1 204.3,218.5 205.0,218.3 205.2,218.2 206.2,217.9 207.2,217.4 207.4,217.3 209.2,219.1 209.3,219.2 210.6,220.4 211.2,220.4 212.4,220.4 213.2,220.7 213.7,220.8 214.3,221.0 215.2,221.9 216.2,222.9 217.2,223.9 217.4,224.1 219.2,219.5 219.3,219.2 219.9,217.5 221.1,214.2 221.2,214.4 223.0,217.9 223.2,218.5 224.9,223.5 225.2,223.9 227.2,226.9 227.4,227.2 229.2,230.4 229.8,230.3 231.1,230.1 231.2,230.1 233.2,229.5 233.6,229.4 235.1,229.1 235.2,229.1 235.6,228.9 236.1,228.7 236.3,228.6 236.4,228.5 236.5,228.5 236.7,217.0 237.0,199.8 237.2,189.4 237.6,168.7 238.5,166.3 239.2,163.9 239.3,163.5 239.7,162.2 239.8,161.8 240.0,161.1 240.4,159.7 240.5,159.4 240.8,160.1 241.2,161.1 241.4,161.6 242.1,181.9 242.8,197.6 242.9,199.8 243.1,206.7 243.2,210.1 243.5,220.5 243.8,220.9 244.8,222.3 245.2,222.6 246.0,223.2 247.2,224.0 247.3,224.1 249.2,226.2 249.8,226.9 251.0,226.7 251.2,226.6 252.2,226.4 253.2,226.7 254.1,226.9 254.7,226.2 255.2,225.7 256.0,224.8 257.2,221.3 257.9,219.2 259.2,216.5 259.7,215.4 261.2,214.0 261.6,213.6 262.2,215.0 263.2,217.2 263.5,217.9 264.7,219.8 265.2,218.0 266.6,212.9 267.2,214.2 268.4,216.7 269.2,218.6 269.7,219.8 270.9,217.9 271.2,217.9 272.2,217.9 272.8,217.9 273.2,218.5 273.4,218.8 274.0,219.8 274.7,214.1 275.2,210.0 275.3,209.2 276.5,205.9 277.1,204.2 277.2,203.4 277.3,202.6 277.9,197.8 278.2,196.2 278.4,195.1 279.0,192.0 279.2,190.9 279.9,189.1 280.4,187.8 280.5,187.8 281.0,187.8 281.2,187.7 281.7,187.7 282.4,187.6 282.9,187.6 283.2,187.9 284.2,189.0 284.8,189.7 285.2,190.7 286.6,194.0 286.7,194.1 287.2,194.9 287.9,195.9 288.6,196.6 289.2,197.2 289.8,197.8 290.4,199.9 291.2,200.5 291.7,200.8 292.3,201.3 292.9,201.7 293.2,201.4 293.6,201.0 294.8,199.8 295.2,199.4 295.4,199.2 296.0,198.6 296.7,198.0 297.2,197.8 297.3,197.8 297.9,192.2 298.1,190.3 298.5,184.8 299.1,176.6 299.2,175.4 299.3,174.1 300.3,161.7 300.4,161.1 301.0,157.6 301.2,156.4 301.6,154.0 302.0,152.8 302.2,153.1 302.3,153.2 302.5,153.5 302.6,154.3 303.2,158.9 303.4,160.4 303.5,161.4 304.1,167.1 304.7,172.9 304.8,174.1 305.2,179.1 305.3,180.4 305.8,186.6 305.9,187.8 306.0,188.9 306.6,195.6 306.8,197.8 307.2,200.6 307.9,205.5 309.1,211.3 309.2,211.8 309.7,214.2 310.4,216.3 311.2,218.6 311.6,219.8 313.2,220.6 314.1,221.0 315.2,222.4 316.6,224.1 317.2,224.1 317.8,224.1 319.1,224.1 319.2,224.0 320.9,221.9 321.2,221.5 321.6,221.0 322.8,220.6 323.2,220.5 323.4,220.4 324.0,221.2 324.7,222.1 325.2,222.8 325.3,222.9 327.2,226.6 327.8,227.1 329.2,228.2 329.6,228.5 330.3,229.0 331.2,229.7 331.5,229.9 332.1,230.4 332.8,229.9 333.2,229.6 334.6,228.5 335.2,227.8 336.5,226.1 337.1,225.4 337.2,225.3 338.4,223.8 339.0,223.0 339.2,222.8 339.6,222.3 340.0,222.0 341.2,221.1 342.2,220.3 342.7,220.7 343.2,221.1 344.5,222.1 345.2,222.2 345.4,222.3 346.7,222.5 347.2,222.3 349.0,221.6 349.2,221.8 350.2,222.9 351.2,223.9 351.6,224.3 353.2,225.9 353.4,226.1 354.3,226.1 355.2,226.1 355.7,226.1 357.2,225.2 357.7,224.9 357.9,224.8 358.8,223.9 359.2,223.4 360.1,222.5 360.6,222.3 361.2,222.1 361.5,222.0 362.4,221.6 363.2,221.3 363.3,221.2 364.2,220.9 364.6,220.7 365.2,219.7 366.0,218.5 366.8,217.2 367.2,216.9 368.6,215.8 369.2,215.9 369.5,216.0 370.4,216.2 370.9,216.3 371.2,215.9 371.3,215.8 372.2,214.6 372.7,214.0 373.2,213.2 374.0,211.8 374.9,210.6 375.2,210.2 375.8,209.3 375.9,209.2 377.2,207.1 377.6,206.4 377.8,206.1 378.6,203.7 379.2,202.0 379.4,201.4 379.7,200.5 380.7,198.0 381.2,193.2 381.4,191.3 381.5,190.3 382.0,186.0 382.2,184.3 382.8,179.1 383.1,169.7 383.2,166.6 383.4,160.4 383.7,154.2 384.0,148.0 384.9,134.9 385.2,130.6 385.3,129.1 385.4,128.2 386.5,118.5 387.1,119.1 387.2,119.2 387.8,119.8 389.2,121.2 389.4,121.4 389.6,121.6 389.9,125.7 390.0,127.1 390.6,135.3 390.9,147.8 391.1,152.0 391.2,154.1 391.5,160.4 391.7,164.6 391.9,168.7 392.1,172.9 392.5,177.9 392.9,182.8 393.1,185.3 393.2,186.7 393.4,189.5 394.0,197.8 394.4,205.5 394.6,207.7 395.1,213.1 395.2,214.2 396.5,219.2 397.1,219.8 397.2,219.9 398.3,221.0 399.2,220.9 399.6,220.8 400.8,220.7 401.2,220.3 403.2,218.0 403.3,217.9 403.9,216.7 404.6,215.3 405.2,214.1 405.8,212.9 407.0,210.6 407.2,210.2 407.7,209.2 408.0,208.6 408.3,209.2 409.2,211.1 409.5,211.7 410.2,212.6 410.8,213.4 411.2,213.9 411.4,214.2 413.2,216.6 413.3,216.7 414.5,220.4 415.2,222.0 415.8,223.4 416.4,224.8 417.2,225.8 418.2,227.0 418.9,227.9 419.2,227.7 421.2,226.7 421.4,226.6 422.0,226.2 423.2,225.3 423.9,224.8 425.2,223.4 425.7,222.9 426.3,222.3 427.2,221.9 429.2,221.1 429.5,221.0 430.7,220.1 431.2,219.7 431.9,219.2 433.2,217.9 434.4,216.7 435.2,216.5 435.7,216.3 436.9,216.0 437.2,215.4 438.8,212.3 439.2,210.9 439.4,210.2 440.0,208.0 440.9,199.0 441.0,198.0 441.2,193.8 441.3,191.7 441.6,185.3 442.2,172.9 442.5,166.7 442.6,165.1 443.2,155.8 443.5,151.1 443.7,148.0 443.9,145.5 444.5,137.9 444.8,134.1 444.9,132.8 445.2,128.4 445.5,124.1 447.2,118.9 447.4,118.2 447.5,117.9 447.7,117.3 448.0,116.4 448.7,121.5 448.9,122.9 449.2,126.6 449.3,127.9 449.9,135.3 450.5,147.8 450.6,149.3 450.9,153.7 451.2,158.2 452.0,170.0 452.4,172.7 453.2,178.2 453.6,181.0 453.9,184.0 454.9,194.0 455.0,195.0 455.2,196.5 455.7,200.4 456.3,205.0 456.6,207.6 457.2,212.8 457.4,211.4 458.3,205.0 458.7,202.1 459.2,198.5 459.4,197.0 459.9,193.4 460.5,189.0 460.9,187.4 461.2,186.3 462.4,181.6 463.2,175.0 463.6,171.7 464.2,166.7 464.3,166.3 464.9,164.2 465.2,163.1 465.5,162.0 466.1,159.8 466.8,157.2 467.0,156.5 467.2,157.3 468.0,160.5 468.8,163.8 469.2,165.4 469.9,169.1 471.1,175.4 471.2,175.7 472.4,179.0 472.9,180.4 473.0,180.4 473.2,180.3 473.6,180.2 475.2,179.8 475.4,179.7 476.0,179.1 476.1,179.0 477.2,178.0 477.3,177.9 478.0,177.3 478.5,176.9 478.9,176.6 479.2,178.6 479.8,182.7 480.0,184.1 480.8,188.7 481.2,191.0 481.3,191.6 482.3,197.8 482.9,202.2 483.2,203.9 483.6,206.2 484.2,209.6 485.2,213.8 485.4,214.6 486.0,217.1 487.2,220.7 487.3,220.9 487.9,221.6 489.2,223.3 489.8,224.0 491.0,225.2 491.2,225.4 492.3,226.5 493.2,226.9 493.5,227.0 494.8,227.5 495.2,227.5 496.0,227.5 497.2,227.5 498.5,227.5 499.2,227.5 499.7,227.6 501.0,227.6 501.2,227.6 502.2,227.7 503.2,227.5 503.5,227.4 504.7,227.2 505.2,227.1 505.3,227.1 506.0,223.7 507.0,218.9 507.2,217.9 507.8,215.8 508.0,215.0 509.1,211.1 509.2,210.9 509.7,209.8 510.7,207.7 510.9,207.3 511.2,207.7 511.3,207.9 512.2,209.2 512.8,211.6 513.2,213.1 513.4,213.9 514.0,216.3 514.1,216.7 514.4,217.2 515.2,218.6 515.9,219.8 516.2,219.6 517.0,219.0 517.2,218.9 517.8,218.5 519.0,216.9 519.2,216.7 519.7,216.0 520.7,212.9 520.9,212.3 521.2,211.3 521.5,210.4 523.0,201.7 523.2,200.5 523.8,197.0 525.0,208.5 525.1,209.4 525.2,210.4 525.9,213.3 526.7,216.7 527.2,217.4 527.4,217.7 528.0,218.6 528.3,219.0 529.2,217.0 529.5,216.4 529.6,216.2 530.5,213.7 531.1,209.2 531.2,208.4 531.5,205.9 531.7,204.2 532.0,197.8 533.1,188.1 533.2,187.2 534.1,189.0 534.2,189.2 535.2,191.2 535.4,191.6 535.6,192.6 536.0,194.5 536.3,195.9 536.7,197.8 537.2,200.5 537.8,203.7 537.9,204.2 538.6,206.5 539.2,208.4 539.3,208.8 539.5,209.4 539.8,210.4 541.0,213.6 541.2,214.1 541.7,215.4 542.3,216.7 542.9,218.1 543.2,218.8 544.2,221.0 544.9,220.1 545.2,219.7 546.6,217.9 547.2,217.0 547.5,216.6 547.9,216.0 548.0,215.8 549.1,214.2 549.2,214.1 550.8,212.9 551.2,212.6 551.6,212.3 553.2,213.9 553.5,214.2 554.0,215.2 555.2,217.5 555.4,217.9 556.3,219.3 556.6,219.8 556.7,219.5 557.2,218.0 557.8,216.3 558.5,214.2 559.2,210.8 560.0,206.9 560.3,205.5 561.2,203.4 561.6,202.5 562.2,201.1 562.8,200.7 563.2,200.5 564.1,199.9 565.2,200.2 566.6,200.5 567.2,199.2 567.8,198.0 569.2,191.6 570.3,186.6 571.2,186.6 571.5,186.6 572.2,186.6 572.8,186.6 573.2,187.7 574.6,191.6 575.2,193.6 575.3,193.9 576.5,197.8 577.2,200.2 578.4,204.2 579.0,205.9 579.2,206.4 580.2,209.2 581.2,210.7 581.5,211.1 582.7,209.1 583.2,208.3 583.4,208.0 584.0,205.5 585.2,200.5 586.5,197.8 587.1,194.0 587.2,193.9 587.7,193.4 588.3,192.8 589.0,192.2 589.2,192.0 589.6,191.6 590.8,194.0 591.2,192.9 591.5,192.0 592.1,190.3 593.2,184.6 593.3,184.1 593.9,182.5 595.2,179.1 595.8,178.8 596.4,178.5 597.2,178.1 597.7,177.9 598.3,176.7 598.9,175.4 599.2,173.7 600.0,169.1 600.2,167.9 600.8,165.8 601.2,164.3 601.4,163.6 602.5,167.2 602.7,167.9 603.2,171.0 603.7,174.2 603.9,175.4 605.0,184.5 605.1,185.3 605.2,186.6 606.1,197.8 607.2,207.7 607.5,210.4 609.2,219.8 609.3,220.4 611.2,224.7 611.8,226.0 612.4,226.4 613.2,226.9 613.7,227.2 615.2,226.9 616.8,226.6 617.2,225.0 617.4,224.3 618.7,219.2 619.2,217.8 620.5,214.2 621.2,213.5 622.4,212.3 623.0,213.7 623.2,214.2 623.6,215.1 624.3,216.7 624.9,218.8 625.2,219.8 626.1,222.9 627.2,225.0 627.4,225.4 628.0,226.6 629.2,225.0 629.9,224.1 630.5,223.9 631.2,223.7 631.7,223.5 633.2,224.5 633.6,224.8 634.8,223.6 635.2,223.2 635.5,222.9 637.2,218.2 637.3,217.9 639.2,213.6 639.8,213.2 641.1,212.3 641.2,211.8 642.3,206.7 643.2,204.3 644.0,202.1 644.8,204.0 645.0,204.5 645.2,205.0 645.4,205.5 646.7,210.4 647.2,212.2 647.9,214.8 648.3,215.0 648.5,215.1 649.2,215.4 649.8,214.4 651.0,212.3 651.2,212.4 651.6,212.5 652.3,212.7 652.9,212.9 653.2,213.3 653.5,213.7 654.0,214.3 654.8,215.4 655.2,215.7 656.0,216.3 656.6,216.7 657.2,216.7 657.3,216.7 658.5,216.7 659.2,216.2 659.7,215.9 660.4,215.4 660.6,215.3 661.2,214.9 662.2,214.2 663.1,214.4 663.2,214.4 663.5,214.5 664.1,214.7 664.7,214.8 665.2,215.2 665.5,215.4 666.6,216.2 667.2,216.7 668.0,217.5 669.1,218.5 669.2,218.6 669.6,218.9 670.8,219.8 670.9,219.4 671.2,218.1 671.7,216.0 672.2,214.1 672.9,211.3 673.2,210.2 673.6,208.6 674.7,205.2 675.2,203.6 675.4,203.0 675.9,201.8 676.2,201.1 677.2,198.8 677.3,198.6 677.8,196.7 678.4,194.5 678.7,193.4 679.2,191.6 679.7,189.7 679.1,219.1 678.6,221.2 678.1,223.3 677.8,224.5 677.2,227.0 676.8,227.7 676.7,227.9 675.7,229.6 675.4,230.0 675.0,230.5 674.8,230.7 674.3,231.2 673.2,232.3 672.8,232.7 672.5,233.0 672.1,233.4 671.9,233.3 671.4,233.1 671.1,233.0 671.0,233.0 669.8,232.5 669.4,232.3 669.6,232.4 668.6,228.8 667.8,226.0 667.1,223.8 666.0,222.4 665.7,222.0 665.2,221.4 664.1,220.1 663.1,221.2 662.8,221.5 662.7,221.6 661.7,222.5 660.7,224.3 660.1,225.4 659.9,225.7 659.4,226.5 659.4,226.5 658.7,226.2 657.5,225.9 657.4,225.8 656.8,225.6 655.8,225.3 654.7,226.6 654.3,227.1 653.5,228.1 653.0,228.8 652.7,229.5 652.4,230.2 651.8,231.5 651.1,233.1 650.7,234.0 650.6,234.2 649.7,234.4 649.1,234.5 648.6,234.7 648.6,234.7 648.2,234.4 647.5,234.0 647.0,233.7 645.7,232.9 645.5,232.8 645.3,232.7 644.9,232.5 643.9,232.7 643.1,232.8 642.2,233.0 641.1,233.2 641.0,233.3 639.8,233.5 639.3,233.4 637.4,233.2 637.3,233.2 635.6,233.0 635.3,233.0 634.9,232.9 633.8,232.6 633.4,232.5 631.9,232.1 631.4,232.0 630.7,231.8 629.8,231.6 628.9,232.2 627.7,232.9 627.1,233.3 626.9,233.5 626.2,233.9 625.6,233.4 625.3,233.1 624.7,232.5 624.0,231.8 623.6,231.4 623.4,231.1 622.8,230.7 621.6,229.8 620.4,228.8 618.7,231.2 618.2,231.9 617.1,233.5 617.1,233.5 616.7,233.6 615.1,233.8 613.6,233.9 613.1,234.0 612.3,234.1 611.6,234.3 611.0,234.4 609.1,234.9 609.0,235.0 607.7,235.3 607.7,235.2 606.6,233.8 605.7,232.7 605.6,232.6 605.5,232.5 604.4,230.4 604.2,230.0 603.7,229.0 603.2,228.0 603.0,227.7 602.0,224.8 601.8,224.3 601.0,222.3 599.7,223.9 599.5,224.1 598.7,225.1 598.4,225.5 597.8,226.2 597.2,227.2 596.7,227.9 595.9,229.2 595.4,230.0 594.8,230.3 593.5,231.3 593.6,231.3 593.8,231.7 592.7,229.1 592.1,227.7 591.8,226.9 591.4,225.8 590.1,222.6 589.7,221.9 589.5,221.6 588.8,220.5 588.0,219.2 587.2,219.2 587.1,219.2 586.5,219.2 585.0,219.2 583.7,220.1 583.1,220.5 582.9,220.7 582.4,221.0 581.4,221.6 581.4,221.6 580.4,221.2 579.4,220.8 579.2,220.7 578.6,220.4 577.3,220.2 576.6,220.0 575.5,219.8 575.4,219.8 574.8,219.6 573.4,219.0 573.0,218.9 572.7,218.8 572.1,216.1 571.8,214.8 570.6,209.9 568.8,211.8 567.4,213.2 566.9,213.6 566.5,213.7 565.1,214.0 563.8,214.3 562.7,215.5 562.3,216.0 561.7,216.8 561.1,217.6 560.6,218.9 559.7,221.4 559.5,222.2 558.7,223.3 558.0,224.3 557.3,225.3 556.7,226.1 556.7,226.2 557.1,226.7 556.8,226.3 555.9,225.1 555.7,224.8 554.5,223.1 553.9,222.6 553.6,222.2 552.0,220.5 551.2,219.6 550.4,220.5 548.8,222.3 548.7,222.4 547.5,223.6 547.4,223.8 547.0,224.4 546.7,224.8 546.1,225.7 544.7,227.7 544.9,227.4 544.7,227.0 543.7,225.4 543.4,224.9 542.8,223.9 542.2,222.9 541.7,222.0 541.6,221.8 540.4,217.5 540.1,216.5 539.9,215.7 539.8,215.4 539.2,213.2 538.5,211.1 538.4,210.8 537.8,209.0 537.3,207.5 536.9,206.3 536.6,205.4 536.2,204.2 536.0,203.6 535.8,203.0 534.8,200.0 534.7,199.7 533.8,197.0 532.9,194.3 531.4,206.8 531.1,209.3 530.9,210.9 530.6,213.1 530.5,213.8 529.9,215.5 529.0,220.3 528.9,220.8 528.7,221.0 527.8,222.2 527.5,222.6 527.5,222.7 527.7,223.1 527.2,222.1 526.4,220.5 525.7,219.1 525.6,218.9 525.6,218.8 524.4,212.2 523.4,206.8 522.4,209.2 520.9,212.8 520.6,213.5 520.3,214.3 520.1,214.8 519.1,217.2 518.6,218.5 518.5,218.9 517.4,220.1 516.8,220.8 516.6,221.0 516.2,221.4 516.4,221.5 515.7,220.7 515.0,219.7 514.7,218.7 514.6,218.3 514.0,216.4 513.8,215.6 513.4,214.0 512.7,212.1 511.4,209.3 510.7,210.3 510.4,210.8 510.2,211.1 509.1,212.6 508.6,214.6 508.5,214.9 507.4,218.9 507.2,219.7 506.6,222.6 506.4,223.6 505.5,228.2 505.0,228.5 504.9,228.5 504.4,228.8 503.3,229.4 503.2,229.4 502.2,229.4 501.2,229.5 501.0,229.5 499.7,229.5 499.2,229.5 498.5,229.5 497.2,229.4 496.1,229.4 495.4,229.2 495.0,229.1 493.7,228.7 493.4,228.6 492.6,228.4 491.6,227.5 491.4,227.3 490.3,226.4 489.7,225.5 488.4,223.3 487.9,221.8 487.8,221.7 486.6,219.0 486.0,217.2 485.8,216.4 484.8,212.2 484.2,209.7 483.8,207.5 483.5,205.7 482.9,202.1 481.9,198.8 481.8,198.6 481.4,197.6 480.6,191.7 480.4,190.2 479.8,187.0 479.5,185.5 478.9,182.6 477.7,183.2 477.0,183.5 476.9,183.6 475.8,184.1 475.9,184.1 475.4,184.1 475.2,184.1 474.0,184.1 473.7,183.6 473.5,183.1 473.4,182.9 472.9,181.8 471.7,179.1 471.7,178.9 470.5,175.7 469.8,173.8 469.4,172.7 468.5,171.0 467.7,169.3 467.0,167.7 466.2,169.5 465.5,171.2 464.9,172.7 464.6,174.4 464.3,175.9 463.7,179.0 463.6,179.6 463.0,182.7 462.6,184.5 461.8,188.1 460.6,193.5 460.3,194.9 459.9,197.6 459.3,201.7 458.8,205.1 458.6,206.4 458.1,209.8 457.7,211.1 456.8,214.2 457.2,213.0 457.2,212.8 456.9,211.8 456.3,209.8 455.8,206.8 455.6,205.6 455.5,205.0 454.5,199.1 454.2,197.3 453.8,194.9 453.0,188.9 452.6,185.9 451.8,179.9 451.5,178.3 451.2,176.6 451.1,176.1 450.5,172.8 449.9,160.4 449.8,158.3 449.5,152.1 449.3,148.0 448.6,134.3 447.9,122.5 446.9,130.0 446.8,130.8 446.6,132.3 444.9,145.6 444.6,147.9 444.3,153.7 444.2,155.6 443.9,161.4 443.3,172.9 443.1,176.7 442.9,180.6 442.6,186.4 442.0,198.0 441.9,199.2 441.6,202.9 441.0,210.3 440.7,213.9 440.6,214.6 440.4,216.0 440.3,216.7 439.4,222.5 439.1,222.8 438.9,222.9 438.5,223.1 436.9,224.1 436.6,224.3 435.5,224.6 435.0,224.8 434.2,225.0 433.0,225.4 431.7,225.9 431.0,226.1 430.5,226.2 429.3,226.6 429.0,226.7 427.0,227.4 426.1,227.7 425.4,228.0 424.9,228.3 423.6,229.2 422.9,229.7 421.7,230.5 421.2,230.7 421.0,230.8 419.0,231.5 419.0,231.5 418.5,231.3 417.5,230.7 416.7,230.2 416.2,230.0 415.7,229.2 415.0,228.1 413.8,226.2 413.7,226.1 411.9,223.9 411.7,223.7 411.3,223.2 410.6,222.4 409.8,222.0 409.5,221.8 408.6,221.3 408.3,221.1 408.0,220.9 407.5,220.6 407.0,220.3 405.5,221.2 404.9,221.6 404.3,222.0 403.6,222.4 403.0,222.8 402.9,222.8 400.9,224.0 400.6,224.2 399.6,224.2 399.2,224.2 398.3,224.2 397.2,224.2 397.3,224.2 396.9,223.9 395.6,222.9 395.5,222.8 395.2,222.6 395.0,221.0 394.6,217.4 394.0,211.9 393.8,209.3 393.7,208.0 393.5,205.3 393.1,200.0 392.7,190.2 392.5,185.3 392.3,182.2 392.1,179.1 391.8,174.4 391.7,172.9 391.5,167.9 391.2,160.4 390.6,149.6 390.5,147.7 390.2,145.5 390.0,144.0 389.8,142.6 388.4,132.3 387.8,127.9 387.0,121.8 385.9,134.1 384.8,146.8 384.7,148.0 384.6,151.1 384.3,160.4 383.4,179.1 383.1,184.1 382.8,189.0 382.6,190.5 382.5,191.2 382.2,193.4 381.6,197.7 381.4,198.7 380.9,201.3 380.8,201.8 380.6,202.9 380.1,204.8 379.1,208.7 378.8,209.8 378.7,210.1 378.1,211.3 377.3,212.9 377.1,213.3 376.7,214.1 375.4,216.7 375.3,216.9 374.7,217.7 374.4,218.2 373.5,219.4 372.7,220.5 372.2,221.2 371.7,221.8 370.8,223.0 370.8,223.1 370.5,223.4 370.0,223.9 369.1,224.8 368.8,225.1 368.2,225.7 366.8,227.1 366.4,227.6 365.7,228.2 365.1,228.3 364.5,228.4 364.1,228.5 363.1,228.6 362.9,228.7 362.1,229.1 361.2,229.6 360.9,229.8 360.2,230.1 359.6,230.9 358.7,232.1 358.3,232.6 357.5,233.7 357.5,233.7 357.0,233.9 355.5,234.4 355.0,234.6 354.1,234.9 353.2,235.2 353.0,235.3 351.6,235.8 351.4,235.7 350.4,235.3 349.4,235.0 349.1,234.9 347.1,235.2 346.6,235.2 345.5,235.4 345.4,235.4 344.7,235.1 343.4,234.7 343.0,234.6 342.6,234.2 341.6,233.2 340.1,231.7 339.4,232.0 339.0,232.2 338.7,232.3 338.0,232.8 336.8,233.7 336.7,233.8 336.1,234.2 334.8,235.3 334.2,235.8 332.8,237.0 332.7,237.1 332.4,236.9 331.8,236.6 331.5,236.5 330.6,236.1 330.0,235.6 329.6,235.2 328.2,234.1 327.6,233.7 325.8,231.5 325.7,231.4 325.2,230.8 324.4,230.0 323.8,229.4 323.6,229.2 323.2,228.7 321.9,227.3 321.2,227.3 320.9,227.3 319.2,227.3 319.1,227.3 317.9,227.3 317.4,227.1 316.8,226.9 315.4,226.4 314.4,226.1 313.6,225.3 312.0,223.6 311.5,223.4 310.7,223.0 310.0,222.6 309.5,222.4 309.5,222.4 308.3,221.2 307.6,220.4 307.4,220.1 307.2,218.3 306.6,212.0 306.5,211.0 306.4,210.0 305.9,197.8 305.8,196.4 305.4,191.0 305.3,189.7 304.7,181.5 304.1,176.8 304.0,176.0 303.8,174.5 303.2,169.8 303.1,169.0 302.9,167.4 302.2,161.8 301.4,168.3 301.0,171.7 300.6,175.1 300.4,176.8 299.8,181.9 299.7,182.7 298.7,199.9 298.6,200.4 298.5,200.8 297.9,203.7 297.5,205.6 297.3,206.4 296.8,207.0 296.7,207.2 296.2,207.7 295.5,208.6 294.9,209.3 294.7,209.5 294.4,210.0 293.2,211.2 292.8,211.6 292.5,211.9 292.4,212.0 292.2,211.7 291.7,210.9 290.9,209.8 290.3,208.9 289.7,207.9 289.1,206.9 288.4,205.8 287.7,204.7 287.2,203.9 287.1,203.7 285.7,200.9 285.3,200.1 284.7,198.9 283.6,197.7 283.4,197.4 282.9,196.7 282.2,195.5 281.7,194.7 281.0,193.5 280.0,195.3 279.9,195.4 279.4,196.3 278.6,197.6 278.4,199.8 277.8,205.9 277.6,207.9 277.3,211.0 276.7,217.1 276.6,218.1 276.5,219.1 275.9,221.5 274.7,226.4 274.6,226.8 274.1,228.4 273.4,230.7 272.9,232.3 273.1,232.2 272.7,232.3 272.1,232.4 271.1,232.6 270.8,232.7 269.5,232.9 268.9,233.2 268.1,233.6 266.9,234.2 266.3,234.5 264.9,235.2 264.5,235.4 263.3,235.9 263.0,236.0 262.0,236.3 261.4,236.6 261.0,236.7 259.5,237.3 258.9,237.6 257.6,238.3 256.9,238.7 255.7,239.3 254.9,239.8 254.6,240.0 254.1,240.0 253.2,239.9 252.2,239.8 251.2,239.8 251.0,239.8 250.0,239.7 249.5,239.4 247.6,238.3 247.5,238.3 246.1,237.5 245.1,237.6 244.7,237.6 244.4,237.6 244.1,234.3 243.8,230.4 243.7,229.1 243.5,226.5 243.4,225.2 242.7,216.0 242.0,206.8 241.8,204.2 241.4,198.9 241.1,197.2 240.9,196.2 240.0,196.2 239.8,196.2 239.2,196.2 238.7,198.9 238.6,200.1 237.9,207.9 237.0,218.0 236.6,222.8 236.4,228.7 236.1,228.9 235.9,230.3 235.8,231.4 235.7,232.5 235.5,234.8 235.0,239.8 235.2,239.7 235.2,239.7 233.7,239.6 233.3,239.5 231.3,239.3 231.2,239.3 229.9,239.1 229.4,239.0 227.6,238.5 227.4,238.4 225.4,237.9 225.1,237.8 223.4,237.3 223.2,237.2 221.4,236.7 221.0,236.6 219.6,237.3 219.0,237.6 218.9,237.6 217.2,238.5 217.1,238.5 216.1,238.7 215.1,238.9 214.2,239.0 213.6,239.1 213.1,239.2 212.3,239.4 211.1,239.6 210.5,239.7 209.2,239.9 209.1,240.0 207.3,240.3 207.2,240.3 206.2,240.3 205.2,240.3 205.0,240.3 204.6,240.3 204.2,239.7 203.7,239.0 203.0,238.1 201.7,236.3 201.1,235.4 199.7,233.4 199.2,232.7 198.5,231.8 196.7,234.3 196.4,234.7 195.5,236.0 194.9,236.9 194.7,237.2 194.5,237.4 193.1,238.8 192.8,239.1 192.6,239.2 191.5,240.0 191.2,240.0 189.8,240.1 189.2,240.1 187.9,240.2 187.2,240.2 186.7,240.2 186.2,240.1 185.3,240.0 184.3,239.9 183.7,239.8 183.3,239.8 182.0,239.6 181.7,239.3 181.6,239.2 179.3,236.4 176.9,238.2 176.8,238.2 176.4,238.6 175.3,239.0 175.3,239.0 174.6,238.4 174.0,237.9 173.6,237.5 173.5,237.4 173.0,235.8 172.3,232.7 172.1,231.8 171.8,229.4 171.7,228.4 171.1,222.9 170.3,208.3 168.6,213.8 167.4,217.7 166.8,219.8 166.6,220.5 166.2,221.9 164.9,226.4 164.7,226.8 164.4,227.4 163.8,228.4 162.7,230.4 162.8,230.1 162.2,229.6 161.6,229.2 160.9,228.7 160.4,228.0 159.8,227.2 159.7,227.1 158.8,226.0 158.4,225.5 157.4,225.1 157.0,225.0 156.8,224.9 155.5,224.4 155.4,224.4 154.9,224.2 153.1,224.9 153.0,224.9 152.9,224.9 151.8,225.4 151.8,225.4 151.4,225.2 150.2,224.8 149.4,224.6 148.5,224.3 147.7,222.9 146.7,221.2 146.0,219.9 145.5,219.7 144.9,219.4 143.5,218.6 143.4,218.6 142.3,218.0 141.6,217.3 139.8,215.3 139.6,215.0 138.6,213.8 137.7,212.7 137.4,212.3 135.5,210.0 134.7,211.5 134.5,211.9 133.9,213.0 132.7,215.1 132.0,216.3 131.5,216.7 130.9,217.2 130.8,217.3 129.3,218.5 129.5,218.6 128.5,218.1 127.5,217.6 126.0,216.8 125.5,216.6 124.8,216.2 123.7,214.2 123.5,213.8 122.5,212.0 122.3,211.5 122.1,207.7 121.8,201.7 121.6,197.8 121.3,190.3 121.1,185.3 120.7,175.3 120.3,174.5 120.0,173.9 118.9,171.6 118.1,176.1 117.8,177.7 117.0,182.0 116.7,183.6 116.6,184.1 116.4,185.2 116.2,186.1 115.3,190.5 115.2,193.9Z" fill="#000000"/>
<path d="M115.2,193.9 115.3,190.5 116.2,186.1 116.4,185.2 116.6,184.1 116.7,183.6 117.0,182.0 117.8,177.7 118.1,176.1 118.9,171.6 120.0,173.9 120.3,174.5 120.7,175.3 121.1,185.3 121.3,190.3 121.6,197.8 121.8,201.7 122.1,207.7 122.3,211.5 122.5,212.0 123.5,213.8 123.7,214.2 124.8,216.2 125.5,216.6 126.0,216.8 127.5,217.6 128.5,218.1 129.5,218.6 129.3,218.5 130.8,217.3 130.9,217.2 131.5,216.7 132.0,216.3 132.7,215.1 133.9,213.0 134.5,211.9 134.7,211.5 135.5,210.0 137.4,212.3 137.7,212.7 138.6,213.8 139.6,215.0 139.8,215.3 141.6,217.3 142.3,218.0 143.4,218.6 143.5,218.6 144.9,219.4 145.5,219.7 146.0,219.9 146.7,221.2 147.7,222.9 148.5,224.3 149.4,224.6 150.2,224.8 151.4,225.2 151.8,225.4 151.8,225.4 152.9,224.9 153.0,224.9 153.1,224.9 154.9,224.2 155.4,224.4 155.5,224.4 156.8,224.9 157.0,225.0 157.4,225.1 158.4,225.5 158.8,226.0 159.7,227.1 159.8,227.2 160.4,228.0 160.9,228.7 161.6,229.2 162.2,229.6 162.8,230.1 162.7,230.4 163.8,228.4 164.4,227.4 164.7,226.8 164.9,226.4 166.2,221.9 166.6,220.5 166.8,219.8 167.4,217.7 168.6,213.8 170.3,208.3 171.1,222.9 171.7,228.4 171.8,229.4 172.1,231.8 172.3,232.7 173.0,235.8 173.5,237.4 173.6,237.5 174.0,237.9 174.6,238.4 175.3,239.0 175.3,239.0 176.4,238.6 176.8,238.2 176.9,238.2 179.3,236.4 181.6,239.2 181.7,239.3 182.0,239.6 183.3,239.8 183.7,239.8 184.3,239.9 185.3,240.0 186.2,240.1 186.7,240.2 187.2,240.2 187.9,240.2 189.2,240.1 189.8,240.1 191.2,240.0 191.5,240.0 192.6,239.2 192.8,239.1 193.1,238.8 194.5,237.4 194.7,237.2 194.9,236.9 195.5,236.0 196.4,234.7 196.7,234.3 198.5,231.8 199.2,232.7 199.7,233.4 201.1,235.4 201.7,236.3 203.0,238.1 203.7,239.0 204.2,239.7 204.6,240.3 205.0,240.3 205.2,240.3 206.2,240.3 207.2,240.3 207.3,240.3 209.1,240.0 209.2,239.9 210.5,239.7 211.1,239.6 212.3,239.4 213.1,239.2 213.6,239.1 214.2,239.0 215.1,238.9 216.1,238.7 217.1,238.5 217.2,238.5 218.9,237.6 219.0,237.6 219.6,237.3 221.0,236.6 221.4,236.7 223.2,237.2 223.4,237.3 225.1,237.8 225.4,237.9 227.4,238.4 227.6,238.5 229.4,239.0 229.9,239.1 231.2,239.3 231.3,239.3 233.3,239.5 233.7,239.6 235.2,239.7 235.2,239.7 235.0,239.8 235.5,234.8 235.7,232.5 235.8,231.4 235.9,230.3 236.1,228.9 236.4,228.7 236.6,222.8 237.0,218.0 237.9,207.9 238.6,200.1 238.7,198.9 239.2,196.2 239.8,196.2 240.0,196.2 240.9,196.2 241.1,197.2 241.4,198.9 241.8,204.2 242.0,206.8 242.7,216.0 243.4,225.2 243.5,226.5 243.7,229.1 243.8,230.4 244.1,234.3 244.4,237.6 244.7,237.6 245.1,237.6 246.1,237.5 247.5,238.3 247.6,238.3 249.5,239.4 250.0,239.7 251.0,239.8 251.2,239.8 252.2,239.8 253.2,239.9 254.1,240.0 254.6,240.0 254.9,239.8 255.7,239.3 256.9,238.7 257.6,238.3 258.9,237.6 259.5,237.3 261.0,236.7 261.4,236.6 262.0,236.3 263.0,236.0 263.3,235.9 264.5,235.4 264.9,235.2 266.3,234.5 266.9,234.2 268.1,233.6 268.9,233.2 269.5,232.9 270.8,232.7 271.1,232.6 272.1,232.4 272.7,232.3 273.1,232.2 272.9,232.3 273.4,230.7 274.1,228.4 274.6,226.8 274.7,226.4 275.9,221.5 276.5,219.1 276.6,218.1 276.7,217.1 277.3,211.0 277.6,207.9 277.8,205.9 278.4,199.8 278.6,197.6 279.4,196.3 279.9,195.4 280.0,195.3 281.0,193.5 281.7,194.7 282.2,195.5 282.9,196.7 283.4,197.4 283.6,197.7 284.7,198.9 285.3,200.1 285.7,200.9 287.1,203.7 287.2,203.9 287.7,204.7 288.4,205.8 289.1,206.9 289.7,207.9 290.3,208.9 290.9,209.8 291.7,210.9 292.2,211.7 292.4,212.0 292.5,211.9 292.8,211.6 293.2,211.2 294.4,210.0 294.7,209.5 294.9,209.3 295.5,208.6 296.2,207.7 296.7,207.2 296.8,207.0 297.3,206.4 297.5,205.6 297.9,203.7 298.5,200.8 298.6,200.4 298.7,199.9 299.7,182.7 299.8,181.9 300.4,176.8 300.6,175.1 301.0,171.7 301.4,168.3 302.2,161.8 302.9,167.4 303.1,169.0 303.2,169.8 303.8,174.5 304.0,176.0 304.1,176.8 304.7,181.5 305.3,189.7 305.4,191.0 305.8,196.4 305.9,197.8 306.4,210.0 306.5,211.0 306.6,212.0 307.2,218.3 307.4,220.1 307.6,220.4 308.3,221.2 309.5,222.4 309.5,222.4 310.0,222.6 310.7,223.0 311.5,223.4 312.0,223.6 313.6,225.3 314.4,226.1 315.4,226.4 316.8,226.9 317.4,227.1 317.9,227.3 319.1,227.3 319.2,227.3 320.9,227.3 321.2,227.3 321.9,227.3 323.2,228.7 323.6,229.2 323.8,229.4 324.4,230.0 325.2,230.8 325.7,231.4 325.8,231.5 327.6,233.7 328.2,234.1 329.6,235.2 330.0,235.6 330.6,236.1 331.5,236.5 331.8,236.6 332.4,236.9 332.7,237.1 332.8,237.0 334.2,235.8 334.8,235.3 336.1,234.2 336.7,233.8 336.8,233.7 338.0,232.8 338.7,232.3 339.0,232.2 339.4,232.0 340.1,231.7 341.6,233.2 342.6,234.2 343.0,234.6 343.4,234.7 344.7,235.1 345.4,235.4 345.5,235.4 346.6,235.2 347.1,235.2 349.1,234.9 349.4,235.0 350.4,235.3 351.4,235.7 351.6,235.8 353.0,235.3 353.2,235.2 354.1,234.9 355.0,234.6 355.5,234.4 357.0,233.9 357.5,233.7 357.5,233.7 358.3,232.6 358.7,232.1 359.6,230.9 360.2,230.1 360.9,229.8 361.2,229.6 362.1,229.1 362.9,228.7 363.1,228.6 364.1,228.5 364.5,228.4 365.1,228.3 365.7,228.2 366.4,227.6 366.8,227.1 368.2,225.7 368.8,225.1 369.1,224.8 370.0,223.9 370.5,223.4 370.8,223.1 370.8,223.0 371.7,221.8 372.2,221.2 372.7,220.5 373.5,219.4 374.4,218.2 374.7,217.7 375.3,216.9 375.4,216.7 376.7,214.1 377.1,213.3 377.3,212.9 378.1,211.3 378.7,210.1 378.8,209.8 379.1,208.7 380.1,204.8 380.6,202.9 380.8,201.8 380.9,201.3 381.4,198.7 381.6,197.7 382.2,193.4 382.5,191.2 382.6,190.5 382.8,189.0 383.1,184.1 383.4,179.1 384.3,160.4 384.6,151.1 384.7,148.0 384.8,146.8 385.9,134.1 387.0,121.8 387.8,127.9 388.4,132.3 389.8,142.6 390.0,144.0 390.2,145.5 390.5,147.7 390.6,149.6 391.2,160.4 391.5,167.9 391.7,172.9 391.8,174.4 392.1,179.1 392.3,182.2 392.5,185.3 392.7,190.2 393.1,200.0 393.5,205.3 393.7,208.0 393.8,209.3 394.0,211.9 394.6,217.4 395.0,221.0 395.2,222.6 395.5,222.8 395.6,222.9 396.9,223.9 397.3,224.2 397.2,224.2 398.3,224.2 399.2,224.2 399.6,224.2 400.6,224.2 400.9,224.0 402.9,222.8 403.0,222.8 403.6,222.4 404.3,222.0 404.9,221.6 405.5,221.2 407.0,220.3 407.5,220.6 408.0,220.9 408.3,221.1 408.6,221.3 409.5,221.8 409.8,222.0 410.6,222.4 411.3,223.2 411.7,223.7 411.9,223.9 413.7,226.1 413.8,226.2 415.0,228.1 415.7,229.2 416.2,230.0 416.7,230.2 417.5,230.7 418.5,231.3 419.0,231.5 419.0,231.5 421.0,230.8 421.2,230.7 421.7,230.5 422.9,229.7 423.6,229.2 424.9,228.3 425.4,228.0 426.1,227.7 427.0,227.4 429.0,226.7 429.3,226.6 430.5,226.2 431.0,226.1 431.7,225.9 433.0,225.4 434.2,225.0 435.0,224.8 435.5,224.6 436.6,224.3 436.9,224.1 438.5,223.1 438.9,222.9 439.1,222.8 439.4,222.5 440.3,216.7 440.4,216.0 440.6,214.6 440.7,213.9 441.0,210.3 441.6,202.9 441.9,199.2 442.0,198.0 442.6,186.4 442.9,180.6 443.1,176.7 443.3,172.9 443.9,161.4 444.2,155.6 444.3,153.7 444.6,147.9 444.9,145.6 446.6,132.3 446.8,130.8 446.9,130.0 447.9,122.5 448.6,134.3 449.3,148.0 449.5,152.1 449.8,158.3 449.9,160.4 450.5,172.8 451.1,176.1 451.2,176.6 451.5,178.3 451.8,179.9 452.6,185.9 453.0,188.9 453.8,194.9 454.2,197.3 454.5,199.1 455.5,205.0 455.6,205.6 455.8,206.8 456.3,209.8 456.9,211.8 457.2,212.8 457.2,213.0 456.8,214.2 457.7,211.1 458.1,209.8 458.6,206.4 458.8,205.1 459.3,201.7 459.9,197.6 460.3,194.9 460.6,193.5 461.8,188.1 462.6,184.5 463.0,182.7 463.6,179.6 463.7,179.0 464.3,175.9 464.6,174.4 464.9,172.7 465.5,171.2 466.2,169.5 467.0,167.7 467.7,169.3 468.5,171.0 469.4,172.7 469.8,173.8 470.5,175.7 471.7,178.9 471.7,179.1 472.9,181.8 473.4,182.9 473.5,183.1 473.7,183.6 474.0,184.1 475.2,184.1 475.4,184.1 475.9,184.1 475.8,184.1 476.9,183.6 477.0,183.5 477.7,183.2 478.9,182.6 479.5,185.5 479.8,187.0 480.4,190.2 480.6,191.7 481.4,197.6 481.8,198.6 481.9,198.8 482.9,202.1 483.5,205.7 483.8,207.5 484.2,209.7 484.8,212.2 485.8,216.4 486.0,217.2 486.6,219.0 487.8,221.7 487.9,221.8 488.4,223.3 489.7,225.5 490.3,226.4 491.4,227.3 491.6,227.5 492.6,228.4 493.4,228.6 493.7,228.7 495.0,229.1 495.4,229.2 496.1,229.4 497.2,229.4 498.5,229.5 499.2,229.5 499.7,229.5 501.0,229.5 501.2,229.5 502.2,229.4 503.2,229.4 503.3,229.4 504.4,228.8 504.9,228.5 505.0,228.5 505.5,228.2 506.4,223.6 506.6,222.6 507.2,219.7 507.4,218.9 508.5,214.9 508.6,214.6 509.1,212.6 510.2,211.1 510.4,210.8 510.7,210.3 511.4,209.3 512.7,212.1 513.4,214.0 513.8,215.6 514.0,216.4 514.6,218.3 514.7,218.7 515.0,219.7 515.7,220.7 516.4,221.5 516.2,221.4 516.6,221.0 516.8,220.8 517.4,220.1 518.5,218.9 518.6,218.5 519.1,217.2 520.1,214.8 520.3,214.3 520.6,213.5 520.9,212.8 522.4,209.2 523.4,206.8 524.4,212.2 525.6,218.8 525.6,218.9 525.7,219.1 526.4,220.5 527.2,222.1 527.7,223.1 527.5,222.7 527.5,222.6 527.8,222.2 528.7,221.0 528.9,220.8 529.0,220.3 529.9,215.5 530.5,213.8 530.6,213.1 530.9,210.9 531.1,209.3 531.4,206.8 532.9,194.3 533.8,197.0 534.7,199.7 534.8,200.0 535.8,203.0 536.0,203.6 536.2,204.2 536.6,205.4 536.9,206.3 537.3,207.5 537.8,209.0 538.4,210.8 538.5,211.1 539.2,213.2 539.8,215.4 539.9,215.7 540.1,216.5 540.4,217.5 541.6,221.8 541.7,222.0 542.2,222.9 542.8,223.9 543.4,224.9 543.7,225.4 544.7,227.0 544.9,227.4 544.7,227.7 546.1,225.7 546.7,224.8 547.0,224.4 547.4,223.8 547.5,223.6 548.7,222.4 548.8,222.3 550.4,220.5 551.2,219.6 552.0,220.5 553.6,222.2 553.9,222.6 554.5,223.1 555.7,224.8 555.9,225.1 556.8,226.3 557.1,226.7 556.7,226.2 556.7,226.1 557.3,225.3 558.0,224.3 558.7,223.3 559.5,222.2 559.7,221.4 560.6,218.9 561.1,217.6 561.7,216.8 562.3,216.0 562.7,215.5 563.8,214.3 565.1,214.0 566.5,213.7 566.9,213.6 567.4,213.2 568.8,211.8 570.6,209.9 571.8,214.8 572.1,216.1 572.7,218.8 573.0,218.9 573.4,219.0 574.8,219.6 575.4,219.8 575.5,219.8 576.6,220.0 577.3,220.2 578.6,220.4 579.2,220.7 579.4,220.8 580.4,221.2 581.4,221.6 581.4,221.6 582.4,221.0 582.9,220.7 583.1,220.5 583.7,220.1 585.0,219.2 586.5,219.2 587.1,219.2 587.2,219.2 588.0,219.2 588.8,220.5 589.5,221.6 589.7,221.9 590.1,222.6 591.4,225.8 591.8,226.9 592.1,227.7 592.7,229.1 593.8,231.7 593.6,231.3 593.5,231.3 594.8,230.3 595.4,230.0 595.9,229.2 596.7,227.9 597.2,227.2 597.8,226.2 598.4,225.5 598.7,225.1 599.5,224.1 599.7,223.9 601.0,222.3 601.8,224.3 602.0,224.8 603.0,227.7 603.2,228.0 603.7,229.0 604.2,230.0 604.4,230.4 605.5,232.5 605.6,232.6 605.7,232.7 606.6,233.8 607.7,235.2 607.7,235.3 609.0,235.0 609.1,234.9 611.0,234.4 611.6,234.3 612.3,234.1 613.1,234.0 613.6,233.9 615.1,233.8 616.7,233.6 617.1,233.5 617.1,233.5 618.2,231.9 618.7,231.2 620.4,228.8 621.6,229.8 622.8,230.7 623.4,231.1 623.6,231.4 624.0,231.8 624.7,232.5 625.3,233.1 625.6,233.4 626.2,233.9 626.9,233.5 627.1,233.3 627.7,232.9 628.9,232.2 629.8,231.6 630.7,231.8 631.4,232.0 631.9,232.1 633.4,232.5 633.8,232.6 634.9,232.9 635.3,233.0 635.6,233.0 637.3,233.2 637.4,233.2 639.3,233.4 639.8,233.5 641.0,233.3 641.1,233.2 642.2,233.0 643.1,232.8 643.9,232.7 644.9,232.5 645.3,232.7 645.5,232.8 645.7,232.9 647.0,233.7 647.5,234.0 648.2,234.4 648.6,234.7 648.6,234.7 649.1,234.5 649.7,234.4 650.6,234.2 650.7,234.0 651.1,233.1 651.8,231.5 652.4,230.2 652.7,229.5 653.0,228.8 653.5,228.1 654.3,227.1 654.7,226.6 655.8,225.3 656.8,225.6 657.4,225.8 657.5,225.9 658.7,226.2 659.4,226.5 659.4,226.5 659.9,225.7 660.1,225.4 660.7,224.3 661.7,222.5 662.7,221.6 662.8,221.5 663.1,221.2 664.1,220.1 665.2,221.4 665.7,222.0 666.0,222.4 667.1,223.8 667.8,226.0 668.6,228.8 669.6,232.4 669.4,232.3 669.8,232.5 671.0,233.0 671.1,233.0 671.4,233.1 671.9,233.3 672.1,233.4 672.5,233.0 672.8,232.7 673.2,232.3 674.3,231.2 674.8,230.7 675.0,230.5 675.4,230.0 675.7,229.6 676.7,227.9 676.8,227.7 677.2,227.0 677.8,224.5 678.1,223.3 678.6,221.2 679.1,219.1" fill="none" stroke="#000" stroke-width="1.2" stroke-linejoin="round"/>
</g>
<rect x="87.5" y="30.4" width="620.0" height="224.9" fill="none" stroke="#000" stroke-width="1.11"/>
<line x1="82.64" y1="245.30" x2="87.5" y2="245.30" stroke="#000" stroke-width="1.11"/>
<g font-size="14.31" fill="#000"><text x="69.26" y="251.40" textLength="8.13" lengthAdjust="spacingAndGlyphs">0</text></g>
<line x1="82.64" y1="196.30" x2="87.5" y2="196.30" stroke="#000" stroke-width="1.11"/>
<g font-size="14.31" fill="#000"><text x="60.37" y="202.40" textLength="7.90" lengthAdjust="spacingAndGlyphs">2</text><text x="69.26" y="202.40" textLength="8.13" lengthAdjust="spacingAndGlyphs">0</text></g>
<line x1="82.64" y1="147.30" x2="87.5" y2="147.30" stroke="#000" stroke-width="1.11"/>
<g font-size="14.31" fill="#000"><text x="60.51" y="153.40" textLength="8.03" lengthAdjust="spacingAndGlyphs">4</text><text x="69.26" y="153.40" textLength="8.13" lengthAdjust="spacingAndGlyphs">0</text></g>
<line x1="82.64" y1="98.30" x2="87.5" y2="98.30" stroke="#000" stroke-width="1.11"/>
<g font-size="14.31" fill="#000"><text x="60.32" y="104.40" textLength="8.39" lengthAdjust="spacingAndGlyphs">6</text><text x="69.26" y="104.40" textLength="8.13" lengthAdjust="spacingAndGlyphs">0</text></g>
<line x1="82.64" y1="49.30" x2="87.5" y2="49.30" stroke="#000" stroke-width="1.11"/>
<g font-size="14.31" fill="#000"><text x="60.42" y="55.40" textLength="8.21" lengthAdjust="spacingAndGlyphs">8</text><text x="69.26" y="55.40" textLength="8.13" lengthAdjust="spacingAndGlyphs">0</text></g>
<line x1="96.50" y1="255.3" x2="96.50" y2="260.60" stroke="#000" stroke-width="1.11"/>
<g transform="translate(94.50,275.50) rotate(-30)"><g font-size="14.31" fill="#000"><text x="-90.97" y="0.00" textLength="7.73" lengthAdjust="spacingAndGlyphs">3</text><text x="-82.20" y="0.00" textLength="7.73" lengthAdjust="spacingAndGlyphs">1</text><text x="-73.83" y="0.00" textLength="5.00" lengthAdjust="spacingAndGlyphs">-</text><text x="-68.63" y="0.00" textLength="11.57" lengthAdjust="spacingAndGlyphs">M</text><text x="-56.52" y="0.00" textLength="6.98" lengthAdjust="spacingAndGlyphs">a</text><text x="-47.92" y="0.00" textLength="7.36" lengthAdjust="spacingAndGlyphs">y</text><text x="-40.10" y="0.00" textLength="5.00" lengthAdjust="spacingAndGlyphs">-</text><text x="-35.09" y="0.00" textLength="7.90" lengthAdjust="spacingAndGlyphs">2</text><text x="-26.19" y="0.00" textLength="8.13" lengthAdjust="spacingAndGlyphs">0</text><text x="-17.19" y="0.00" textLength="7.73" lengthAdjust="spacingAndGlyphs">1</text><text x="-8.53" y="0.00" textLength="8.21" lengthAdjust="spacingAndGlyphs">8</text></g></g>
<line x1="153.50" y1="255.3" x2="153.50" y2="260.60" stroke="#000" stroke-width="1.11"/>
<g transform="translate(151.50,275.50) rotate(-30)"><g font-size="14.31" fill="#000"><text x="-85.21" y="0.00" textLength="8.13" lengthAdjust="spacingAndGlyphs">0</text><text x="-76.13" y="0.00" textLength="7.73" lengthAdjust="spacingAndGlyphs">3</text><text x="-67.83" y="0.00" textLength="5.00" lengthAdjust="spacingAndGlyphs">-</text><text x="-64.51" y="0.00" textLength="6.08" lengthAdjust="spacingAndGlyphs">J</text><text x="-57.77" y="0.00" textLength="8.36" lengthAdjust="spacingAndGlyphs">u</text><text x="-48.88" y="0.00" textLength="8.26" lengthAdjust="spacingAndGlyphs">n</text><text x="-40.34" y="0.00" textLength="5.00" lengthAdjust="spacingAndGlyphs">-</text><text x="-35.09" y="0.00" textLength="7.90" lengthAdjust="spacingAndGlyphs">2</text><text x="-26.19" y="0.00" textLength="8.13" lengthAdjust="spacingAndGlyphs">0</text><text x="-17.19" y="0.00" textLength="7.73" lengthAdjust="spacingAndGlyphs">1</text><text x="-8.53" y="0.00" textLength="8.21" lengthAdjust="spacingAndGlyphs">8</text></g></g>
<line x1="210.50" y1="255.3" x2="210.50" y2="260.60" stroke="#000" stroke-width="1.11"/>
<g transform="translate(208.50,275.50) rotate(-30)"><g font-size="14.31" fill="#000"><text x="-85.21" y="0.00" textLength="8.13" lengthAdjust="spacingAndGlyphs">0</text><text x="-76.47" y="0.00" textLength="8.39" lengthAdjust="spacingAndGlyphs">6</text><text x="-67.83" y="0.00" textLength="5.00" lengthAdjust="spacingAndGlyphs">-</text><text x="-64.51" y="0.00" textLength="6.08" lengthAdjust="spacingAndGlyphs">J</text><text x="-57.77" y="0.00" textLength="8.36" lengthAdjust="spacingAndGlyphs">u</text><text x="-48.88" y="0.00" textLength="8.26" lengthAdjust="spacingAndGlyphs">n</text><text x="-40.34" y="0.00" textLength="5.00" lengthAdjust="spacingAndGlyphs">-</text><text x="-35.09" y="0.00" textLength="7.90" lengthAdjust="spacingAndGlyphs">2</text><text x="-26.19" y="0.00" textLength="8.13" lengthAdjust="spacingAndGlyphs">0</text><text x="-17.19" y="0.00" textLength="7.73" lengthAdjust="spacingAndGlyphs">1</text><text x="-8.53" y="0.00" textLength="8.21" lengthAdjust="spacingAndGlyphs">8</text></g></g>
<line x1="266.50" y1="255.3" x2="266.50" y2="260.60" stroke="#000" stroke-width="1.11"/>
<g transform="translate(264.50,275.50) rotate(-30)"><g font-size="14.31" fill="#000"><text x="-85.21" y="0.00" textLength="8.13" lengthAdjust="spacingAndGlyphs">0</text><text x="-76.54" y="0.00" textLength="8.39" lengthAdjust="spacingAndGlyphs">9</text><text x="-67.83" y="0.00" textLength="5.00" lengthAdjust="spacingAndGlyphs">-</text><text x="-64.51" y="0.00" textLength="6.08" lengthAdjust="spacingAndGlyphs">J</text><text x="-57.77" y="0.00" textLength="8.36" lengthAdjust="spacingAndGlyphs">u</text><text x="-48.88" y="0.00" textLength="8.26" lengthAdjust="spacingAndGlyphs">n</text><text x="-40.34" y="0.00" textLength="5.00" lengthAdjust="spacingAndGlyphs">-</text><text x="-35.09" y="0.00" textLength="7.90" lengthAdjust="spacingAndGlyphs">2</text><text x="-26.19" y="0.00" textLength="8.13" lengthAdjust="spacingAndGlyphs">0</text><text x="-17.19" y="0.00" textLength="7.73" lengthAdjust="spacingAndGlyphs">1</text><text x="-8.53" y="0.00" textLength="8.21" lengthAdjust="spacingAndGlyphs">8</text></g></g>
<line x1="323.50" y1="255.3" x2="323.50" y2="260.60" stroke="#000" stroke-width="1.11"/>
<g transform="translate(321.50,275.50) rotate(-30)"><g font-size="14.31" fill="#000"><text x="-85.04" y="0.00" textLength="7.73" lengthAdjust="spacingAndGlyphs">1</text><text x="-76.43" y="0.00" textLength="7.90" lengthAdjust="spacingAndGlyphs">2</text><text x="-67.83" y="0.00" textLength="5.00" lengthAdjust="spacingAndGlyphs">-</text><text x="-64.51" y="0.00" textLength="6.08" lengthAdjust="spacingAndGlyphs">J</text><text x="-57.77" y="0.00" textLength="8.36" lengthAdjust="spacingAndGlyphs">u</text><text x="-48.88" y="0.00" textLength="8.26" lengthAdjust="spacingAndGlyphs">n</text><text x="-40.34" y="0.00" textLength="5.00" lengthAdjust="spacingAndGlyphs">-</text><text x="-35.09" y="0.00" textLength="7.90" lengthAdjust="spacingAndGlyphs">2</text><text x="-26.19" y="0.00" textLength="8.13" lengthAdjust="spacingAndGlyphs">0</text><text x="-17.19" y="0.00" textLength="7.73" lengthAdjust="spacingAndGlyphs">1</text><text x="-8.53" y="0.00" textLength="8.21" lengthAdjust="spacingAndGlyphs">8</text></g></g>
<line x1="379.50" y1="255.3" x2="379.50" y2="260.60" stroke="#000" stroke-width="1.11"/>
<g transform="translate(377.50,275.50) rotate(-30)"><g font-size="14.31" fill="#000"><text x="-85.04" y="0.00" textLength="7.73" lengthAdjust="spacingAndGlyphs">1</text><text x="-76.20" y="0.00" textLength="7.73" lengthAdjust="spacingAndGlyphs">5</text><text x="-67.83" y="0.00" textLength="5.00" lengthAdjust="spacingAndGlyphs">-</text><text x="-64.51" y="0.00" textLength="6.08" lengthAdjust="spacingAndGlyphs">J</text><text x="-57.77" y="0.00" textLength="8.36" lengthAdjust="spacingAndGlyphs">u</text><text x="-48.88" y="0.00" textLength="8.26" lengthAdjust="spacingAndGlyphs">n</text><text x="-40.34" y="0.00" textLength="5.00" lengthAdjust="spacingAndGlyphs">-</text><text x="-35.09" y="0.00" textLength="7.90" lengthAdjust="spacingAndGlyphs">2</text><text x="-26.19" y="0.00" textLength="8.13" lengthAdjust="spacingAndGlyphs">0</text><text x="-17.19" y="0.00" textLength="7.73" lengthAdjust="spacingAndGlyphs">1</text><text x="-8.53" y="0.00" textLength="8.21" lengthAdjust="spacingAndGlyphs">8</text></g></g>
<line x1="436.50" y1="255.3" x2="436.50" y2="260.60" stroke="#000" stroke-width="1.11"/>
<g transform="translate(434.50,275.50) rotate(-30)"><g font-size="14.31" fill="#000"><text x="-85.04" y="0.00" textLength="7.73" lengthAdjust="spacingAndGlyphs">1</text><text x="-76.38" y="0.00" textLength="8.21" lengthAdjust="spacingAndGlyphs">8</text><text x="-67.83" y="0.00" textLength="5.00" lengthAdjust="spacingAndGlyphs">-</text><text x="-64.51" y="0.00" textLength="6.08" lengthAdjust="spacingAndGlyphs">J</text><text x="-57.77" y="0.00" textLength="8.36" lengthAdjust="spacingAndGlyphs">u</text><text x="-48.88" y="0.00" textLength="8.26" lengthAdjust="spacingAndGlyphs">n</text><text x="-40.34" y="0.00" textLength="5.00" lengthAdjust="spacingAndGlyphs">-</text><text x="-35.09" y="0.00" textLength="7.90" lengthAdjust="spacingAndGlyphs">2</text><text x="-26.19" y="0.00" textLength="8.13" lengthAdjust="spacingAndGlyphs">0</text><text x="-17.19" y="0.00" textLength="7.73" lengthAdjust="spacingAndGlyphs">1</text><text x="-8.53" y="0.00" textLength="8.21" lengthAdjust="spacingAndGlyphs">8</text></g></g>
<line x1="493.50" y1="255.3" x2="493.50" y2="260.60" stroke="#000" stroke-width="1.11"/>
<g transform="translate(491.50,275.50) rotate(-30)"><g font-size="14.31" fill="#000"><text x="-85.27" y="0.00" textLength="7.90" lengthAdjust="spacingAndGlyphs">2</text><text x="-76.20" y="0.00" textLength="7.73" lengthAdjust="spacingAndGlyphs">1</text><text x="-67.83" y="0.00" textLength="5.00" lengthAdjust="spacingAndGlyphs">-</text><text x="-64.51" y="0.00" textLength="6.08" lengthAdjust="spacingAndGlyphs">J</text><text x="-57.77" y="0.00" textLength="8.36" lengthAdjust="spacingAndGlyphs">u</text><text x="-48.88" y="0.00" textLength="8.26" lengthAdjust="spacingAndGlyphs">n</text><text x="-40.34" y="0.00" textLength="5.00" lengthAdjust="spacingAndGlyphs">-</text><text x="-35.09" y="0.00" textLength="7.90" lengthAdjust="spacingAndGlyphs">2</text><text x="-26.19" y="0.00" textLength="8.13" lengthAdjust="spacingAndGlyphs">0</text><text x="-17.19" y="0.00" textLength="7.73" lengthAdjust="spacingAndGlyphs">1</text><text x="-8.53" y="0.00" textLength="8.21" lengthAdjust="spacingAndGlyphs">8</text></g></g>
<line x1="549.50" y1="255.3" x2="549.50" y2="260.60" stroke="#000" stroke-width="1.11"/>
<g transform="translate(547.50,275.50) rotate(-30)"><g font-size="14.31" fill="#000"><text x="-85.27" y="0.00" textLength="7.90" lengthAdjust="spacingAndGlyphs">2</text><text x="-76.28" y="0.00" textLength="8.03" lengthAdjust="spacingAndGlyphs">4</text><text x="-67.83" y="0.00" textLength="5.00" lengthAdjust="spacingAndGlyphs">-</text><text x="-64.51" y="0.00" textLength="6.08" lengthAdjust="spacingAndGlyphs">J</text><text x="-57.77" y="0.00" textLength="8.36" lengthAdjust="spacingAndGlyphs">u</text><text x="-48.88" y="0.00" textLength="8.26" lengthAdjust="spacingAndGlyphs">n</text><text x="-40.34" y="0.00" textLength="5.00" lengthAdjust="spacingAndGlyphs">-</text><text x="-35.09" y="0.00" textLength="7.90" lengthAdjust="spacingAndGlyphs">2</text><text x="-26.19" y="0.00" textLength="8.13" lengthAdjust="spacingAndGlyphs">0</text><text x="-17.19" y="0.00" textLength="7.73" lengthAdjust="spacingAndGlyphs">1</text><text x="-8.53" y="0.00" textLength="8.21" lengthAdjust="spacingAndGlyphs">8</text></g></g>
<line x1="606.50" y1="255.3" x2="606.50" y2="260.60" stroke="#000" stroke-width="1.11"/>
<g transform="translate(604.50,275.50) rotate(-30)"><g font-size="14.31" fill="#000"><text x="-85.27" y="0.00" textLength="7.90" lengthAdjust="spacingAndGlyphs">2</text><text x="-76.30" y="0.00" textLength="7.98" lengthAdjust="spacingAndGlyphs">7</text><text x="-67.83" y="0.00" textLength="5.00" lengthAdjust="spacingAndGlyphs">-</text><text x="-64.51" y="0.00" textLength="6.08" lengthAdjust="spacingAndGlyphs">J</text><text x="-57.77" y="0.00" textLength="8.36" lengthAdjust="spacingAndGlyphs">u</text><text x="-48.88" y="0.00" textLength="8.26" lengthAdjust="spacingAndGlyphs">n</text><text x="-40.34" y="0.00" textLength="5.00" lengthAdjust="spacingAndGlyphs">-</text><text x="-35.09" y="0.00" textLength="7.90" lengthAdjust="spacingAndGlyphs">2</text><text x="-26.19" y="0.00" textLength="8.13" lengthAdjust="spacingAndGlyphs">0</text><text x="-17.19" y="0.00" textLength="7.73" lengthAdjust="spacingAndGlyphs">1</text><text x="-8.53" y="0.00" textLength="8.21" lengthAdjust="spacingAndGlyphs">8</text></g></g>
<line x1="662.50" y1="255.3" x2="662.50" y2="260.60" stroke="#000" stroke-width="1.11"/>
<g transform="translate(660.50,275.50) rotate(-30)"><g font-size="14.31" fill="#000"><text x="-84.97" y="0.00" textLength="7.73" lengthAdjust="spacingAndGlyphs">3</text><text x="-76.37" y="0.00" textLength="8.13" lengthAdjust="spacingAndGlyphs">0</text><text x="-67.83" y="0.00" textLength="5.00" lengthAdjust="spacingAndGlyphs">-</text><text x="-64.51" y="0.00" textLength="6.08" lengthAdjust="spacingAndGlyphs">J</text><text x="-57.77" y="0.00" textLength="8.36" lengthAdjust="spacingAndGlyphs">u</text><text x="-48.88" y="0.00" textLength="8.26" lengthAdjust="spacingAndGlyphs">n</text><text x="-40.34" y="0.00" textLength="5.00" lengthAdjust="spacingAndGlyphs">-</text><text x="-35.09" y="0.00" textLength="7.90" lengthAdjust="spacingAndGlyphs">2</text><text x="-26.19" y="0.00" textLength="8.13" lengthAdjust="spacingAndGlyphs">0</text><text x="-17.19" y="0.00" textLength="7.73" lengthAdjust="spacingAndGlyphs">1</text><text x="-8.53" y="0.00" textLength="8.21" lengthAdjust="spacingAndGlyphs">8</text></g></g>
<g font-size="17.17" fill="#000"><text x="226.34" y="21.70" textLength="9.96" lengthAdjust="spacingAndGlyphs">S</text><text x="236.72" y="21.70" textLength="9.86" lengthAdjust="spacingAndGlyphs">o</text><text x="246.95" y="21.70" textLength="10.03" lengthAdjust="spacingAndGlyphs">u</text><text x="257.41" y="21.70" textLength="6.97" lengthAdjust="spacingAndGlyphs">r</text><text x="264.38" y="21.70" textLength="8.34" lengthAdjust="spacingAndGlyphs">c</text><text x="273.13" y="21.70" textLength="9.95" lengthAdjust="spacingAndGlyphs">e</text><text x="288.73" y="21.70" textLength="8.34" lengthAdjust="spacingAndGlyphs">c</text><text x="297.86" y="21.70" textLength="9.86" lengthAdjust="spacingAndGlyphs">o</text><text x="308.19" y="21.70" textLength="9.92" lengthAdjust="spacingAndGlyphs">n</text><text x="318.52" y="21.70" textLength="6.20" lengthAdjust="spacingAndGlyphs">t</text><text x="325.09" y="21.70" textLength="6.97" lengthAdjust="spacingAndGlyphs">r</text><text x="332.30" y="21.70" textLength="3.70" lengthAdjust="spacingAndGlyphs">i</text><text x="336.76" y="21.70" textLength="10.10" lengthAdjust="spacingAndGlyphs">b</text><text x="347.26" y="21.70" textLength="10.03" lengthAdjust="spacingAndGlyphs">u</text><text x="357.69" y="21.70" textLength="6.20" lengthAdjust="spacingAndGlyphs">t</text><text x="364.62" y="21.70" textLength="3.70" lengthAdjust="spacingAndGlyphs">i</text><text x="368.96" y="21.70" textLength="9.86" lengthAdjust="spacingAndGlyphs">o</text><text x="379.29" y="21.70" textLength="9.92" lengthAdjust="spacingAndGlyphs">n</text><text x="394.93" y="21.70" textLength="6.20" lengthAdjust="spacingAndGlyphs">t</text><text x="401.56" y="21.70" textLength="9.86" lengthAdjust="spacingAndGlyphs">o</text><text x="417.14" y="21.70" textLength="10.81" lengthAdjust="spacingAndGlyphs">B</text><text x="428.43" y="21.70" textLength="11.19" lengthAdjust="spacingAndGlyphs">C</text><text x="445.18" y="21.70" textLength="8.34" lengthAdjust="spacingAndGlyphs">c</text><text x="454.30" y="21.70" textLength="9.86" lengthAdjust="spacingAndGlyphs">o</text><text x="464.64" y="21.70" textLength="9.92" lengthAdjust="spacingAndGlyphs">n</text><text x="475.11" y="21.70" textLength="8.34" lengthAdjust="spacingAndGlyphs">c</text><text x="484.23" y="21.70" textLength="9.95" lengthAdjust="spacingAndGlyphs">e</text><text x="494.62" y="21.70" textLength="9.92" lengthAdjust="spacingAndGlyphs">n</text><text x="504.96" y="21.70" textLength="6.20" lengthAdjust="spacingAndGlyphs">t</text><text x="511.53" y="21.70" textLength="6.97" lengthAdjust="spacingAndGlyphs">r</text><text x="518.64" y="21.70" textLength="8.37" lengthAdjust="spacingAndGlyphs">a</text><text x="528.57" y="21.70" textLength="6.20" lengthAdjust="spacingAndGlyphs">t</text><text x="535.49" y="21.70" textLength="3.70" lengthAdjust="spacingAndGlyphs">i</text><text x="539.83" y="21.70" textLength="9.86" lengthAdjust="spacingAndGlyphs">o</text><text x="550.16" y="21.70" textLength="9.92" lengthAdjust="spacingAndGlyphs">n</text><text x="560.91" y="21.70" textLength="7.96" lengthAdjust="spacingAndGlyphs">s</text></g>
<g transform="translate(45.9,272.7) rotate(-90)"><g font-size="20.02" fill="#000"><text x="0.34" y="0.00" textLength="12.60" lengthAdjust="spacingAndGlyphs">B</text><text x="13.50" y="0.00" textLength="13.04" lengthAdjust="spacingAndGlyphs">C</text><text x="33.04" y="0.00" textLength="9.72" lengthAdjust="spacingAndGlyphs">c</text><text x="43.68" y="0.00" textLength="11.49" lengthAdjust="spacingAndGlyphs">o</text><text x="55.73" y="0.00" textLength="11.57" lengthAdjust="spacingAndGlyphs">n</text><text x="67.94" y="0.00" textLength="9.72" lengthAdjust="spacingAndGlyphs">c</text><text x="78.58" y="0.00" textLength="11.61" lengthAdjust="spacingAndGlyphs">e</text><text x="90.70" y="0.00" textLength="11.57" lengthAdjust="spacingAndGlyphs">n</text><text x="102.75" y="0.00" textLength="7.23" lengthAdjust="spacingAndGlyphs">t</text><text x="110.41" y="0.00" textLength="8.12" lengthAdjust="spacingAndGlyphs">r</text><text x="118.70" y="0.00" textLength="9.76" lengthAdjust="spacingAndGlyphs">a</text><text x="130.28" y="0.00" textLength="7.23" lengthAdjust="spacingAndGlyphs">t</text><text x="138.36" y="0.00" textLength="4.32" lengthAdjust="spacingAndGlyphs">i</text><text x="143.42" y="0.00" textLength="11.49" lengthAdjust="spacingAndGlyphs">o</text><text x="155.47" y="0.00" textLength="11.57" lengthAdjust="spacingAndGlyphs">n</text><text x="174.13" y="0.00" textLength="5.67" lengthAdjust="spacingAndGlyphs">(</text><text x="181.55" y="0.00" textLength="11.57" lengthAdjust="spacingAndGlyphs">n</text><text x="193.71" y="0.00" textLength="11.64" lengthAdjust="spacingAndGlyphs">g</text><text x="212.31" y="0.00" textLength="18.38" lengthAdjust="spacingAndGlyphs">m</text></g><g font-size="14.02" fill="#000"><text x="231.78" y="-7.00" textLength="10.32" lengthAdjust="spacingAndGlyphs">−</text><text x="243.18" y="-7.00" textLength="7.57" lengthAdjust="spacingAndGlyphs">3</text></g><g font-size="20.02" fill="#000"><text x="253.00" y="0.00" textLength="5.67" lengthAdjust="spacingAndGlyphs">)</text></g></g>
<rect x="87.50" y="345.6" width="77.80" height="47.30" fill="#c62a37"/>
<rect x="165.00" y="345.6" width="77.80" height="47.30" fill="#397cb4"/>
<rect x="242.50" y="345.6" width="77.80" height="47.30" fill="#6e8473"/>
<rect x="320.00" y="345.6" width="77.80" height="47.30" fill="#c96758"/>
<rect x="397.50" y="345.6" width="77.80" height="47.30" fill="#e6d130"/>
<rect x="475.00" y="345.6" width="77.80" height="47.30" fill="#f282bf"/>
<rect x="552.50" y="345.6" width="77.80" height="47.30" fill="#9370db"/>
<rect x="630.00" y="345.6" width="77.80" height="47.30" fill="#000000"/>
<g font-size="14.31" fill="#000"><text x="108.61" y="371.70" textLength="10.37" lengthAdjust="spacingAndGlyphs">D</text><text x="119.29" y="371.70" textLength="10.65" lengthAdjust="spacingAndGlyphs">O</text><text x="130.28" y="371.70" textLength="11.57" lengthAdjust="spacingAndGlyphs">M</text></g>
<g font-size="14.31" fill="#000"><text x="189.11" y="371.70" textLength="8.11" lengthAdjust="spacingAndGlyphs">E</text><text x="197.77" y="371.70" textLength="9.94" lengthAdjust="spacingAndGlyphs">N</text><text x="208.28" y="371.70" textLength="8.11" lengthAdjust="spacingAndGlyphs">E</text></g>
<g font-size="14.31" fill="#000"><text x="267.88" y="371.70" textLength="7.43" lengthAdjust="spacingAndGlyphs">F</text><text x="275.72" y="371.70" textLength="7.99" lengthAdjust="spacingAndGlyphs">L</text><text x="283.54" y="371.70" textLength="9.61" lengthAdjust="spacingAndGlyphs">R</text></g>
<g font-size="14.31" fill="#000"><text x="345.10" y="371.70" textLength="4.27" lengthAdjust="spacingAndGlyphs">I</text><text x="349.47" y="371.70" textLength="9.94" lengthAdjust="spacingAndGlyphs">N</text><text x="359.82" y="371.70" textLength="10.37" lengthAdjust="spacingAndGlyphs">D</text></g>
<g font-size="14.31" fill="#000"><text x="421.77" y="371.70" textLength="8.30" lengthAdjust="spacingAndGlyphs">S</text><text x="430.46" y="371.70" textLength="10.03" lengthAdjust="spacingAndGlyphs">H</text><text x="441.03" y="371.70" textLength="8.23" lengthAdjust="spacingAndGlyphs">P</text></g>
<g font-size="14.31" fill="#000"><text x="497.65" y="371.70" textLength="12.90" lengthAdjust="spacingAndGlyphs">W</text><text x="511.31" y="371.70" textLength="8.30" lengthAdjust="spacingAndGlyphs">S</text><text x="519.41" y="371.70" textLength="9.23" lengthAdjust="spacingAndGlyphs">T</text></g>
<g font-size="14.31" fill="#000"><text x="576.34" y="371.70" textLength="9.23" lengthAdjust="spacingAndGlyphs">T</text><text x="585.45" y="371.70" textLength="9.61" lengthAdjust="spacingAndGlyphs">R</text><text x="594.92" y="371.70" textLength="9.33" lengthAdjust="spacingAndGlyphs">A</text></g>
<g font-size="14.31" fill="#fff"><text x="658.46" y="371.70" textLength="9.01" lengthAdjust="spacingAndGlyphs">B</text><text x="667.99" y="371.70" textLength="9.01" lengthAdjust="spacingAndGlyphs">B</text></g>
<rect x="87.5" y="345.6" width="620.0" height="47.30" fill="none" stroke="#000" stroke-width="1.11"/>
<line x1="87.50" y1="392.9" x2="87.50" y2="397.60" stroke="#000" stroke-width="1.11"/>
<line x1="165.00" y1="392.9" x2="165.00" y2="397.60" stroke="#000" stroke-width="1.11"/>
<line x1="242.50" y1="392.9" x2="242.50" y2="397.60" stroke="#000" stroke-width="1.11"/>
<line x1="320.00" y1="392.9" x2="320.00" y2="397.60" stroke="#000" stroke-width="1.11"/>
<line x1="397.50" y1="392.9" x2="397.50" y2="397.60" stroke="#000" stroke-width="1.11"/>
<line x1="475.00" y1="392.9" x2="475.00" y2="397.60" stroke="#000" stroke-width="1.11"/>
<line x1="552.50" y1="392.9" x2="552.50" y2="397.60" stroke="#000" stroke-width="1.11"/>
<line x1="630.00" y1="392.9" x2="630.00" y2="397.60" stroke="#000" stroke-width="1.11"/>
<line x1="707.50" y1="392.9" x2="707.50" y2="397.60" stroke="#000" stroke-width="1.11"/>
</svg>
</body></html>
